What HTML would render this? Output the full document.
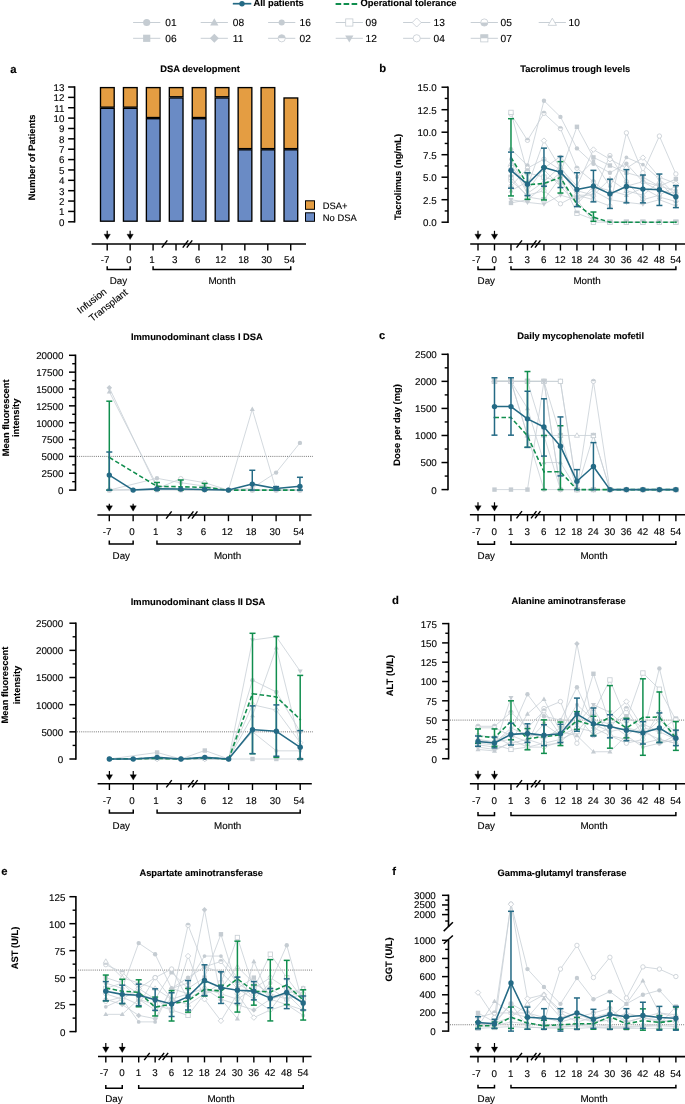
<!DOCTYPE html>
<html><head><meta charset="utf-8"><style>
html,body{margin:0;padding:0;background:#fff;width:685px;height:1104px;overflow:hidden}
svg{display:block}
text{font-family:"Liberation Sans",sans-serif;text-rendering:geometricPrecision}
</style></head><body>
<div style="will-change:transform"><svg width="685" height="1104" viewBox="0 0 685 1104">
<rect width="685" height="1104" fill="#fff"/>
<line x1="232.8" y1="3.7" x2="251.3" y2="3.7" stroke="#246A85" stroke-width="1.7"/>
<circle cx="242" cy="3.7" r="2.7" fill="#246A85"/>
<text x="253.4" y="6.3" font-size="9.35" font-weight="bold" text-anchor="start" fill="#000" stroke="#000" stroke-width="0.12">All patients</text>
<line x1="335.6" y1="3.9" x2="357.2" y2="3.9" stroke="#108E4E" stroke-width="2" stroke-dasharray="5.6,2.4"/>
<text x="360.5" y="6.3" font-size="9.35" font-weight="bold" text-anchor="start" fill="#000" stroke="#000" stroke-width="0.12">Operational tolerance</text>
<line x1="133.1" y1="22.5" x2="160.3" y2="22.5" stroke="#C8CFD5" stroke-width="1.0"/>
<circle cx="146.7" cy="22.5" r="3.6" fill="#C5CCD2"/>
<text x="165.3" y="26.1" font-size="10.2" text-anchor="start" fill="#000" stroke="#000" stroke-width="0.12">01</text>
<line x1="200.7" y1="22.5" x2="227.9" y2="22.5" stroke="#C8CFD5" stroke-width="1.0"/>
<polygon points="214.3,18.18 218.44,25.38 210.16,25.38" fill="#C5CCD2"/>
<text x="232.8" y="26.1" font-size="10.2" text-anchor="start" fill="#000" stroke="#000" stroke-width="0.12">08</text>
<line x1="268.1" y1="22.5" x2="295.3" y2="22.5" stroke="#C8CFD5" stroke-width="1.0"/>
<circle cx="281.7" cy="22.5" r="3.06" fill="#C5CCD2"/>
<text x="299.6" y="26.1" font-size="10.2" text-anchor="start" fill="#000" stroke="#000" stroke-width="0.12">16</text>
<line x1="335.7" y1="22.5" x2="362.9" y2="22.5" stroke="#C8CFD5" stroke-width="1.0"/>
<rect x="345.7" y="18.9" width="7.2" height="7.2" fill="#fff" stroke="#C5CCD2" stroke-width="0.8"/>
<text x="365.6" y="26.1" font-size="10.2" text-anchor="start" fill="#000" stroke="#000" stroke-width="0.12">09</text>
<line x1="403.1" y1="22.5" x2="430.3" y2="22.5" stroke="#C8CFD5" stroke-width="1.0"/>
<polygon points="416.7,18 421.2,22.5 416.7,27 412.2,22.5" fill="#fff" stroke="#C5CCD2" stroke-width="0.8"/>
<text x="433.6" y="26.1" font-size="10.2" text-anchor="start" fill="#000" stroke="#000" stroke-width="0.12">13</text>
<line x1="470.7" y1="22.5" x2="497.9" y2="22.5" stroke="#C8CFD5" stroke-width="1.0"/>
<circle cx="484.3" cy="22.5" r="3.6" fill="#fff" stroke="#C5CCD2" stroke-width="0.8"/>
<path d="M480.7,22.5 A3.6,3.6 0 0 0 487.9,22.5 Z" fill="#C5CCD2"/>
<text x="500.6" y="26.1" font-size="10.2" text-anchor="start" fill="#000" stroke="#000" stroke-width="0.12">05</text>
<line x1="538.7" y1="22.5" x2="565.9" y2="22.5" stroke="#C8CFD5" stroke-width="1.0"/>
<polygon points="552.3,18.18 556.44,25.38 548.16,25.38" fill="#fff" stroke="#C5CCD2" stroke-width="0.8"/>
<text x="568.6" y="26.1" font-size="10.2" text-anchor="start" fill="#000" stroke="#000" stroke-width="0.12">10</text>
<line x1="133.1" y1="38.3" x2="160.3" y2="38.3" stroke="#C8CFD5" stroke-width="1.0"/>
<rect x="143.1" y="34.7" width="7.2" height="7.2" fill="#C5CCD2"/>
<text x="165.3" y="41.9" font-size="10.2" text-anchor="start" fill="#000" stroke="#000" stroke-width="0.12">06</text>
<line x1="200.7" y1="38.3" x2="227.9" y2="38.3" stroke="#C8CFD5" stroke-width="1.0"/>
<polygon points="214.3,33.8 218.8,38.3 214.3,42.8 209.8,38.3" fill="#C5CCD2"/>
<text x="232.8" y="41.9" font-size="10.2" text-anchor="start" fill="#000" stroke="#000" stroke-width="0.12">11</text>
<line x1="268.1" y1="38.3" x2="295.3" y2="38.3" stroke="#C8CFD5" stroke-width="1.0"/>
<circle cx="281.7" cy="38.3" r="3.6" fill="#fff" stroke="#C5CCD2" stroke-width="0.8"/>
<path d="M278.1,38.3 A3.6,3.6 0 0 1 285.3,38.3 Z" fill="#C5CCD2"/>
<text x="299.6" y="41.9" font-size="10.2" text-anchor="start" fill="#000" stroke="#000" stroke-width="0.12">02</text>
<line x1="335.7" y1="38.3" x2="362.9" y2="38.3" stroke="#C8CFD5" stroke-width="1.0"/>
<polygon points="349.3,42.62 353.44,35.42 345.16,35.42" fill="#C5CCD2"/>
<text x="365.6" y="41.9" font-size="10.2" text-anchor="start" fill="#000" stroke="#000" stroke-width="0.12">12</text>
<line x1="403.1" y1="38.3" x2="430.3" y2="38.3" stroke="#C8CFD5" stroke-width="1.0"/>
<circle cx="416.7" cy="38.3" r="3.6" fill="#fff" stroke="#C5CCD2" stroke-width="0.8"/>
<text x="433.6" y="41.9" font-size="10.2" text-anchor="start" fill="#000" stroke="#000" stroke-width="0.12">04</text>
<line x1="470.7" y1="38.3" x2="497.9" y2="38.3" stroke="#C8CFD5" stroke-width="1.0"/>
<rect x="480.7" y="34.7" width="7.2" height="7.2" fill="#fff" stroke="#C5CCD2" stroke-width="0.8"/>
<rect x="480.7" y="34.7" width="7.2" height="3.6" fill="#C5CCD2"/>
<text x="500.6" y="41.9" font-size="10.2" text-anchor="start" fill="#000" stroke="#000" stroke-width="0.12">07</text>
<text x="10.2" y="72.6" font-size="11.3" font-weight="bold" text-anchor="start" fill="#000" stroke="#000" stroke-width="0.12">a</text>
<text x="200" y="72.2" font-size="9.35" font-weight="bold" text-anchor="middle" fill="#000" stroke="#000" stroke-width="0.12">DSA development</text>
<text x="379.2" y="72.4" font-size="11.3" font-weight="bold" text-anchor="start" fill="#000" stroke="#000" stroke-width="0.12">b</text>
<text x="575.3" y="72" font-size="9.35" font-weight="bold" text-anchor="middle" fill="#000" stroke="#000" stroke-width="0.12">Tacrolimus trough levels</text>
<text x="196.9" y="340.2" font-size="9.35" font-weight="bold" text-anchor="middle" fill="#000" stroke="#000" stroke-width="0.12">Immunodominant class I DSA</text>
<text x="379" y="339" font-size="11.1" font-weight="bold" text-anchor="start" fill="#000" stroke="#000" stroke-width="0.12">c</text>
<text x="580.7" y="339.4" font-size="9.35" font-weight="bold" text-anchor="middle" fill="#000" stroke="#000" stroke-width="0.12">Daily mycophenolate mofetil</text>
<text x="198" y="604.8" font-size="9.35" font-weight="bold" text-anchor="middle" fill="#000" stroke="#000" stroke-width="0.12">Immunodominant class II DSA</text>
<text x="392" y="603.9" font-size="11.3" font-weight="bold" text-anchor="start" fill="#000" stroke="#000" stroke-width="0.12">d</text>
<text x="568.6" y="603.8" font-size="9.35" font-weight="bold" text-anchor="middle" fill="#000" stroke="#000" stroke-width="0.12">Alanine aminotransferase</text>
<text x="1.2" y="875.1" font-size="11.3" font-weight="bold" text-anchor="start" fill="#000" stroke="#000" stroke-width="0.12">e</text>
<text x="201.2" y="875.6" font-size="9.35" font-weight="bold" text-anchor="middle" fill="#000" stroke="#000" stroke-width="0.12">Aspartate aminotransferase</text>
<text x="392.2" y="875.4" font-size="11.3" font-weight="bold" text-anchor="start" fill="#000" stroke="#000" stroke-width="0.12">f</text>
<text x="562" y="875.6" font-size="9.35" font-weight="bold" text-anchor="middle" fill="#000" stroke="#000" stroke-width="0.12">Gamma-glutamyl transferase</text>
<text x="35.2" y="157.3" font-size="9.35" font-weight="bold" text-anchor="middle" fill="#000" stroke="#000" stroke-width="0.12" transform="rotate(-90 35.2 157.3)">Number of Patients</text>
<text x="401" y="176.9" font-size="9.35" font-weight="bold" text-anchor="middle" fill="#000" stroke="#000" stroke-width="0.12" transform="rotate(-90 401 176.9)">Tacrolimus (ng/mL)</text>
<text x="8.6" y="417.8" font-size="9.35" font-weight="bold" text-anchor="middle" fill="#000" stroke="#000" stroke-width="0.12" transform="rotate(-90 8.6 417.8)">Mean fluorescent</text>
<text x="19.2" y="417.8" font-size="9.35" font-weight="bold" text-anchor="middle" fill="#000" stroke="#000" stroke-width="0.12" transform="rotate(-90 19.2 417.8)">intensity</text>
<text x="400.1" y="424.9" font-size="9.35" font-weight="bold" text-anchor="middle" fill="#000" stroke="#000" stroke-width="0.12" transform="rotate(-90 400.1 424.9)">Dose per day (mg)</text>
<text x="8.2" y="685" font-size="9.35" font-weight="bold" text-anchor="middle" fill="#000" stroke="#000" stroke-width="0.12" transform="rotate(-90 8.2 685)">Mean fluorescent</text>
<text x="19.6" y="685" font-size="9.35" font-weight="bold" text-anchor="middle" fill="#000" stroke="#000" stroke-width="0.12" transform="rotate(-90 19.6 685)">intensity</text>
<text x="392.9" y="675.5" font-size="9.35" font-weight="bold" text-anchor="middle" fill="#000" stroke="#000" stroke-width="0.12" transform="rotate(-90 392.9 675.5)">ALT (U/L)</text>
<text x="18.1" y="948" font-size="9.35" font-weight="bold" text-anchor="middle" fill="#000" stroke="#000" stroke-width="0.12" transform="rotate(-90 18.1 948)">AST (U/L)</text>
<text x="392" y="959.5" font-size="9.35" font-weight="bold" text-anchor="middle" fill="#000" stroke="#000" stroke-width="0.12" transform="rotate(-90 392 959.5)">GGT (U/L)</text>
<line x1="74.6" y1="86.25" x2="74.6" y2="222.55" stroke="#000" stroke-width="1.6"/>
<line x1="68.1" y1="221.8" x2="74.6" y2="221.8" stroke="#000" stroke-width="1.5"/>
<text x="64.5" y="225.7" font-size="9.8" text-anchor="end" fill="#000" stroke="#000" stroke-width="0.12">0</text>
<line x1="68.1" y1="211.43" x2="74.6" y2="211.43" stroke="#000" stroke-width="1.5"/>
<text x="64.5" y="215.33" font-size="9.8" text-anchor="end" fill="#000" stroke="#000" stroke-width="0.12">1</text>
<line x1="68.1" y1="201.06" x2="74.6" y2="201.06" stroke="#000" stroke-width="1.5"/>
<text x="64.5" y="204.96" font-size="9.8" text-anchor="end" fill="#000" stroke="#000" stroke-width="0.12">2</text>
<line x1="68.1" y1="190.69" x2="74.6" y2="190.69" stroke="#000" stroke-width="1.5"/>
<text x="64.5" y="194.59" font-size="9.8" text-anchor="end" fill="#000" stroke="#000" stroke-width="0.12">3</text>
<line x1="68.1" y1="180.32" x2="74.6" y2="180.32" stroke="#000" stroke-width="1.5"/>
<text x="64.5" y="184.22" font-size="9.8" text-anchor="end" fill="#000" stroke="#000" stroke-width="0.12">4</text>
<line x1="68.1" y1="169.95" x2="74.6" y2="169.95" stroke="#000" stroke-width="1.5"/>
<text x="64.5" y="173.85" font-size="9.8" text-anchor="end" fill="#000" stroke="#000" stroke-width="0.12">5</text>
<line x1="68.1" y1="159.58" x2="74.6" y2="159.58" stroke="#000" stroke-width="1.5"/>
<text x="64.5" y="163.48" font-size="9.8" text-anchor="end" fill="#000" stroke="#000" stroke-width="0.12">6</text>
<line x1="68.1" y1="149.22" x2="74.6" y2="149.22" stroke="#000" stroke-width="1.5"/>
<text x="64.5" y="153.12" font-size="9.8" text-anchor="end" fill="#000" stroke="#000" stroke-width="0.12">7</text>
<line x1="68.1" y1="138.85" x2="74.6" y2="138.85" stroke="#000" stroke-width="1.5"/>
<text x="64.5" y="142.75" font-size="9.8" text-anchor="end" fill="#000" stroke="#000" stroke-width="0.12">8</text>
<line x1="68.1" y1="128.48" x2="74.6" y2="128.48" stroke="#000" stroke-width="1.5"/>
<text x="64.5" y="132.38" font-size="9.8" text-anchor="end" fill="#000" stroke="#000" stroke-width="0.12">9</text>
<line x1="68.1" y1="118.11" x2="74.6" y2="118.11" stroke="#000" stroke-width="1.5"/>
<text x="64.5" y="122.01" font-size="9.8" text-anchor="end" fill="#000" stroke="#000" stroke-width="0.12">10</text>
<line x1="68.1" y1="107.74" x2="74.6" y2="107.74" stroke="#000" stroke-width="1.5"/>
<text x="64.5" y="111.64" font-size="9.8" text-anchor="end" fill="#000" stroke="#000" stroke-width="0.12">11</text>
<line x1="68.1" y1="97.37" x2="74.6" y2="97.37" stroke="#000" stroke-width="1.5"/>
<text x="64.5" y="101.27" font-size="9.8" text-anchor="end" fill="#000" stroke="#000" stroke-width="0.12">12</text>
<line x1="68.1" y1="87" x2="74.6" y2="87" stroke="#000" stroke-width="1.5"/>
<text x="64.5" y="90.9" font-size="9.8" text-anchor="end" fill="#000" stroke="#000" stroke-width="0.12">13</text>
<rect x="100.5" y="87.6" width="13.7" height="19.54" fill="#E49D42" stroke="#000" stroke-width="1.35"/>
<rect x="100.5" y="108.34" width="13.7" height="112.86" fill="#6A8BC5" stroke="#000" stroke-width="1.35"/>
<rect x="123.44" y="87.6" width="13.7" height="19.54" fill="#E49D42" stroke="#000" stroke-width="1.35"/>
<rect x="123.44" y="108.34" width="13.7" height="112.86" fill="#6A8BC5" stroke="#000" stroke-width="1.35"/>
<rect x="146.38" y="87.6" width="13.7" height="29.91" fill="#E49D42" stroke="#000" stroke-width="1.35"/>
<rect x="146.38" y="118.71" width="13.7" height="102.49" fill="#6A8BC5" stroke="#000" stroke-width="1.35"/>
<rect x="169.32" y="87.6" width="13.7" height="9.17" fill="#E49D42" stroke="#000" stroke-width="1.35"/>
<rect x="169.32" y="97.97" width="13.7" height="123.23" fill="#6A8BC5" stroke="#000" stroke-width="1.35"/>
<rect x="192.26" y="87.6" width="13.7" height="29.91" fill="#E49D42" stroke="#000" stroke-width="1.35"/>
<rect x="192.26" y="118.71" width="13.7" height="102.49" fill="#6A8BC5" stroke="#000" stroke-width="1.35"/>
<rect x="215.2" y="87.6" width="13.7" height="9.17" fill="#E49D42" stroke="#000" stroke-width="1.35"/>
<rect x="215.2" y="97.97" width="13.7" height="123.23" fill="#6A8BC5" stroke="#000" stroke-width="1.35"/>
<rect x="238.14" y="87.6" width="13.7" height="61.02" fill="#E49D42" stroke="#000" stroke-width="1.35"/>
<rect x="238.14" y="149.82" width="13.7" height="71.38" fill="#6A8BC5" stroke="#000" stroke-width="1.35"/>
<rect x="261.08" y="87.6" width="13.7" height="61.02" fill="#E49D42" stroke="#000" stroke-width="1.35"/>
<rect x="261.08" y="149.82" width="13.7" height="71.38" fill="#6A8BC5" stroke="#000" stroke-width="1.35"/>
<rect x="284.02" y="97.97" width="13.7" height="50.65" fill="#E49D42" stroke="#000" stroke-width="1.35"/>
<rect x="284.02" y="149.82" width="13.7" height="71.38" fill="#6A8BC5" stroke="#000" stroke-width="1.35"/>
<rect x="305.5" y="200.8" width="9" height="8.5" fill="#E49D42" stroke="#000" stroke-width="1"/>
<rect x="305.5" y="212.8" width="9" height="8.5" fill="#6A8BC5" stroke="#000" stroke-width="1"/>
<text x="322.8" y="209.1" font-size="9.4" text-anchor="start" fill="#000" stroke="#000" stroke-width="0.12">DSA+</text>
<text x="322.8" y="221.3" font-size="9.4" text-anchor="start" fill="#000" stroke="#000" stroke-width="0.12">No DSA</text>
<line x1="91.7" y1="244" x2="306" y2="244" stroke="#000" stroke-width="1.6"/>
<line x1="107.2" y1="244" x2="107.2" y2="250.5" stroke="#000" stroke-width="1.4"/>
<text x="105" y="262.8" font-size="9.8" text-anchor="middle" fill="#000" stroke="#000" stroke-width="0.12">-7</text>
<line x1="130.14" y1="244" x2="130.14" y2="250.5" stroke="#000" stroke-width="1.4"/>
<text x="128.94" y="262.8" font-size="9.8" text-anchor="middle" fill="#000" stroke="#000" stroke-width="0.12">0</text>
<line x1="153.08" y1="244" x2="153.08" y2="250.5" stroke="#000" stroke-width="1.4"/>
<text x="151.88" y="262.8" font-size="9.8" text-anchor="middle" fill="#000" stroke="#000" stroke-width="0.12">1</text>
<line x1="176.02" y1="244" x2="176.02" y2="250.5" stroke="#000" stroke-width="1.4"/>
<text x="174.82" y="262.8" font-size="9.8" text-anchor="middle" fill="#000" stroke="#000" stroke-width="0.12">3</text>
<line x1="198.96" y1="244" x2="198.96" y2="250.5" stroke="#000" stroke-width="1.4"/>
<text x="197.76" y="262.8" font-size="9.8" text-anchor="middle" fill="#000" stroke="#000" stroke-width="0.12">6</text>
<line x1="221.9" y1="244" x2="221.9" y2="250.5" stroke="#000" stroke-width="1.4"/>
<text x="220.7" y="262.8" font-size="9.8" text-anchor="middle" fill="#000" stroke="#000" stroke-width="0.12">12</text>
<line x1="244.84" y1="244" x2="244.84" y2="250.5" stroke="#000" stroke-width="1.4"/>
<text x="243.64" y="262.8" font-size="9.8" text-anchor="middle" fill="#000" stroke="#000" stroke-width="0.12">18</text>
<line x1="267.78" y1="244" x2="267.78" y2="250.5" stroke="#000" stroke-width="1.4"/>
<text x="266.58" y="262.8" font-size="9.8" text-anchor="middle" fill="#000" stroke="#000" stroke-width="0.12">30</text>
<line x1="290.72" y1="244" x2="290.72" y2="250.5" stroke="#000" stroke-width="1.4"/>
<text x="289.52" y="262.8" font-size="9.8" text-anchor="middle" fill="#000" stroke="#000" stroke-width="0.12">54</text>
<line x1="107.2" y1="230.8" x2="107.2" y2="235.6" stroke="#000" stroke-width="1.2"/>
<polygon points="104,234.2 110.4,234.2 107.2,239.6" fill="#000" stroke="#000" stroke-width="0.3" stroke-linejoin="miter"/>
<line x1="130.14" y1="230.8" x2="130.14" y2="235.6" stroke="#000" stroke-width="1.2"/>
<polygon points="126.94,234.2 133.34,234.2 130.14,239.6" fill="#000" stroke="#000" stroke-width="0.3" stroke-linejoin="miter"/>
<line x1="161.8" y1="247.65" x2="167.3" y2="240.35" stroke="#000" stroke-width="1.4"/>
<line x1="182.74" y1="247.65" x2="188.24" y2="240.35" stroke="#000" stroke-width="1.4"/>
<line x1="186.74" y1="247.65" x2="192.24" y2="240.35" stroke="#000" stroke-width="1.4"/>
<polyline points="107.2,266.3 107.2,269.5 130.14,269.5 130.14,266.3" fill="none" stroke="#000" stroke-width="1.5"/>
<polyline points="153.08,266.3 153.08,269.5 290.72,269.5 290.72,266.3" fill="none" stroke="#000" stroke-width="1.5"/>
<text x="118.5" y="284.4" font-size="9.8" text-anchor="middle" fill="#000" stroke="#000" stroke-width="0.12">Day</text>
<text x="222" y="284.4" font-size="9.8" text-anchor="middle" fill="#000" stroke="#000" stroke-width="0.12">Month</text>
<text x="107.3" y="292.8" font-size="9.8" text-anchor="end" fill="#000" stroke="#000" stroke-width="0.12" transform="rotate(-38 107.3 292.8)">Infusion</text>
<text x="128.5" y="293.6" font-size="9.8" text-anchor="end" fill="#000" stroke="#000" stroke-width="0.12" transform="rotate(-38 128.5 293.6)">Transplant</text>
<polyline points="510.98,149.3 527.47,165.5 543.96,100.7 560.45,116.9 576.94,148.4 593.43,163.7 609.92,172.7 626.41,163.7 642.9,181.7 659.39,186.2 675.88,190.7" fill="none" stroke="#C8CFD5" stroke-width="0.8" stroke-linejoin="round"/>
<polyline points="510.98,114.2 527.47,140.3 543.96,113.3 560.45,128.6 576.94,168.2 593.43,181.7 609.92,195.2 626.41,186.2 642.9,181.7 659.39,190.7 675.88,193.4" fill="none" stroke="#C8CFD5" stroke-width="0.8" stroke-linejoin="round"/>
<polyline points="510.98,166.4 527.47,186.2 543.96,140.66 560.45,168.2 576.94,186.2 593.43,149.57 609.92,159.2 626.41,168.2 642.9,157.67 659.39,177.2 675.88,183.5" fill="none" stroke="#C8CFD5" stroke-width="0.8" stroke-linejoin="round"/>
<polyline points="510.98,202.94 527.47,199.7 543.96,186.2 560.45,172.7 576.94,126.8 593.43,157.4 609.92,165.5 626.41,172.7 642.9,177.2 659.39,186.2 675.88,179" fill="none" stroke="#C8CFD5" stroke-width="0.8" stroke-linejoin="round"/>
<polyline points="510.98,180.8 527.47,195.2 543.96,190.7 560.45,203.75 576.94,195.2 593.43,199.7 609.92,206 626.41,132.83 642.9,172.7 659.39,136.07 675.88,173.96" fill="none" stroke="#C8CFD5" stroke-width="0.8" stroke-linejoin="round"/>
<polyline points="510.98,112.4 527.47,172.7 543.96,177.2 560.45,181.7 576.94,199.7 593.43,222.2 609.92,222.2 626.41,222.2 642.9,222.2 659.39,222.2 675.88,222.2" fill="none" stroke="#C8CFD5" stroke-width="0.8" stroke-linejoin="round"/>
<polyline points="510.98,177.2 527.47,197 543.96,199.7 560.45,177.2 576.94,213.2 593.43,219.5 609.92,222.2 626.41,222.2 642.9,222.2 659.39,222.2 675.88,222.2" fill="none" stroke="#C8CFD5" stroke-width="0.8" stroke-linejoin="round"/>
<polyline points="510.98,190.7 527.47,181.7 543.96,170 560.45,186.2 576.94,204.2 593.43,186.2 609.92,190.7 626.41,195.2 642.9,188 659.39,197 675.88,201.5" fill="none" stroke="#C8CFD5" stroke-width="0.8" stroke-linejoin="round"/>
<polyline points="510.98,159.2 527.47,190.7 543.96,168.2 560.45,156.5 576.94,177.2 593.43,161 609.92,186.2 626.41,157.4 642.9,164.6 659.39,179 675.88,195.2" fill="none" stroke="#C8CFD5" stroke-width="0.8" stroke-linejoin="round"/>
<polyline points="510.98,186.2 527.47,168.2 543.96,159.2 560.45,170 576.94,195.2 593.43,195.2 609.92,155.6 626.41,181.7 642.9,199.7 659.39,195.2 675.88,186.2" fill="none" stroke="#C8CFD5" stroke-width="0.8" stroke-linejoin="round"/>
<polyline points="510.98,199.7 527.47,202.4 543.96,204.2 560.45,195.2 576.94,199.7 593.43,190.7 609.92,199.7 626.41,202.4 642.9,204.2 659.39,199.7 675.88,206" fill="none" stroke="#C8CFD5" stroke-width="0.8" stroke-linejoin="round"/>
<polyline points="510.98,163.7 527.47,193.4 543.96,181.7 560.45,166.4 576.94,190.7 593.43,195.2 609.92,179 626.41,190.7 642.9,195.2 659.39,181.7 675.88,199.7" fill="none" stroke="#C8CFD5" stroke-width="0.8" stroke-linejoin="round"/>
<circle cx="510.98" cy="149.3" r="2.2" fill="#C5CCD2"/>
<circle cx="527.47" cy="165.5" r="2.2" fill="#C5CCD2"/>
<circle cx="543.96" cy="100.7" r="2.2" fill="#C5CCD2"/>
<circle cx="560.45" cy="116.9" r="2.2" fill="#C5CCD2"/>
<circle cx="576.94" cy="148.4" r="2.2" fill="#C5CCD2"/>
<circle cx="593.43" cy="163.7" r="2.2" fill="#C5CCD2"/>
<circle cx="609.92" cy="172.7" r="2.2" fill="#C5CCD2"/>
<circle cx="626.41" cy="163.7" r="2.2" fill="#C5CCD2"/>
<circle cx="642.9" cy="181.7" r="2.2" fill="#C5CCD2"/>
<circle cx="659.39" cy="186.2" r="2.2" fill="#C5CCD2"/>
<circle cx="675.88" cy="190.7" r="2.2" fill="#C5CCD2"/>
<circle cx="510.98" cy="114.2" r="2.2" fill="#fff" stroke="#C5CCD2" stroke-width="0.8"/>
<path d="M508.78,114.2 A2.2,2.2 0 0 1 513.18,114.2 Z" fill="#C5CCD2"/>
<circle cx="527.47" cy="140.3" r="2.2" fill="#fff" stroke="#C5CCD2" stroke-width="0.8"/>
<path d="M525.27,140.3 A2.2,2.2 0 0 1 529.67,140.3 Z" fill="#C5CCD2"/>
<circle cx="543.96" cy="113.3" r="2.2" fill="#fff" stroke="#C5CCD2" stroke-width="0.8"/>
<path d="M541.76,113.3 A2.2,2.2 0 0 1 546.16,113.3 Z" fill="#C5CCD2"/>
<circle cx="560.45" cy="128.6" r="2.2" fill="#fff" stroke="#C5CCD2" stroke-width="0.8"/>
<path d="M558.25,128.6 A2.2,2.2 0 0 1 562.65,128.6 Z" fill="#C5CCD2"/>
<circle cx="576.94" cy="168.2" r="2.2" fill="#fff" stroke="#C5CCD2" stroke-width="0.8"/>
<path d="M574.74,168.2 A2.2,2.2 0 0 1 579.14,168.2 Z" fill="#C5CCD2"/>
<circle cx="593.43" cy="181.7" r="2.2" fill="#fff" stroke="#C5CCD2" stroke-width="0.8"/>
<path d="M591.23,181.7 A2.2,2.2 0 0 1 595.63,181.7 Z" fill="#C5CCD2"/>
<circle cx="609.92" cy="195.2" r="2.2" fill="#fff" stroke="#C5CCD2" stroke-width="0.8"/>
<path d="M607.72,195.2 A2.2,2.2 0 0 1 612.12,195.2 Z" fill="#C5CCD2"/>
<circle cx="626.41" cy="186.2" r="2.2" fill="#fff" stroke="#C5CCD2" stroke-width="0.8"/>
<path d="M624.21,186.2 A2.2,2.2 0 0 1 628.61,186.2 Z" fill="#C5CCD2"/>
<circle cx="642.9" cy="181.7" r="2.2" fill="#fff" stroke="#C5CCD2" stroke-width="0.8"/>
<path d="M640.7,181.7 A2.2,2.2 0 0 1 645.1,181.7 Z" fill="#C5CCD2"/>
<circle cx="659.39" cy="190.7" r="2.2" fill="#fff" stroke="#C5CCD2" stroke-width="0.8"/>
<path d="M657.19,190.7 A2.2,2.2 0 0 1 661.59,190.7 Z" fill="#C5CCD2"/>
<circle cx="675.88" cy="193.4" r="2.2" fill="#fff" stroke="#C5CCD2" stroke-width="0.8"/>
<path d="M673.68,193.4 A2.2,2.2 0 0 1 678.08,193.4 Z" fill="#C5CCD2"/>
<polygon points="510.98,163.65 513.73,166.4 510.98,169.15 508.23,166.4" fill="#fff" stroke="#C5CCD2" stroke-width="0.8"/>
<polygon points="527.47,183.45 530.22,186.2 527.47,188.95 524.72,186.2" fill="#fff" stroke="#C5CCD2" stroke-width="0.8"/>
<polygon points="543.96,137.91 546.71,140.66 543.96,143.41 541.21,140.66" fill="#fff" stroke="#C5CCD2" stroke-width="0.8"/>
<polygon points="560.45,165.45 563.2,168.2 560.45,170.95 557.7,168.2" fill="#fff" stroke="#C5CCD2" stroke-width="0.8"/>
<polygon points="576.94,183.45 579.69,186.2 576.94,188.95 574.19,186.2" fill="#fff" stroke="#C5CCD2" stroke-width="0.8"/>
<polygon points="593.43,146.82 596.18,149.57 593.43,152.32 590.68,149.57" fill="#fff" stroke="#C5CCD2" stroke-width="0.8"/>
<polygon points="609.92,156.45 612.67,159.2 609.92,161.95 607.17,159.2" fill="#fff" stroke="#C5CCD2" stroke-width="0.8"/>
<polygon points="626.41,165.45 629.16,168.2 626.41,170.95 623.66,168.2" fill="#fff" stroke="#C5CCD2" stroke-width="0.8"/>
<polygon points="642.9,154.92 645.65,157.67 642.9,160.42 640.15,157.67" fill="#fff" stroke="#C5CCD2" stroke-width="0.8"/>
<polygon points="659.39,174.45 662.14,177.2 659.39,179.95 656.64,177.2" fill="#fff" stroke="#C5CCD2" stroke-width="0.8"/>
<polygon points="675.88,180.75 678.63,183.5 675.88,186.25 673.13,183.5" fill="#fff" stroke="#C5CCD2" stroke-width="0.8"/>
<rect x="508.78" y="200.74" width="4.4" height="4.4" fill="#C5CCD2"/>
<rect x="525.27" y="197.5" width="4.4" height="4.4" fill="#C5CCD2"/>
<rect x="541.76" y="184" width="4.4" height="4.4" fill="#C5CCD2"/>
<rect x="558.25" y="170.5" width="4.4" height="4.4" fill="#C5CCD2"/>
<rect x="574.74" y="124.6" width="4.4" height="4.4" fill="#C5CCD2"/>
<rect x="591.23" y="155.2" width="4.4" height="4.4" fill="#C5CCD2"/>
<rect x="607.72" y="163.3" width="4.4" height="4.4" fill="#C5CCD2"/>
<rect x="624.21" y="170.5" width="4.4" height="4.4" fill="#C5CCD2"/>
<rect x="640.7" y="175" width="4.4" height="4.4" fill="#C5CCD2"/>
<rect x="657.19" y="184" width="4.4" height="4.4" fill="#C5CCD2"/>
<rect x="673.68" y="176.8" width="4.4" height="4.4" fill="#C5CCD2"/>
<circle cx="510.98" cy="180.8" r="2.2" fill="#fff" stroke="#C5CCD2" stroke-width="0.8"/>
<circle cx="527.47" cy="195.2" r="2.2" fill="#fff" stroke="#C5CCD2" stroke-width="0.8"/>
<circle cx="543.96" cy="190.7" r="2.2" fill="#fff" stroke="#C5CCD2" stroke-width="0.8"/>
<circle cx="560.45" cy="203.75" r="2.2" fill="#fff" stroke="#C5CCD2" stroke-width="0.8"/>
<circle cx="576.94" cy="195.2" r="2.2" fill="#fff" stroke="#C5CCD2" stroke-width="0.8"/>
<circle cx="593.43" cy="199.7" r="2.2" fill="#fff" stroke="#C5CCD2" stroke-width="0.8"/>
<circle cx="609.92" cy="206" r="2.2" fill="#fff" stroke="#C5CCD2" stroke-width="0.8"/>
<circle cx="626.41" cy="132.83" r="2.2" fill="#fff" stroke="#C5CCD2" stroke-width="0.8"/>
<circle cx="642.9" cy="172.7" r="2.2" fill="#fff" stroke="#C5CCD2" stroke-width="0.8"/>
<circle cx="659.39" cy="136.07" r="2.2" fill="#fff" stroke="#C5CCD2" stroke-width="0.8"/>
<circle cx="675.88" cy="173.96" r="2.2" fill="#fff" stroke="#C5CCD2" stroke-width="0.8"/>
<rect x="508.78" y="110.2" width="4.4" height="4.4" fill="#fff" stroke="#C5CCD2" stroke-width="0.8"/>
<rect x="525.27" y="170.5" width="4.4" height="4.4" fill="#fff" stroke="#C5CCD2" stroke-width="0.8"/>
<rect x="541.76" y="175" width="4.4" height="4.4" fill="#fff" stroke="#C5CCD2" stroke-width="0.8"/>
<rect x="558.25" y="179.5" width="4.4" height="4.4" fill="#fff" stroke="#C5CCD2" stroke-width="0.8"/>
<rect x="574.74" y="197.5" width="4.4" height="4.4" fill="#fff" stroke="#C5CCD2" stroke-width="0.8"/>
<rect x="591.23" y="220" width="4.4" height="4.4" fill="#fff" stroke="#C5CCD2" stroke-width="0.8"/>
<rect x="607.72" y="220" width="4.4" height="4.4" fill="#fff" stroke="#C5CCD2" stroke-width="0.8"/>
<rect x="624.21" y="220" width="4.4" height="4.4" fill="#fff" stroke="#C5CCD2" stroke-width="0.8"/>
<rect x="640.7" y="220" width="4.4" height="4.4" fill="#fff" stroke="#C5CCD2" stroke-width="0.8"/>
<rect x="657.19" y="220" width="4.4" height="4.4" fill="#fff" stroke="#C5CCD2" stroke-width="0.8"/>
<rect x="673.68" y="220" width="4.4" height="4.4" fill="#fff" stroke="#C5CCD2" stroke-width="0.8"/>
<rect x="508.78" y="175" width="4.4" height="4.4" fill="#fff" stroke="#C5CCD2" stroke-width="0.8"/>
<rect x="508.78" y="175" width="4.4" height="2.2" fill="#C5CCD2"/>
<rect x="525.27" y="194.8" width="4.4" height="4.4" fill="#fff" stroke="#C5CCD2" stroke-width="0.8"/>
<rect x="525.27" y="194.8" width="4.4" height="2.2" fill="#C5CCD2"/>
<rect x="541.76" y="197.5" width="4.4" height="4.4" fill="#fff" stroke="#C5CCD2" stroke-width="0.8"/>
<rect x="541.76" y="197.5" width="4.4" height="2.2" fill="#C5CCD2"/>
<rect x="558.25" y="175" width="4.4" height="4.4" fill="#fff" stroke="#C5CCD2" stroke-width="0.8"/>
<rect x="558.25" y="175" width="4.4" height="2.2" fill="#C5CCD2"/>
<rect x="574.74" y="211" width="4.4" height="4.4" fill="#fff" stroke="#C5CCD2" stroke-width="0.8"/>
<rect x="574.74" y="211" width="4.4" height="2.2" fill="#C5CCD2"/>
<rect x="591.23" y="217.3" width="4.4" height="4.4" fill="#fff" stroke="#C5CCD2" stroke-width="0.8"/>
<rect x="591.23" y="217.3" width="4.4" height="2.2" fill="#C5CCD2"/>
<rect x="607.72" y="220" width="4.4" height="4.4" fill="#fff" stroke="#C5CCD2" stroke-width="0.8"/>
<rect x="607.72" y="220" width="4.4" height="2.2" fill="#C5CCD2"/>
<rect x="624.21" y="220" width="4.4" height="4.4" fill="#fff" stroke="#C5CCD2" stroke-width="0.8"/>
<rect x="624.21" y="220" width="4.4" height="2.2" fill="#C5CCD2"/>
<rect x="640.7" y="220" width="4.4" height="4.4" fill="#fff" stroke="#C5CCD2" stroke-width="0.8"/>
<rect x="640.7" y="220" width="4.4" height="2.2" fill="#C5CCD2"/>
<rect x="657.19" y="220" width="4.4" height="4.4" fill="#fff" stroke="#C5CCD2" stroke-width="0.8"/>
<rect x="657.19" y="220" width="4.4" height="2.2" fill="#C5CCD2"/>
<rect x="673.68" y="220" width="4.4" height="4.4" fill="#fff" stroke="#C5CCD2" stroke-width="0.8"/>
<rect x="673.68" y="220" width="4.4" height="2.2" fill="#C5CCD2"/>
<polygon points="510.98,188.06 513.51,192.46 508.45,192.46" fill="#C5CCD2"/>
<polygon points="527.47,179.06 530,183.46 524.94,183.46" fill="#C5CCD2"/>
<polygon points="543.96,167.36 546.49,171.76 541.43,171.76" fill="#C5CCD2"/>
<polygon points="560.45,183.56 562.98,187.96 557.92,187.96" fill="#C5CCD2"/>
<polygon points="576.94,201.56 579.47,205.96 574.41,205.96" fill="#C5CCD2"/>
<polygon points="593.43,183.56 595.96,187.96 590.9,187.96" fill="#C5CCD2"/>
<polygon points="609.92,188.06 612.45,192.46 607.39,192.46" fill="#C5CCD2"/>
<polygon points="626.41,192.56 628.94,196.96 623.88,196.96" fill="#C5CCD2"/>
<polygon points="642.9,185.36 645.43,189.76 640.37,189.76" fill="#C5CCD2"/>
<polygon points="659.39,194.36 661.92,198.76 656.86,198.76" fill="#C5CCD2"/>
<polygon points="675.88,198.86 678.41,203.26 673.35,203.26" fill="#C5CCD2"/>
<circle cx="510.98" cy="159.2" r="1.87" fill="#C5CCD2"/>
<circle cx="527.47" cy="190.7" r="1.87" fill="#C5CCD2"/>
<circle cx="543.96" cy="168.2" r="1.87" fill="#C5CCD2"/>
<circle cx="560.45" cy="156.5" r="1.87" fill="#C5CCD2"/>
<circle cx="576.94" cy="177.2" r="1.87" fill="#C5CCD2"/>
<circle cx="593.43" cy="161" r="1.87" fill="#C5CCD2"/>
<circle cx="609.92" cy="186.2" r="1.87" fill="#C5CCD2"/>
<circle cx="626.41" cy="157.4" r="1.87" fill="#C5CCD2"/>
<circle cx="642.9" cy="164.6" r="1.87" fill="#C5CCD2"/>
<circle cx="659.39" cy="179" r="1.87" fill="#C5CCD2"/>
<circle cx="675.88" cy="195.2" r="1.87" fill="#C5CCD2"/>
<circle cx="510.98" cy="186.2" r="2.2" fill="#fff" stroke="#C5CCD2" stroke-width="0.8"/>
<path d="M508.78,186.2 A2.2,2.2 0 0 0 513.18,186.2 Z" fill="#C5CCD2"/>
<circle cx="527.47" cy="168.2" r="2.2" fill="#fff" stroke="#C5CCD2" stroke-width="0.8"/>
<path d="M525.27,168.2 A2.2,2.2 0 0 0 529.67,168.2 Z" fill="#C5CCD2"/>
<circle cx="543.96" cy="159.2" r="2.2" fill="#fff" stroke="#C5CCD2" stroke-width="0.8"/>
<path d="M541.76,159.2 A2.2,2.2 0 0 0 546.16,159.2 Z" fill="#C5CCD2"/>
<circle cx="560.45" cy="170" r="2.2" fill="#fff" stroke="#C5CCD2" stroke-width="0.8"/>
<path d="M558.25,170 A2.2,2.2 0 0 0 562.65,170 Z" fill="#C5CCD2"/>
<circle cx="576.94" cy="195.2" r="2.2" fill="#fff" stroke="#C5CCD2" stroke-width="0.8"/>
<path d="M574.74,195.2 A2.2,2.2 0 0 0 579.14,195.2 Z" fill="#C5CCD2"/>
<circle cx="593.43" cy="195.2" r="2.2" fill="#fff" stroke="#C5CCD2" stroke-width="0.8"/>
<path d="M591.23,195.2 A2.2,2.2 0 0 0 595.63,195.2 Z" fill="#C5CCD2"/>
<circle cx="609.92" cy="155.6" r="2.2" fill="#fff" stroke="#C5CCD2" stroke-width="0.8"/>
<path d="M607.72,155.6 A2.2,2.2 0 0 0 612.12,155.6 Z" fill="#C5CCD2"/>
<circle cx="626.41" cy="181.7" r="2.2" fill="#fff" stroke="#C5CCD2" stroke-width="0.8"/>
<path d="M624.21,181.7 A2.2,2.2 0 0 0 628.61,181.7 Z" fill="#C5CCD2"/>
<circle cx="642.9" cy="199.7" r="2.2" fill="#fff" stroke="#C5CCD2" stroke-width="0.8"/>
<path d="M640.7,199.7 A2.2,2.2 0 0 0 645.1,199.7 Z" fill="#C5CCD2"/>
<circle cx="659.39" cy="195.2" r="2.2" fill="#fff" stroke="#C5CCD2" stroke-width="0.8"/>
<path d="M657.19,195.2 A2.2,2.2 0 0 0 661.59,195.2 Z" fill="#C5CCD2"/>
<circle cx="675.88" cy="186.2" r="2.2" fill="#fff" stroke="#C5CCD2" stroke-width="0.8"/>
<path d="M673.68,186.2 A2.2,2.2 0 0 0 678.08,186.2 Z" fill="#C5CCD2"/>
<polygon points="510.98,202.34 513.51,197.94 508.45,197.94" fill="#C5CCD2"/>
<polygon points="527.47,205.04 530,200.64 524.94,200.64" fill="#C5CCD2"/>
<polygon points="543.96,206.84 546.49,202.44 541.43,202.44" fill="#C5CCD2"/>
<polygon points="560.45,197.84 562.98,193.44 557.92,193.44" fill="#C5CCD2"/>
<polygon points="576.94,202.34 579.47,197.94 574.41,197.94" fill="#C5CCD2"/>
<polygon points="593.43,193.34 595.96,188.94 590.9,188.94" fill="#C5CCD2"/>
<polygon points="609.92,202.34 612.45,197.94 607.39,197.94" fill="#C5CCD2"/>
<polygon points="626.41,205.04 628.94,200.64 623.88,200.64" fill="#C5CCD2"/>
<polygon points="642.9,206.84 645.43,202.44 640.37,202.44" fill="#C5CCD2"/>
<polygon points="659.39,202.34 661.92,197.94 656.86,197.94" fill="#C5CCD2"/>
<polygon points="675.88,208.64 678.41,204.24 673.35,204.24" fill="#C5CCD2"/>
<polygon points="510.98,161.06 513.51,165.46 508.45,165.46" fill="#fff" stroke="#C5CCD2" stroke-width="0.8"/>
<polygon points="527.47,190.76 530,195.16 524.94,195.16" fill="#fff" stroke="#C5CCD2" stroke-width="0.8"/>
<polygon points="543.96,179.06 546.49,183.46 541.43,183.46" fill="#fff" stroke="#C5CCD2" stroke-width="0.8"/>
<polygon points="560.45,163.76 562.98,168.16 557.92,168.16" fill="#fff" stroke="#C5CCD2" stroke-width="0.8"/>
<polygon points="576.94,188.06 579.47,192.46 574.41,192.46" fill="#fff" stroke="#C5CCD2" stroke-width="0.8"/>
<polygon points="593.43,192.56 595.96,196.96 590.9,196.96" fill="#fff" stroke="#C5CCD2" stroke-width="0.8"/>
<polygon points="609.92,176.36 612.45,180.76 607.39,180.76" fill="#fff" stroke="#C5CCD2" stroke-width="0.8"/>
<polygon points="626.41,188.06 628.94,192.46 623.88,192.46" fill="#fff" stroke="#C5CCD2" stroke-width="0.8"/>
<polygon points="642.9,192.56 645.43,196.96 640.37,196.96" fill="#fff" stroke="#C5CCD2" stroke-width="0.8"/>
<polygon points="659.39,179.06 661.92,183.46 656.86,183.46" fill="#fff" stroke="#C5CCD2" stroke-width="0.8"/>
<polygon points="675.88,197.06 678.41,201.46 673.35,201.46" fill="#fff" stroke="#C5CCD2" stroke-width="0.8"/>
<line x1="510.98" y1="118.7" x2="510.98" y2="195.92" stroke="#108E4E" stroke-width="1.5"/>
<line x1="507.98" y1="118.7" x2="513.98" y2="118.7" stroke="#108E4E" stroke-width="1.5"/>
<line x1="507.98" y1="195.92" x2="513.98" y2="195.92" stroke="#108E4E" stroke-width="1.5"/>
<line x1="527.47" y1="172.7" x2="527.47" y2="199.34" stroke="#108E4E" stroke-width="1.5"/>
<line x1="524.47" y1="172.7" x2="530.47" y2="172.7" stroke="#108E4E" stroke-width="1.5"/>
<line x1="524.47" y1="199.34" x2="530.47" y2="199.34" stroke="#108E4E" stroke-width="1.5"/>
<line x1="543.96" y1="167.3" x2="543.96" y2="199.97" stroke="#108E4E" stroke-width="1.5"/>
<line x1="540.96" y1="167.3" x2="546.96" y2="167.3" stroke="#108E4E" stroke-width="1.5"/>
<line x1="540.96" y1="199.97" x2="546.96" y2="199.97" stroke="#108E4E" stroke-width="1.5"/>
<line x1="560.45" y1="161.63" x2="560.45" y2="193.04" stroke="#108E4E" stroke-width="1.5"/>
<line x1="557.45" y1="161.63" x2="563.45" y2="161.63" stroke="#108E4E" stroke-width="1.5"/>
<line x1="557.45" y1="193.04" x2="563.45" y2="193.04" stroke="#108E4E" stroke-width="1.5"/>
<line x1="593.43" y1="212.03" x2="593.43" y2="221.3" stroke="#108E4E" stroke-width="1.5"/>
<line x1="590.43" y1="212.03" x2="596.43" y2="212.03" stroke="#108E4E" stroke-width="1.5"/>
<line x1="590.43" y1="221.3" x2="596.43" y2="221.3" stroke="#108E4E" stroke-width="1.5"/>
<polyline points="510.98,157.4 527.47,184.67 543.96,183.5 560.45,177.38 576.94,204.2 593.43,217.16 609.92,222.2 626.41,222.2 642.9,222.2 659.39,222.2 675.88,222.2" fill="none" stroke="#108E4E" stroke-width="1.55" stroke-linejoin="round" stroke-dasharray="4.5,2.5"/>
<circle cx="510.98" cy="157.4" r="1.0" fill="#108E4E"/>
<circle cx="527.47" cy="184.67" r="1.0" fill="#108E4E"/>
<circle cx="543.96" cy="183.5" r="1.0" fill="#108E4E"/>
<circle cx="560.45" cy="177.38" r="1.0" fill="#108E4E"/>
<circle cx="576.94" cy="204.2" r="1.0" fill="#108E4E"/>
<circle cx="593.43" cy="217.16" r="1.0" fill="#108E4E"/>
<circle cx="609.92" cy="222.2" r="1.0" fill="#108E4E"/>
<circle cx="626.41" cy="222.2" r="1.0" fill="#108E4E"/>
<circle cx="642.9" cy="222.2" r="1.0" fill="#108E4E"/>
<circle cx="659.39" cy="222.2" r="1.0" fill="#108E4E"/>
<circle cx="675.88" cy="222.2" r="1.0" fill="#108E4E"/>
<line x1="510.98" y1="152.09" x2="510.98" y2="188.18" stroke="#246A85" stroke-width="1.5"/>
<line x1="507.98" y1="152.09" x2="513.98" y2="152.09" stroke="#246A85" stroke-width="1.5"/>
<line x1="507.98" y1="188.18" x2="513.98" y2="188.18" stroke="#246A85" stroke-width="1.5"/>
<line x1="527.47" y1="172.7" x2="527.47" y2="195.56" stroke="#246A85" stroke-width="1.5"/>
<line x1="524.47" y1="172.7" x2="530.47" y2="172.7" stroke="#246A85" stroke-width="1.5"/>
<line x1="524.47" y1="195.56" x2="530.47" y2="195.56" stroke="#246A85" stroke-width="1.5"/>
<line x1="543.96" y1="148.13" x2="543.96" y2="186.2" stroke="#246A85" stroke-width="1.5"/>
<line x1="540.96" y1="148.13" x2="546.96" y2="148.13" stroke="#246A85" stroke-width="1.5"/>
<line x1="540.96" y1="186.2" x2="546.96" y2="186.2" stroke="#246A85" stroke-width="1.5"/>
<line x1="560.45" y1="156.5" x2="560.45" y2="187.55" stroke="#246A85" stroke-width="1.5"/>
<line x1="557.45" y1="156.5" x2="563.45" y2="156.5" stroke="#246A85" stroke-width="1.5"/>
<line x1="557.45" y1="187.55" x2="563.45" y2="187.55" stroke="#246A85" stroke-width="1.5"/>
<line x1="576.94" y1="172.7" x2="576.94" y2="206.63" stroke="#246A85" stroke-width="1.5"/>
<line x1="573.94" y1="172.7" x2="579.94" y2="172.7" stroke="#246A85" stroke-width="1.5"/>
<line x1="573.94" y1="206.63" x2="579.94" y2="206.63" stroke="#246A85" stroke-width="1.5"/>
<line x1="593.43" y1="170.36" x2="593.43" y2="201.86" stroke="#246A85" stroke-width="1.5"/>
<line x1="590.43" y1="170.36" x2="596.43" y2="170.36" stroke="#246A85" stroke-width="1.5"/>
<line x1="590.43" y1="201.86" x2="596.43" y2="201.86" stroke="#246A85" stroke-width="1.5"/>
<line x1="609.92" y1="179.18" x2="609.92" y2="208.43" stroke="#246A85" stroke-width="1.5"/>
<line x1="606.92" y1="179.18" x2="612.92" y2="179.18" stroke="#246A85" stroke-width="1.5"/>
<line x1="606.92" y1="208.43" x2="612.92" y2="208.43" stroke="#246A85" stroke-width="1.5"/>
<line x1="626.41" y1="169.64" x2="626.41" y2="202.85" stroke="#246A85" stroke-width="1.5"/>
<line x1="623.41" y1="169.64" x2="629.41" y2="169.64" stroke="#246A85" stroke-width="1.5"/>
<line x1="623.41" y1="202.85" x2="629.41" y2="202.85" stroke="#246A85" stroke-width="1.5"/>
<line x1="642.9" y1="175.04" x2="642.9" y2="202.85" stroke="#246A85" stroke-width="1.5"/>
<line x1="639.9" y1="175.04" x2="645.9" y2="175.04" stroke="#246A85" stroke-width="1.5"/>
<line x1="639.9" y1="202.85" x2="645.9" y2="202.85" stroke="#246A85" stroke-width="1.5"/>
<line x1="659.39" y1="174.05" x2="659.39" y2="205.46" stroke="#246A85" stroke-width="1.5"/>
<line x1="656.39" y1="174.05" x2="662.39" y2="174.05" stroke="#246A85" stroke-width="1.5"/>
<line x1="656.39" y1="205.46" x2="662.39" y2="205.46" stroke="#246A85" stroke-width="1.5"/>
<line x1="675.88" y1="185.66" x2="675.88" y2="207.62" stroke="#246A85" stroke-width="1.5"/>
<line x1="672.88" y1="185.66" x2="678.88" y2="185.66" stroke="#246A85" stroke-width="1.5"/>
<line x1="672.88" y1="207.62" x2="678.88" y2="207.62" stroke="#246A85" stroke-width="1.5"/>
<polyline points="510.98,170.36 527.47,184.31 543.96,167.48 560.45,172.16 576.94,189.44 593.43,186.2 609.92,193.85 626.41,186.47 642.9,189.08 659.39,189.71 675.88,196.73" fill="none" stroke="#246A85" stroke-width="1.55" stroke-linejoin="round"/>
<circle cx="510.98" cy="170.36" r="2.7" fill="#246A85"/>
<circle cx="527.47" cy="184.31" r="2.7" fill="#246A85"/>
<circle cx="543.96" cy="167.48" r="2.7" fill="#246A85"/>
<circle cx="560.45" cy="172.16" r="2.7" fill="#246A85"/>
<circle cx="576.94" cy="189.44" r="2.7" fill="#246A85"/>
<circle cx="593.43" cy="186.2" r="2.7" fill="#246A85"/>
<circle cx="609.92" cy="193.85" r="2.7" fill="#246A85"/>
<circle cx="626.41" cy="186.47" r="2.7" fill="#246A85"/>
<circle cx="642.9" cy="189.08" r="2.7" fill="#246A85"/>
<circle cx="659.39" cy="189.71" r="2.7" fill="#246A85"/>
<circle cx="675.88" cy="196.73" r="2.7" fill="#246A85"/>
<line x1="448" y1="86.45" x2="448" y2="222.95" stroke="#000" stroke-width="1.6"/>
<line x1="441.5" y1="222.2" x2="448" y2="222.2" stroke="#000" stroke-width="1.5"/>
<text x="436.7" y="226.1" font-size="9.8" text-anchor="end" fill="#000" stroke="#000" stroke-width="0.12">0.0</text>
<line x1="441.5" y1="199.7" x2="448" y2="199.7" stroke="#000" stroke-width="1.5"/>
<text x="436.7" y="203.6" font-size="9.8" text-anchor="end" fill="#000" stroke="#000" stroke-width="0.12">2.5</text>
<line x1="441.5" y1="177.2" x2="448" y2="177.2" stroke="#000" stroke-width="1.5"/>
<text x="436.7" y="181.1" font-size="9.8" text-anchor="end" fill="#000" stroke="#000" stroke-width="0.12">5.0</text>
<line x1="441.5" y1="154.7" x2="448" y2="154.7" stroke="#000" stroke-width="1.5"/>
<text x="436.7" y="158.6" font-size="9.8" text-anchor="end" fill="#000" stroke="#000" stroke-width="0.12">7.5</text>
<line x1="441.5" y1="132.2" x2="448" y2="132.2" stroke="#000" stroke-width="1.5"/>
<text x="436.7" y="136.1" font-size="9.8" text-anchor="end" fill="#000" stroke="#000" stroke-width="0.12">10.0</text>
<line x1="441.5" y1="109.7" x2="448" y2="109.7" stroke="#000" stroke-width="1.5"/>
<text x="436.7" y="113.6" font-size="9.8" text-anchor="end" fill="#000" stroke="#000" stroke-width="0.12">12.5</text>
<line x1="441.5" y1="87.2" x2="448" y2="87.2" stroke="#000" stroke-width="1.5"/>
<text x="436.7" y="91.1" font-size="9.8" text-anchor="end" fill="#000" stroke="#000" stroke-width="0.12">15.0</text>
<line x1="444.7" y1="210.95" x2="448" y2="210.95" stroke="#000" stroke-width="1.4"/>
<line x1="444.7" y1="188.45" x2="448" y2="188.45" stroke="#000" stroke-width="1.4"/>
<line x1="444.7" y1="165.95" x2="448" y2="165.95" stroke="#000" stroke-width="1.4"/>
<line x1="444.7" y1="143.45" x2="448" y2="143.45" stroke="#000" stroke-width="1.4"/>
<line x1="444.7" y1="120.95" x2="448" y2="120.95" stroke="#000" stroke-width="1.4"/>
<line x1="444.7" y1="98.45" x2="448" y2="98.45" stroke="#000" stroke-width="1.4"/>
<line x1="470.2" y1="244" x2="685" y2="244" stroke="#000" stroke-width="1.6"/>
<line x1="478" y1="244" x2="478" y2="250.5" stroke="#000" stroke-width="1.4"/>
<text x="476.3" y="262.8" font-size="9.8" text-anchor="middle" fill="#000" stroke="#000" stroke-width="0.12">-7</text>
<line x1="494.49" y1="244" x2="494.49" y2="250.5" stroke="#000" stroke-width="1.4"/>
<text x="494.29" y="262.8" font-size="9.8" text-anchor="middle" fill="#000" stroke="#000" stroke-width="0.12">0</text>
<line x1="510.98" y1="244" x2="510.98" y2="250.5" stroke="#000" stroke-width="1.4"/>
<text x="510.78" y="262.8" font-size="9.8" text-anchor="middle" fill="#000" stroke="#000" stroke-width="0.12">1</text>
<line x1="527.47" y1="244" x2="527.47" y2="250.5" stroke="#000" stroke-width="1.4"/>
<text x="527.27" y="262.8" font-size="9.8" text-anchor="middle" fill="#000" stroke="#000" stroke-width="0.12">3</text>
<line x1="543.96" y1="244" x2="543.96" y2="250.5" stroke="#000" stroke-width="1.4"/>
<text x="543.76" y="262.8" font-size="9.8" text-anchor="middle" fill="#000" stroke="#000" stroke-width="0.12">6</text>
<line x1="560.45" y1="244" x2="560.45" y2="250.5" stroke="#000" stroke-width="1.4"/>
<text x="560.25" y="262.8" font-size="9.8" text-anchor="middle" fill="#000" stroke="#000" stroke-width="0.12">12</text>
<line x1="576.94" y1="244" x2="576.94" y2="250.5" stroke="#000" stroke-width="1.4"/>
<text x="576.74" y="262.8" font-size="9.8" text-anchor="middle" fill="#000" stroke="#000" stroke-width="0.12">18</text>
<line x1="593.43" y1="244" x2="593.43" y2="250.5" stroke="#000" stroke-width="1.4"/>
<text x="593.23" y="262.8" font-size="9.8" text-anchor="middle" fill="#000" stroke="#000" stroke-width="0.12">24</text>
<line x1="609.92" y1="244" x2="609.92" y2="250.5" stroke="#000" stroke-width="1.4"/>
<text x="609.72" y="262.8" font-size="9.8" text-anchor="middle" fill="#000" stroke="#000" stroke-width="0.12">30</text>
<line x1="626.41" y1="244" x2="626.41" y2="250.5" stroke="#000" stroke-width="1.4"/>
<text x="626.21" y="262.8" font-size="9.8" text-anchor="middle" fill="#000" stroke="#000" stroke-width="0.12">36</text>
<line x1="642.9" y1="244" x2="642.9" y2="250.5" stroke="#000" stroke-width="1.4"/>
<text x="642.7" y="262.8" font-size="9.8" text-anchor="middle" fill="#000" stroke="#000" stroke-width="0.12">42</text>
<line x1="659.39" y1="244" x2="659.39" y2="250.5" stroke="#000" stroke-width="1.4"/>
<text x="659.19" y="262.8" font-size="9.8" text-anchor="middle" fill="#000" stroke="#000" stroke-width="0.12">48</text>
<line x1="675.88" y1="244" x2="675.88" y2="250.5" stroke="#000" stroke-width="1.4"/>
<text x="675.68" y="262.8" font-size="9.8" text-anchor="middle" fill="#000" stroke="#000" stroke-width="0.12">54</text>
<line x1="478" y1="230.8" x2="478" y2="235.6" stroke="#000" stroke-width="1.2"/>
<polygon points="474.8,234.2 481.2,234.2 478,239.6" fill="#000" stroke="#000" stroke-width="0.3" stroke-linejoin="miter"/>
<line x1="494.49" y1="230.8" x2="494.49" y2="235.6" stroke="#000" stroke-width="1.2"/>
<polygon points="491.29,234.2 497.69,234.2 494.49,239.6" fill="#000" stroke="#000" stroke-width="0.3" stroke-linejoin="miter"/>
<line x1="516.48" y1="247.65" x2="521.98" y2="240.35" stroke="#000" stroke-width="1.4"/>
<line x1="530.97" y1="247.65" x2="536.47" y2="240.35" stroke="#000" stroke-width="1.4"/>
<line x1="534.97" y1="247.65" x2="540.47" y2="240.35" stroke="#000" stroke-width="1.4"/>
<polyline points="478,266.3 478,269.5 494.49,269.5 494.49,266.3" fill="none" stroke="#000" stroke-width="1.5"/>
<polyline points="510.98,266.3 510.98,269.5 675.88,269.5 675.88,266.3" fill="none" stroke="#000" stroke-width="1.5"/>
<text x="486.3" y="284.4" font-size="9.8" text-anchor="middle" fill="#000" stroke="#000" stroke-width="0.12">Day</text>
<text x="587" y="284.4" font-size="9.8" text-anchor="middle" fill="#000" stroke="#000" stroke-width="0.12">Month</text>
<line x1="77" y1="456.4" x2="313" y2="456.4" stroke="#555" stroke-width="0.8" stroke-dasharray="1,1.1"/>
<polyline points="109.3,387.72 156.96,488.08 180.79,490.1 204.62,490.1 228.45,490.1 252.28,490.1 276.11,490.1 299.94,490.1" fill="none" stroke="#C8CFD5" stroke-width="0.8" stroke-linejoin="round"/>
<polyline points="109.3,391.7 156.96,485.38 180.79,490.1 204.62,490.1 228.45,490.1 252.28,409.22 276.11,490.1 299.94,490.1" fill="none" stroke="#C8CFD5" stroke-width="0.8" stroke-linejoin="round"/>
<polyline points="109.3,490.1 156.96,478.31 180.79,482.69 204.62,486.06 228.45,490.1 252.28,488.08 276.11,472.58 299.94,442.92" fill="none" stroke="#C8CFD5" stroke-width="0.8" stroke-linejoin="round"/>
<polyline points="109.3,490.1 156.96,488.75 180.79,478.64 204.62,482.69 228.45,490.1 252.28,490.1 276.11,490.1 299.94,490.1" fill="none" stroke="#C8CFD5" stroke-width="0.8" stroke-linejoin="round"/>
<polyline points="109.3,490.1 156.96,490.1 180.79,490.1 204.62,490.1 228.45,490.1 252.28,490.1 276.11,490.1 299.94,490.1" fill="none" stroke="#C8CFD5" stroke-width="0.8" stroke-linejoin="round"/>
<polygon points="109.3,384.97 112.05,387.72 109.3,390.47 106.55,387.72" fill="#C5CCD2"/>
<polygon points="156.96,485.33 159.71,488.08 156.96,490.83 154.21,488.08" fill="#C5CCD2"/>
<polygon points="180.79,487.35 183.54,490.1 180.79,492.85 178.04,490.1" fill="#C5CCD2"/>
<polygon points="204.62,487.35 207.37,490.1 204.62,492.85 201.87,490.1" fill="#C5CCD2"/>
<polygon points="228.45,487.35 231.2,490.1 228.45,492.85 225.7,490.1" fill="#C5CCD2"/>
<polygon points="252.28,487.35 255.03,490.1 252.28,492.85 249.53,490.1" fill="#C5CCD2"/>
<polygon points="276.11,487.35 278.86,490.1 276.11,492.85 273.36,490.1" fill="#C5CCD2"/>
<polygon points="299.94,487.35 302.69,490.1 299.94,492.85 297.19,490.1" fill="#C5CCD2"/>
<polygon points="109.3,389.06 111.83,393.46 106.77,393.46" fill="#C5CCD2"/>
<polygon points="156.96,482.74 159.49,487.14 154.43,487.14" fill="#C5CCD2"/>
<polygon points="180.79,487.46 183.32,491.86 178.26,491.86" fill="#C5CCD2"/>
<polygon points="204.62,487.46 207.15,491.86 202.09,491.86" fill="#C5CCD2"/>
<polygon points="228.45,487.46 230.98,491.86 225.92,491.86" fill="#C5CCD2"/>
<polygon points="252.28,406.58 254.81,410.98 249.75,410.98" fill="#C5CCD2"/>
<polygon points="276.11,487.46 278.64,491.86 273.58,491.86" fill="#C5CCD2"/>
<polygon points="299.94,487.46 302.47,491.86 297.41,491.86" fill="#C5CCD2"/>
<circle cx="109.3" cy="490.1" r="2.2" fill="#C5CCD2"/>
<circle cx="156.96" cy="478.31" r="2.2" fill="#C5CCD2"/>
<circle cx="180.79" cy="482.69" r="2.2" fill="#C5CCD2"/>
<circle cx="204.62" cy="486.06" r="2.2" fill="#C5CCD2"/>
<circle cx="228.45" cy="490.1" r="2.2" fill="#C5CCD2"/>
<circle cx="252.28" cy="488.08" r="2.2" fill="#C5CCD2"/>
<circle cx="276.11" cy="472.58" r="2.2" fill="#C5CCD2"/>
<circle cx="299.94" cy="442.92" r="2.2" fill="#C5CCD2"/>
<circle cx="109.3" cy="490.1" r="2.2" fill="#fff" stroke="#C5CCD2" stroke-width="0.8"/>
<circle cx="156.96" cy="488.75" r="2.2" fill="#fff" stroke="#C5CCD2" stroke-width="0.8"/>
<circle cx="180.79" cy="478.64" r="2.2" fill="#fff" stroke="#C5CCD2" stroke-width="0.8"/>
<circle cx="204.62" cy="482.69" r="2.2" fill="#fff" stroke="#C5CCD2" stroke-width="0.8"/>
<circle cx="228.45" cy="490.1" r="2.2" fill="#fff" stroke="#C5CCD2" stroke-width="0.8"/>
<circle cx="252.28" cy="490.1" r="2.2" fill="#fff" stroke="#C5CCD2" stroke-width="0.8"/>
<circle cx="276.11" cy="490.1" r="2.2" fill="#fff" stroke="#C5CCD2" stroke-width="0.8"/>
<circle cx="299.94" cy="490.1" r="2.2" fill="#fff" stroke="#C5CCD2" stroke-width="0.8"/>
<rect x="107.1" y="487.9" width="4.4" height="4.4" fill="#C5CCD2"/>
<rect x="154.76" y="487.9" width="4.4" height="4.4" fill="#C5CCD2"/>
<rect x="178.59" y="487.9" width="4.4" height="4.4" fill="#C5CCD2"/>
<rect x="202.42" y="487.9" width="4.4" height="4.4" fill="#C5CCD2"/>
<rect x="226.25" y="487.9" width="4.4" height="4.4" fill="#C5CCD2"/>
<rect x="250.08" y="487.9" width="4.4" height="4.4" fill="#C5CCD2"/>
<rect x="273.91" y="487.9" width="4.4" height="4.4" fill="#C5CCD2"/>
<rect x="297.74" y="487.9" width="4.4" height="4.4" fill="#C5CCD2"/>
<line x1="109.3" y1="401.2" x2="109.3" y2="490.1" stroke="#108E4E" stroke-width="1.5"/>
<line x1="106.3" y1="401.2" x2="112.3" y2="401.2" stroke="#108E4E" stroke-width="1.5"/>
<line x1="106.3" y1="490.1" x2="112.3" y2="490.1" stroke="#108E4E" stroke-width="1.5"/>
<line x1="156.96" y1="482.48" x2="156.96" y2="490.1" stroke="#108E4E" stroke-width="1.5"/>
<line x1="153.96" y1="482.48" x2="159.96" y2="482.48" stroke="#108E4E" stroke-width="1.5"/>
<line x1="153.96" y1="490.1" x2="159.96" y2="490.1" stroke="#108E4E" stroke-width="1.5"/>
<line x1="180.79" y1="479.99" x2="180.79" y2="490.1" stroke="#108E4E" stroke-width="1.5"/>
<line x1="177.79" y1="479.99" x2="183.79" y2="479.99" stroke="#108E4E" stroke-width="1.5"/>
<line x1="177.79" y1="490.1" x2="183.79" y2="490.1" stroke="#108E4E" stroke-width="1.5"/>
<line x1="204.62" y1="483.36" x2="204.62" y2="490.1" stroke="#108E4E" stroke-width="1.5"/>
<line x1="201.62" y1="483.36" x2="207.62" y2="483.36" stroke="#108E4E" stroke-width="1.5"/>
<line x1="201.62" y1="490.1" x2="207.62" y2="490.1" stroke="#108E4E" stroke-width="1.5"/>
<polyline points="109.3,457.41 156.96,486.33 180.79,486.73 204.62,487.4 228.45,490.1 252.28,490.1 276.11,490.1 299.94,490.1" fill="none" stroke="#108E4E" stroke-width="1.55" stroke-linejoin="round" stroke-dasharray="4.5,2.5"/>
<circle cx="109.3" cy="457.41" r="1.0" fill="#108E4E"/>
<circle cx="156.96" cy="486.33" r="1.0" fill="#108E4E"/>
<circle cx="180.79" cy="486.73" r="1.0" fill="#108E4E"/>
<circle cx="204.62" cy="487.4" r="1.0" fill="#108E4E"/>
<circle cx="228.45" cy="490.1" r="1.0" fill="#108E4E"/>
<circle cx="252.28" cy="490.1" r="1.0" fill="#108E4E"/>
<circle cx="276.11" cy="490.1" r="1.0" fill="#108E4E"/>
<circle cx="299.94" cy="490.1" r="1.0" fill="#108E4E"/>
<line x1="109.3" y1="452.02" x2="109.3" y2="490.1" stroke="#246A85" stroke-width="1.5"/>
<line x1="106.3" y1="452.02" x2="112.3" y2="452.02" stroke="#246A85" stroke-width="1.5"/>
<line x1="106.3" y1="490.1" x2="112.3" y2="490.1" stroke="#246A85" stroke-width="1.5"/>
<line x1="252.28" y1="470.28" x2="252.28" y2="490.1" stroke="#246A85" stroke-width="1.5"/>
<line x1="249.28" y1="470.28" x2="255.28" y2="470.28" stroke="#246A85" stroke-width="1.5"/>
<line x1="249.28" y1="490.1" x2="255.28" y2="490.1" stroke="#246A85" stroke-width="1.5"/>
<line x1="276.11" y1="486.6" x2="276.11" y2="490.1" stroke="#246A85" stroke-width="1.5"/>
<line x1="273.11" y1="486.6" x2="279.11" y2="486.6" stroke="#246A85" stroke-width="1.5"/>
<line x1="273.11" y1="490.1" x2="279.11" y2="490.1" stroke="#246A85" stroke-width="1.5"/>
<line x1="299.94" y1="477.29" x2="299.94" y2="490.1" stroke="#246A85" stroke-width="1.5"/>
<line x1="296.94" y1="477.29" x2="302.94" y2="477.29" stroke="#246A85" stroke-width="1.5"/>
<line x1="296.94" y1="490.1" x2="302.94" y2="490.1" stroke="#246A85" stroke-width="1.5"/>
<polyline points="109.3,475.1 133.13,490.1 156.96,488.89 180.79,489.09 204.62,489.43 228.45,490.1 252.28,484.1 276.11,488.42 299.94,486.33" fill="none" stroke="#246A85" stroke-width="1.55" stroke-linejoin="round"/>
<circle cx="109.3" cy="475.1" r="2.7" fill="#246A85"/>
<circle cx="133.13" cy="490.1" r="2.7" fill="#246A85"/>
<circle cx="156.96" cy="488.89" r="2.7" fill="#246A85"/>
<circle cx="180.79" cy="489.09" r="2.7" fill="#246A85"/>
<circle cx="204.62" cy="489.43" r="2.7" fill="#246A85"/>
<circle cx="228.45" cy="490.1" r="2.7" fill="#246A85"/>
<circle cx="252.28" cy="484.1" r="2.7" fill="#246A85"/>
<circle cx="276.11" cy="488.42" r="2.7" fill="#246A85"/>
<circle cx="299.94" cy="486.33" r="2.7" fill="#246A85"/>
<line x1="75.5" y1="354.55" x2="75.5" y2="490.85" stroke="#000" stroke-width="1.6"/>
<line x1="69" y1="490.1" x2="75.5" y2="490.1" stroke="#000" stroke-width="1.5"/>
<text x="63.4" y="494" font-size="9.8" text-anchor="end" fill="#000" stroke="#000" stroke-width="0.12">0</text>
<line x1="69" y1="473.25" x2="75.5" y2="473.25" stroke="#000" stroke-width="1.5"/>
<text x="63.4" y="477.15" font-size="9.8" text-anchor="end" fill="#000" stroke="#000" stroke-width="0.12">2500</text>
<line x1="69" y1="456.4" x2="75.5" y2="456.4" stroke="#000" stroke-width="1.5"/>
<text x="63.4" y="460.3" font-size="9.8" text-anchor="end" fill="#000" stroke="#000" stroke-width="0.12">5000</text>
<line x1="69" y1="439.55" x2="75.5" y2="439.55" stroke="#000" stroke-width="1.5"/>
<text x="63.4" y="443.45" font-size="9.8" text-anchor="end" fill="#000" stroke="#000" stroke-width="0.12">7500</text>
<line x1="69" y1="422.7" x2="75.5" y2="422.7" stroke="#000" stroke-width="1.5"/>
<text x="63.4" y="426.6" font-size="9.8" text-anchor="end" fill="#000" stroke="#000" stroke-width="0.12">10000</text>
<line x1="69" y1="405.85" x2="75.5" y2="405.85" stroke="#000" stroke-width="1.5"/>
<text x="63.4" y="409.75" font-size="9.8" text-anchor="end" fill="#000" stroke="#000" stroke-width="0.12">12500</text>
<line x1="69" y1="389" x2="75.5" y2="389" stroke="#000" stroke-width="1.5"/>
<text x="63.4" y="392.9" font-size="9.8" text-anchor="end" fill="#000" stroke="#000" stroke-width="0.12">15000</text>
<line x1="69" y1="372.15" x2="75.5" y2="372.15" stroke="#000" stroke-width="1.5"/>
<text x="63.4" y="376.05" font-size="9.8" text-anchor="end" fill="#000" stroke="#000" stroke-width="0.12">17500</text>
<line x1="69" y1="355.3" x2="75.5" y2="355.3" stroke="#000" stroke-width="1.5"/>
<text x="63.4" y="359.2" font-size="9.8" text-anchor="end" fill="#000" stroke="#000" stroke-width="0.12">20000</text>
<line x1="72.2" y1="481.68" x2="75.5" y2="481.68" stroke="#000" stroke-width="1.4"/>
<line x1="72.2" y1="464.83" x2="75.5" y2="464.83" stroke="#000" stroke-width="1.4"/>
<line x1="72.2" y1="447.98" x2="75.5" y2="447.98" stroke="#000" stroke-width="1.4"/>
<line x1="72.2" y1="431.12" x2="75.5" y2="431.12" stroke="#000" stroke-width="1.4"/>
<line x1="72.2" y1="414.28" x2="75.5" y2="414.28" stroke="#000" stroke-width="1.4"/>
<line x1="72.2" y1="397.43" x2="75.5" y2="397.43" stroke="#000" stroke-width="1.4"/>
<line x1="72.2" y1="380.58" x2="75.5" y2="380.58" stroke="#000" stroke-width="1.4"/>
<line x1="72.2" y1="363.73" x2="75.5" y2="363.73" stroke="#000" stroke-width="1.4"/>
<line x1="97.4" y1="515" x2="311.6" y2="515" stroke="#000" stroke-width="1.6"/>
<line x1="109.3" y1="515" x2="109.3" y2="521.2" stroke="#000" stroke-width="1.4"/>
<text x="107.1" y="535.2" font-size="9.8" text-anchor="middle" fill="#000" stroke="#000" stroke-width="0.12">-7</text>
<line x1="133.13" y1="515" x2="133.13" y2="521.2" stroke="#000" stroke-width="1.4"/>
<text x="131.93" y="535.2" font-size="9.8" text-anchor="middle" fill="#000" stroke="#000" stroke-width="0.12">0</text>
<line x1="156.96" y1="515" x2="156.96" y2="521.2" stroke="#000" stroke-width="1.4"/>
<text x="155.76" y="535.2" font-size="9.8" text-anchor="middle" fill="#000" stroke="#000" stroke-width="0.12">1</text>
<line x1="180.79" y1="515" x2="180.79" y2="521.2" stroke="#000" stroke-width="1.4"/>
<text x="179.59" y="535.2" font-size="9.8" text-anchor="middle" fill="#000" stroke="#000" stroke-width="0.12">3</text>
<line x1="204.62" y1="515" x2="204.62" y2="521.2" stroke="#000" stroke-width="1.4"/>
<text x="203.42" y="535.2" font-size="9.8" text-anchor="middle" fill="#000" stroke="#000" stroke-width="0.12">6</text>
<line x1="228.45" y1="515" x2="228.45" y2="521.2" stroke="#000" stroke-width="1.4"/>
<text x="227.25" y="535.2" font-size="9.8" text-anchor="middle" fill="#000" stroke="#000" stroke-width="0.12">12</text>
<line x1="252.28" y1="515" x2="252.28" y2="521.2" stroke="#000" stroke-width="1.4"/>
<text x="251.08" y="535.2" font-size="9.8" text-anchor="middle" fill="#000" stroke="#000" stroke-width="0.12">18</text>
<line x1="276.11" y1="515" x2="276.11" y2="521.2" stroke="#000" stroke-width="1.4"/>
<text x="274.91" y="535.2" font-size="9.8" text-anchor="middle" fill="#000" stroke="#000" stroke-width="0.12">30</text>
<line x1="299.94" y1="515" x2="299.94" y2="521.2" stroke="#000" stroke-width="1.4"/>
<text x="298.74" y="535.2" font-size="9.8" text-anchor="middle" fill="#000" stroke="#000" stroke-width="0.12">54</text>
<line x1="109.3" y1="503.7" x2="109.3" y2="507.2" stroke="#000" stroke-width="1.2"/>
<polygon points="106.1,505.8 112.5,505.8 109.3,511.2" fill="#000" stroke="#000" stroke-width="0.3" stroke-linejoin="miter"/>
<line x1="133.13" y1="503.7" x2="133.13" y2="507.2" stroke="#000" stroke-width="1.2"/>
<polygon points="129.93,505.8 136.33,505.8 133.13,511.2" fill="#000" stroke="#000" stroke-width="0.3" stroke-linejoin="miter"/>
<line x1="166.12" y1="518.65" x2="171.62" y2="511.35" stroke="#000" stroke-width="1.4"/>
<line x1="187.95" y1="518.65" x2="193.45" y2="511.35" stroke="#000" stroke-width="1.4"/>
<line x1="191.95" y1="518.65" x2="197.45" y2="511.35" stroke="#000" stroke-width="1.4"/>
<polyline points="109.3,540.6 109.3,544 133.13,544 133.13,540.6" fill="none" stroke="#000" stroke-width="1.5"/>
<polyline points="156.96,540.6 156.96,544 299.94,544 299.94,540.6" fill="none" stroke="#000" stroke-width="1.5"/>
<text x="121.3" y="558.6" font-size="9.8" text-anchor="middle" fill="#000" stroke="#000" stroke-width="0.12">Day</text>
<text x="227.5" y="558.6" font-size="9.8" text-anchor="middle" fill="#000" stroke="#000" stroke-width="0.12">Month</text>
<polyline points="494.49,381.36 510.98,381.36 527.47,381.36 543.96,381.36 560.45,381.36 576.94,489.6 593.43,381.36 609.92,489.6 626.41,489.6 642.9,489.6 659.39,489.6 675.88,489.6" fill="none" stroke="#C8CFD5" stroke-width="0.8" stroke-linejoin="round"/>
<polyline points="494.49,381.36 510.98,381.36 527.47,381.36 543.96,381.36 560.45,381.36 576.94,489.6 593.43,489.6 609.92,489.6 626.41,489.6 642.9,489.6 659.39,489.6 675.88,489.6" fill="none" stroke="#C8CFD5" stroke-width="0.8" stroke-linejoin="round"/>
<polyline points="494.49,489.6 510.98,489.6 527.47,489.6 543.96,381.36 560.45,489.6 576.94,489.6 593.43,489.6 609.92,489.6 626.41,489.6 642.9,489.6 659.39,489.6 675.88,489.6" fill="none" stroke="#C8CFD5" stroke-width="0.8" stroke-linejoin="round"/>
<polyline points="494.49,381.36 510.98,381.36 527.47,435.48 543.96,435.48 560.45,435.48 576.94,435.48 593.43,435.48 609.92,489.6 626.41,489.6 642.9,489.6 659.39,489.6 675.88,489.6" fill="none" stroke="#C8CFD5" stroke-width="0.8" stroke-linejoin="round"/>
<polyline points="494.49,381.36 510.98,381.36 527.47,408.42 543.96,462.54 560.45,462.54 576.94,489.6 593.43,489.6 609.92,489.6 626.41,489.6 642.9,489.6 659.39,489.6 675.88,489.6" fill="none" stroke="#C8CFD5" stroke-width="0.8" stroke-linejoin="round"/>
<polyline points="494.49,381.36 510.98,381.36 527.47,381.36 543.96,435.48 560.45,489.6 576.94,489.6 593.43,489.6 609.92,489.6 626.41,489.6 642.9,489.6 659.39,489.6 675.88,489.6" fill="none" stroke="#C8CFD5" stroke-width="0.8" stroke-linejoin="round"/>
<polyline points="494.49,381.36 510.98,381.36 527.47,435.48 543.96,489.6 560.45,489.6 576.94,489.6 593.43,489.6 609.92,489.6 626.41,489.6 642.9,489.6 659.39,489.6 675.88,489.6" fill="none" stroke="#C8CFD5" stroke-width="0.8" stroke-linejoin="round"/>
<polyline points="494.49,381.36 510.98,381.36 527.47,381.36 543.96,381.36 560.45,435.48 576.94,489.6 593.43,435.48 609.92,489.6 626.41,489.6 642.9,489.6 659.39,489.6 675.88,489.6" fill="none" stroke="#C8CFD5" stroke-width="0.8" stroke-linejoin="round"/>
<polyline points="494.49,381.36 510.98,381.36 527.47,381.36 543.96,381.36 560.45,489.6 576.94,489.6 593.43,489.6 609.92,489.6 626.41,489.6 642.9,489.6 659.39,489.6 675.88,489.6" fill="none" stroke="#C8CFD5" stroke-width="0.8" stroke-linejoin="round"/>
<circle cx="494.49" cy="381.36" r="2.2" fill="#fff" stroke="#C5CCD2" stroke-width="0.8"/>
<path d="M492.29,381.36 A2.2,2.2 0 0 1 496.69,381.36 Z" fill="#C5CCD2"/>
<circle cx="510.98" cy="381.36" r="2.2" fill="#fff" stroke="#C5CCD2" stroke-width="0.8"/>
<path d="M508.78,381.36 A2.2,2.2 0 0 1 513.18,381.36 Z" fill="#C5CCD2"/>
<circle cx="527.47" cy="381.36" r="2.2" fill="#fff" stroke="#C5CCD2" stroke-width="0.8"/>
<path d="M525.27,381.36 A2.2,2.2 0 0 1 529.67,381.36 Z" fill="#C5CCD2"/>
<circle cx="543.96" cy="381.36" r="2.2" fill="#fff" stroke="#C5CCD2" stroke-width="0.8"/>
<path d="M541.76,381.36 A2.2,2.2 0 0 1 546.16,381.36 Z" fill="#C5CCD2"/>
<circle cx="560.45" cy="381.36" r="2.2" fill="#fff" stroke="#C5CCD2" stroke-width="0.8"/>
<path d="M558.25,381.36 A2.2,2.2 0 0 1 562.65,381.36 Z" fill="#C5CCD2"/>
<circle cx="576.94" cy="489.6" r="2.2" fill="#fff" stroke="#C5CCD2" stroke-width="0.8"/>
<path d="M574.74,489.6 A2.2,2.2 0 0 1 579.14,489.6 Z" fill="#C5CCD2"/>
<circle cx="593.43" cy="381.36" r="2.2" fill="#fff" stroke="#C5CCD2" stroke-width="0.8"/>
<path d="M591.23,381.36 A2.2,2.2 0 0 1 595.63,381.36 Z" fill="#C5CCD2"/>
<circle cx="609.92" cy="489.6" r="2.2" fill="#fff" stroke="#C5CCD2" stroke-width="0.8"/>
<path d="M607.72,489.6 A2.2,2.2 0 0 1 612.12,489.6 Z" fill="#C5CCD2"/>
<circle cx="626.41" cy="489.6" r="2.2" fill="#fff" stroke="#C5CCD2" stroke-width="0.8"/>
<path d="M624.21,489.6 A2.2,2.2 0 0 1 628.61,489.6 Z" fill="#C5CCD2"/>
<circle cx="642.9" cy="489.6" r="2.2" fill="#fff" stroke="#C5CCD2" stroke-width="0.8"/>
<path d="M640.7,489.6 A2.2,2.2 0 0 1 645.1,489.6 Z" fill="#C5CCD2"/>
<circle cx="659.39" cy="489.6" r="2.2" fill="#fff" stroke="#C5CCD2" stroke-width="0.8"/>
<path d="M657.19,489.6 A2.2,2.2 0 0 1 661.59,489.6 Z" fill="#C5CCD2"/>
<circle cx="675.88" cy="489.6" r="2.2" fill="#fff" stroke="#C5CCD2" stroke-width="0.8"/>
<path d="M673.68,489.6 A2.2,2.2 0 0 1 678.08,489.6 Z" fill="#C5CCD2"/>
<rect x="492.29" y="379.16" width="4.4" height="4.4" fill="#fff" stroke="#C5CCD2" stroke-width="0.8"/>
<rect x="508.78" y="379.16" width="4.4" height="4.4" fill="#fff" stroke="#C5CCD2" stroke-width="0.8"/>
<rect x="525.27" y="379.16" width="4.4" height="4.4" fill="#fff" stroke="#C5CCD2" stroke-width="0.8"/>
<rect x="541.76" y="379.16" width="4.4" height="4.4" fill="#fff" stroke="#C5CCD2" stroke-width="0.8"/>
<rect x="558.25" y="379.16" width="4.4" height="4.4" fill="#fff" stroke="#C5CCD2" stroke-width="0.8"/>
<rect x="574.74" y="487.4" width="4.4" height="4.4" fill="#fff" stroke="#C5CCD2" stroke-width="0.8"/>
<rect x="591.23" y="487.4" width="4.4" height="4.4" fill="#fff" stroke="#C5CCD2" stroke-width="0.8"/>
<rect x="607.72" y="487.4" width="4.4" height="4.4" fill="#fff" stroke="#C5CCD2" stroke-width="0.8"/>
<rect x="624.21" y="487.4" width="4.4" height="4.4" fill="#fff" stroke="#C5CCD2" stroke-width="0.8"/>
<rect x="640.7" y="487.4" width="4.4" height="4.4" fill="#fff" stroke="#C5CCD2" stroke-width="0.8"/>
<rect x="657.19" y="487.4" width="4.4" height="4.4" fill="#fff" stroke="#C5CCD2" stroke-width="0.8"/>
<rect x="673.68" y="487.4" width="4.4" height="4.4" fill="#fff" stroke="#C5CCD2" stroke-width="0.8"/>
<rect x="492.29" y="487.4" width="4.4" height="4.4" fill="#C5CCD2"/>
<rect x="508.78" y="487.4" width="4.4" height="4.4" fill="#C5CCD2"/>
<rect x="525.27" y="487.4" width="4.4" height="4.4" fill="#C5CCD2"/>
<rect x="541.76" y="379.16" width="4.4" height="4.4" fill="#C5CCD2"/>
<rect x="558.25" y="487.4" width="4.4" height="4.4" fill="#C5CCD2"/>
<rect x="574.74" y="487.4" width="4.4" height="4.4" fill="#C5CCD2"/>
<rect x="591.23" y="487.4" width="4.4" height="4.4" fill="#C5CCD2"/>
<rect x="607.72" y="487.4" width="4.4" height="4.4" fill="#C5CCD2"/>
<rect x="624.21" y="487.4" width="4.4" height="4.4" fill="#C5CCD2"/>
<rect x="640.7" y="487.4" width="4.4" height="4.4" fill="#C5CCD2"/>
<rect x="657.19" y="487.4" width="4.4" height="4.4" fill="#C5CCD2"/>
<rect x="673.68" y="487.4" width="4.4" height="4.4" fill="#C5CCD2"/>
<polygon points="494.49,378.72 497.02,383.12 491.96,383.12" fill="#fff" stroke="#C5CCD2" stroke-width="0.8"/>
<polygon points="510.98,378.72 513.51,383.12 508.45,383.12" fill="#fff" stroke="#C5CCD2" stroke-width="0.8"/>
<polygon points="527.47,432.84 530,437.24 524.94,437.24" fill="#fff" stroke="#C5CCD2" stroke-width="0.8"/>
<polygon points="543.96,432.84 546.49,437.24 541.43,437.24" fill="#fff" stroke="#C5CCD2" stroke-width="0.8"/>
<polygon points="560.45,432.84 562.98,437.24 557.92,437.24" fill="#fff" stroke="#C5CCD2" stroke-width="0.8"/>
<polygon points="576.94,432.84 579.47,437.24 574.41,437.24" fill="#fff" stroke="#C5CCD2" stroke-width="0.8"/>
<polygon points="593.43,432.84 595.96,437.24 590.9,437.24" fill="#fff" stroke="#C5CCD2" stroke-width="0.8"/>
<polygon points="609.92,486.96 612.45,491.36 607.39,491.36" fill="#fff" stroke="#C5CCD2" stroke-width="0.8"/>
<polygon points="626.41,486.96 628.94,491.36 623.88,491.36" fill="#fff" stroke="#C5CCD2" stroke-width="0.8"/>
<polygon points="642.9,486.96 645.43,491.36 640.37,491.36" fill="#fff" stroke="#C5CCD2" stroke-width="0.8"/>
<polygon points="659.39,486.96 661.92,491.36 656.86,491.36" fill="#fff" stroke="#C5CCD2" stroke-width="0.8"/>
<polygon points="675.88,486.96 678.41,491.36 673.35,491.36" fill="#fff" stroke="#C5CCD2" stroke-width="0.8"/>
<polygon points="494.49,378.72 497.02,383.12 491.96,383.12" fill="#C5CCD2"/>
<polygon points="510.98,378.72 513.51,383.12 508.45,383.12" fill="#C5CCD2"/>
<polygon points="527.47,405.78 530,410.18 524.94,410.18" fill="#C5CCD2"/>
<polygon points="543.96,459.9 546.49,464.3 541.43,464.3" fill="#C5CCD2"/>
<polygon points="560.45,459.9 562.98,464.3 557.92,464.3" fill="#C5CCD2"/>
<polygon points="576.94,486.96 579.47,491.36 574.41,491.36" fill="#C5CCD2"/>
<polygon points="593.43,486.96 595.96,491.36 590.9,491.36" fill="#C5CCD2"/>
<polygon points="609.92,486.96 612.45,491.36 607.39,491.36" fill="#C5CCD2"/>
<polygon points="626.41,486.96 628.94,491.36 623.88,491.36" fill="#C5CCD2"/>
<polygon points="642.9,486.96 645.43,491.36 640.37,491.36" fill="#C5CCD2"/>
<polygon points="659.39,486.96 661.92,491.36 656.86,491.36" fill="#C5CCD2"/>
<polygon points="675.88,486.96 678.41,491.36 673.35,491.36" fill="#C5CCD2"/>
<polygon points="494.49,378.61 497.24,381.36 494.49,384.11 491.74,381.36" fill="#fff" stroke="#C5CCD2" stroke-width="0.8"/>
<polygon points="510.98,378.61 513.73,381.36 510.98,384.11 508.23,381.36" fill="#fff" stroke="#C5CCD2" stroke-width="0.8"/>
<polygon points="527.47,378.61 530.22,381.36 527.47,384.11 524.72,381.36" fill="#fff" stroke="#C5CCD2" stroke-width="0.8"/>
<polygon points="543.96,432.73 546.71,435.48 543.96,438.23 541.21,435.48" fill="#fff" stroke="#C5CCD2" stroke-width="0.8"/>
<polygon points="560.45,486.85 563.2,489.6 560.45,492.35 557.7,489.6" fill="#fff" stroke="#C5CCD2" stroke-width="0.8"/>
<polygon points="576.94,486.85 579.69,489.6 576.94,492.35 574.19,489.6" fill="#fff" stroke="#C5CCD2" stroke-width="0.8"/>
<polygon points="593.43,486.85 596.18,489.6 593.43,492.35 590.68,489.6" fill="#fff" stroke="#C5CCD2" stroke-width="0.8"/>
<polygon points="609.92,486.85 612.67,489.6 609.92,492.35 607.17,489.6" fill="#fff" stroke="#C5CCD2" stroke-width="0.8"/>
<polygon points="626.41,486.85 629.16,489.6 626.41,492.35 623.66,489.6" fill="#fff" stroke="#C5CCD2" stroke-width="0.8"/>
<polygon points="642.9,486.85 645.65,489.6 642.9,492.35 640.15,489.6" fill="#fff" stroke="#C5CCD2" stroke-width="0.8"/>
<polygon points="659.39,486.85 662.14,489.6 659.39,492.35 656.64,489.6" fill="#fff" stroke="#C5CCD2" stroke-width="0.8"/>
<polygon points="675.88,486.85 678.63,489.6 675.88,492.35 673.13,489.6" fill="#fff" stroke="#C5CCD2" stroke-width="0.8"/>
<circle cx="494.49" cy="381.36" r="2.2" fill="#C5CCD2"/>
<circle cx="510.98" cy="381.36" r="2.2" fill="#C5CCD2"/>
<circle cx="527.47" cy="435.48" r="2.2" fill="#C5CCD2"/>
<circle cx="543.96" cy="489.6" r="2.2" fill="#C5CCD2"/>
<circle cx="560.45" cy="489.6" r="2.2" fill="#C5CCD2"/>
<circle cx="576.94" cy="489.6" r="2.2" fill="#C5CCD2"/>
<circle cx="593.43" cy="489.6" r="2.2" fill="#C5CCD2"/>
<circle cx="609.92" cy="489.6" r="2.2" fill="#C5CCD2"/>
<circle cx="626.41" cy="489.6" r="2.2" fill="#C5CCD2"/>
<circle cx="642.9" cy="489.6" r="2.2" fill="#C5CCD2"/>
<circle cx="659.39" cy="489.6" r="2.2" fill="#C5CCD2"/>
<circle cx="675.88" cy="489.6" r="2.2" fill="#C5CCD2"/>
<rect x="492.29" y="379.16" width="4.4" height="4.4" fill="#fff" stroke="#C5CCD2" stroke-width="0.8"/>
<rect x="492.29" y="379.16" width="4.4" height="2.2" fill="#C5CCD2"/>
<rect x="508.78" y="379.16" width="4.4" height="4.4" fill="#fff" stroke="#C5CCD2" stroke-width="0.8"/>
<rect x="508.78" y="379.16" width="4.4" height="2.2" fill="#C5CCD2"/>
<rect x="525.27" y="379.16" width="4.4" height="4.4" fill="#fff" stroke="#C5CCD2" stroke-width="0.8"/>
<rect x="525.27" y="379.16" width="4.4" height="2.2" fill="#C5CCD2"/>
<rect x="541.76" y="379.16" width="4.4" height="4.4" fill="#fff" stroke="#C5CCD2" stroke-width="0.8"/>
<rect x="541.76" y="379.16" width="4.4" height="2.2" fill="#C5CCD2"/>
<rect x="558.25" y="433.28" width="4.4" height="4.4" fill="#fff" stroke="#C5CCD2" stroke-width="0.8"/>
<rect x="558.25" y="433.28" width="4.4" height="2.2" fill="#C5CCD2"/>
<rect x="574.74" y="487.4" width="4.4" height="4.4" fill="#fff" stroke="#C5CCD2" stroke-width="0.8"/>
<rect x="574.74" y="487.4" width="4.4" height="2.2" fill="#C5CCD2"/>
<rect x="591.23" y="433.28" width="4.4" height="4.4" fill="#fff" stroke="#C5CCD2" stroke-width="0.8"/>
<rect x="591.23" y="433.28" width="4.4" height="2.2" fill="#C5CCD2"/>
<rect x="607.72" y="487.4" width="4.4" height="4.4" fill="#fff" stroke="#C5CCD2" stroke-width="0.8"/>
<rect x="607.72" y="487.4" width="4.4" height="2.2" fill="#C5CCD2"/>
<rect x="624.21" y="487.4" width="4.4" height="4.4" fill="#fff" stroke="#C5CCD2" stroke-width="0.8"/>
<rect x="624.21" y="487.4" width="4.4" height="2.2" fill="#C5CCD2"/>
<rect x="640.7" y="487.4" width="4.4" height="4.4" fill="#fff" stroke="#C5CCD2" stroke-width="0.8"/>
<rect x="640.7" y="487.4" width="4.4" height="2.2" fill="#C5CCD2"/>
<rect x="657.19" y="487.4" width="4.4" height="4.4" fill="#fff" stroke="#C5CCD2" stroke-width="0.8"/>
<rect x="657.19" y="487.4" width="4.4" height="2.2" fill="#C5CCD2"/>
<rect x="673.68" y="487.4" width="4.4" height="4.4" fill="#fff" stroke="#C5CCD2" stroke-width="0.8"/>
<rect x="673.68" y="487.4" width="4.4" height="2.2" fill="#C5CCD2"/>
<circle cx="494.49" cy="381.36" r="1.87" fill="#C5CCD2"/>
<circle cx="510.98" cy="381.36" r="1.87" fill="#C5CCD2"/>
<circle cx="527.47" cy="381.36" r="1.87" fill="#C5CCD2"/>
<circle cx="543.96" cy="381.36" r="1.87" fill="#C5CCD2"/>
<circle cx="560.45" cy="489.6" r="1.87" fill="#C5CCD2"/>
<circle cx="576.94" cy="489.6" r="1.87" fill="#C5CCD2"/>
<circle cx="593.43" cy="489.6" r="1.87" fill="#C5CCD2"/>
<circle cx="609.92" cy="489.6" r="1.87" fill="#C5CCD2"/>
<circle cx="626.41" cy="489.6" r="1.87" fill="#C5CCD2"/>
<circle cx="642.9" cy="489.6" r="1.87" fill="#C5CCD2"/>
<circle cx="659.39" cy="489.6" r="1.87" fill="#C5CCD2"/>
<circle cx="675.88" cy="489.6" r="1.87" fill="#C5CCD2"/>
<line x1="527.47" y1="371.51" x2="527.47" y2="447.33" stroke="#108E4E" stroke-width="1.5"/>
<line x1="524.47" y1="371.51" x2="530.47" y2="371.51" stroke="#108E4E" stroke-width="1.5"/>
<line x1="524.47" y1="447.33" x2="530.47" y2="447.33" stroke="#108E4E" stroke-width="1.5"/>
<line x1="543.96" y1="435.48" x2="543.96" y2="489.6" stroke="#108E4E" stroke-width="1.5"/>
<line x1="540.96" y1="435.48" x2="546.96" y2="435.48" stroke="#108E4E" stroke-width="1.5"/>
<line x1="540.96" y1="489.6" x2="546.96" y2="489.6" stroke="#108E4E" stroke-width="1.5"/>
<line x1="560.45" y1="425.74" x2="560.45" y2="489.6" stroke="#108E4E" stroke-width="1.5"/>
<line x1="557.45" y1="425.74" x2="563.45" y2="425.74" stroke="#108E4E" stroke-width="1.5"/>
<line x1="557.45" y1="489.6" x2="563.45" y2="489.6" stroke="#108E4E" stroke-width="1.5"/>
<polyline points="494.49,417.57 510.98,417.57 527.47,435.75 543.96,471.79 560.45,471.79 576.94,489.6 593.43,489.6 609.92,489.6 626.41,489.6 642.9,489.6 659.39,489.6 675.88,489.6" fill="none" stroke="#108E4E" stroke-width="1.55" stroke-linejoin="round" stroke-dasharray="4.5,2.5"/>
<circle cx="494.49" cy="417.57" r="1.0" fill="#108E4E"/>
<circle cx="510.98" cy="417.57" r="1.0" fill="#108E4E"/>
<circle cx="527.47" cy="435.75" r="1.0" fill="#108E4E"/>
<circle cx="543.96" cy="471.79" r="1.0" fill="#108E4E"/>
<circle cx="560.45" cy="471.79" r="1.0" fill="#108E4E"/>
<circle cx="576.94" cy="489.6" r="1.0" fill="#108E4E"/>
<circle cx="593.43" cy="489.6" r="1.0" fill="#108E4E"/>
<circle cx="609.92" cy="489.6" r="1.0" fill="#108E4E"/>
<circle cx="626.41" cy="489.6" r="1.0" fill="#108E4E"/>
<circle cx="642.9" cy="489.6" r="1.0" fill="#108E4E"/>
<circle cx="659.39" cy="489.6" r="1.0" fill="#108E4E"/>
<circle cx="675.88" cy="489.6" r="1.0" fill="#108E4E"/>
<line x1="494.49" y1="377.79" x2="494.49" y2="435.16" stroke="#246A85" stroke-width="1.5"/>
<line x1="491.49" y1="377.79" x2="497.49" y2="377.79" stroke="#246A85" stroke-width="1.5"/>
<line x1="491.49" y1="435.16" x2="497.49" y2="435.16" stroke="#246A85" stroke-width="1.5"/>
<line x1="510.98" y1="377.79" x2="510.98" y2="435.16" stroke="#246A85" stroke-width="1.5"/>
<line x1="507.98" y1="377.79" x2="513.98" y2="377.79" stroke="#246A85" stroke-width="1.5"/>
<line x1="507.98" y1="435.16" x2="513.98" y2="435.16" stroke="#246A85" stroke-width="1.5"/>
<line x1="527.47" y1="391.26" x2="527.47" y2="447.33" stroke="#246A85" stroke-width="1.5"/>
<line x1="524.47" y1="391.26" x2="530.47" y2="391.26" stroke="#246A85" stroke-width="1.5"/>
<line x1="524.47" y1="447.33" x2="530.47" y2="447.33" stroke="#246A85" stroke-width="1.5"/>
<line x1="543.96" y1="398.79" x2="543.96" y2="456.1" stroke="#246A85" stroke-width="1.5"/>
<line x1="540.96" y1="398.79" x2="546.96" y2="398.79" stroke="#246A85" stroke-width="1.5"/>
<line x1="540.96" y1="456.1" x2="546.96" y2="456.1" stroke="#246A85" stroke-width="1.5"/>
<line x1="560.45" y1="416.92" x2="560.45" y2="475.91" stroke="#246A85" stroke-width="1.5"/>
<line x1="557.45" y1="416.92" x2="563.45" y2="416.92" stroke="#246A85" stroke-width="1.5"/>
<line x1="557.45" y1="475.91" x2="563.45" y2="475.91" stroke="#246A85" stroke-width="1.5"/>
<line x1="576.94" y1="469.63" x2="576.94" y2="489.6" stroke="#246A85" stroke-width="1.5"/>
<line x1="573.94" y1="469.63" x2="579.94" y2="469.63" stroke="#246A85" stroke-width="1.5"/>
<line x1="573.94" y1="489.6" x2="579.94" y2="489.6" stroke="#246A85" stroke-width="1.5"/>
<line x1="593.43" y1="442.62" x2="593.43" y2="489.6" stroke="#246A85" stroke-width="1.5"/>
<line x1="590.43" y1="442.62" x2="596.43" y2="442.62" stroke="#246A85" stroke-width="1.5"/>
<line x1="590.43" y1="489.6" x2="596.43" y2="489.6" stroke="#246A85" stroke-width="1.5"/>
<polyline points="494.49,406.58 510.98,406.58 527.47,418.87 543.96,426.93 560.45,446.14 576.94,481.21 593.43,466.49 609.92,489.6 626.41,489.6 642.9,489.6 659.39,489.6 675.88,489.6" fill="none" stroke="#246A85" stroke-width="1.55" stroke-linejoin="round"/>
<circle cx="494.49" cy="406.58" r="2.7" fill="#246A85"/>
<circle cx="510.98" cy="406.58" r="2.7" fill="#246A85"/>
<circle cx="527.47" cy="418.87" r="2.7" fill="#246A85"/>
<circle cx="543.96" cy="426.93" r="2.7" fill="#246A85"/>
<circle cx="560.45" cy="446.14" r="2.7" fill="#246A85"/>
<circle cx="576.94" cy="481.21" r="2.7" fill="#246A85"/>
<circle cx="593.43" cy="466.49" r="2.7" fill="#246A85"/>
<circle cx="609.92" cy="489.6" r="2.7" fill="#246A85"/>
<circle cx="626.41" cy="489.6" r="2.7" fill="#246A85"/>
<circle cx="642.9" cy="489.6" r="2.7" fill="#246A85"/>
<circle cx="659.39" cy="489.6" r="2.7" fill="#246A85"/>
<circle cx="675.88" cy="489.6" r="2.7" fill="#246A85"/>
<line x1="448" y1="353.55" x2="448" y2="490.35" stroke="#000" stroke-width="1.6"/>
<line x1="441.5" y1="489.6" x2="448" y2="489.6" stroke="#000" stroke-width="1.5"/>
<text x="436.8" y="493.5" font-size="9.8" text-anchor="end" fill="#000" stroke="#000" stroke-width="0.12">0</text>
<line x1="441.5" y1="462.54" x2="448" y2="462.54" stroke="#000" stroke-width="1.5"/>
<text x="436.8" y="466.44" font-size="9.8" text-anchor="end" fill="#000" stroke="#000" stroke-width="0.12">500</text>
<line x1="441.5" y1="435.48" x2="448" y2="435.48" stroke="#000" stroke-width="1.5"/>
<text x="436.8" y="439.38" font-size="9.8" text-anchor="end" fill="#000" stroke="#000" stroke-width="0.12">1000</text>
<line x1="441.5" y1="408.42" x2="448" y2="408.42" stroke="#000" stroke-width="1.5"/>
<text x="436.8" y="412.32" font-size="9.8" text-anchor="end" fill="#000" stroke="#000" stroke-width="0.12">1500</text>
<line x1="441.5" y1="381.36" x2="448" y2="381.36" stroke="#000" stroke-width="1.5"/>
<text x="436.8" y="385.26" font-size="9.8" text-anchor="end" fill="#000" stroke="#000" stroke-width="0.12">2000</text>
<line x1="441.5" y1="354.3" x2="448" y2="354.3" stroke="#000" stroke-width="1.5"/>
<text x="436.8" y="358.2" font-size="9.8" text-anchor="end" fill="#000" stroke="#000" stroke-width="0.12">2500</text>
<line x1="444.7" y1="476.07" x2="448" y2="476.07" stroke="#000" stroke-width="1.4"/>
<line x1="444.7" y1="449.01" x2="448" y2="449.01" stroke="#000" stroke-width="1.4"/>
<line x1="444.7" y1="421.95" x2="448" y2="421.95" stroke="#000" stroke-width="1.4"/>
<line x1="444.7" y1="394.89" x2="448" y2="394.89" stroke="#000" stroke-width="1.4"/>
<line x1="444.7" y1="367.83" x2="448" y2="367.83" stroke="#000" stroke-width="1.4"/>
<line x1="469.9" y1="514.7" x2="685" y2="514.7" stroke="#000" stroke-width="1.6"/>
<line x1="478" y1="514.7" x2="478" y2="521.3" stroke="#000" stroke-width="1.4"/>
<text x="476.3" y="534.8" font-size="9.8" text-anchor="middle" fill="#000" stroke="#000" stroke-width="0.12">-7</text>
<line x1="494.49" y1="514.7" x2="494.49" y2="521.3" stroke="#000" stroke-width="1.4"/>
<text x="494.29" y="534.8" font-size="9.8" text-anchor="middle" fill="#000" stroke="#000" stroke-width="0.12">0</text>
<line x1="510.98" y1="514.7" x2="510.98" y2="521.3" stroke="#000" stroke-width="1.4"/>
<text x="510.78" y="534.8" font-size="9.8" text-anchor="middle" fill="#000" stroke="#000" stroke-width="0.12">1</text>
<line x1="527.47" y1="514.7" x2="527.47" y2="521.3" stroke="#000" stroke-width="1.4"/>
<text x="527.27" y="534.8" font-size="9.8" text-anchor="middle" fill="#000" stroke="#000" stroke-width="0.12">3</text>
<line x1="543.96" y1="514.7" x2="543.96" y2="521.3" stroke="#000" stroke-width="1.4"/>
<text x="543.76" y="534.8" font-size="9.8" text-anchor="middle" fill="#000" stroke="#000" stroke-width="0.12">6</text>
<line x1="560.45" y1="514.7" x2="560.45" y2="521.3" stroke="#000" stroke-width="1.4"/>
<text x="560.25" y="534.8" font-size="9.8" text-anchor="middle" fill="#000" stroke="#000" stroke-width="0.12">12</text>
<line x1="576.94" y1="514.7" x2="576.94" y2="521.3" stroke="#000" stroke-width="1.4"/>
<text x="576.74" y="534.8" font-size="9.8" text-anchor="middle" fill="#000" stroke="#000" stroke-width="0.12">18</text>
<line x1="593.43" y1="514.7" x2="593.43" y2="521.3" stroke="#000" stroke-width="1.4"/>
<text x="593.23" y="534.8" font-size="9.8" text-anchor="middle" fill="#000" stroke="#000" stroke-width="0.12">24</text>
<line x1="609.92" y1="514.7" x2="609.92" y2="521.3" stroke="#000" stroke-width="1.4"/>
<text x="609.72" y="534.8" font-size="9.8" text-anchor="middle" fill="#000" stroke="#000" stroke-width="0.12">30</text>
<line x1="626.41" y1="514.7" x2="626.41" y2="521.3" stroke="#000" stroke-width="1.4"/>
<text x="626.21" y="534.8" font-size="9.8" text-anchor="middle" fill="#000" stroke="#000" stroke-width="0.12">36</text>
<line x1="642.9" y1="514.7" x2="642.9" y2="521.3" stroke="#000" stroke-width="1.4"/>
<text x="642.7" y="534.8" font-size="9.8" text-anchor="middle" fill="#000" stroke="#000" stroke-width="0.12">42</text>
<line x1="659.39" y1="514.7" x2="659.39" y2="521.3" stroke="#000" stroke-width="1.4"/>
<text x="659.19" y="534.8" font-size="9.8" text-anchor="middle" fill="#000" stroke="#000" stroke-width="0.12">48</text>
<line x1="675.88" y1="514.7" x2="675.88" y2="521.3" stroke="#000" stroke-width="1.4"/>
<text x="675.68" y="534.8" font-size="9.8" text-anchor="middle" fill="#000" stroke="#000" stroke-width="0.12">54</text>
<line x1="478" y1="502.3" x2="478" y2="507.1" stroke="#000" stroke-width="1.2"/>
<polygon points="474.8,505.7 481.2,505.7 478,511.1" fill="#000" stroke="#000" stroke-width="0.3" stroke-linejoin="miter"/>
<line x1="494.49" y1="502.3" x2="494.49" y2="507.1" stroke="#000" stroke-width="1.2"/>
<polygon points="491.29,505.7 497.69,505.7 494.49,511.1" fill="#000" stroke="#000" stroke-width="0.3" stroke-linejoin="miter"/>
<line x1="516.48" y1="518.35" x2="521.98" y2="511.05" stroke="#000" stroke-width="1.4"/>
<line x1="530.97" y1="518.35" x2="536.47" y2="511.05" stroke="#000" stroke-width="1.4"/>
<line x1="534.97" y1="518.35" x2="540.47" y2="511.05" stroke="#000" stroke-width="1.4"/>
<polyline points="478,541 478,544.3 494.49,544.3 494.49,541" fill="none" stroke="#000" stroke-width="1.5"/>
<polyline points="510.98,541 510.98,544.3 675.88,544.3 675.88,541" fill="none" stroke="#000" stroke-width="1.5"/>
<text x="486.3" y="559" font-size="9.8" text-anchor="middle" fill="#000" stroke="#000" stroke-width="0.12">Day</text>
<text x="594" y="559" font-size="9.8" text-anchor="middle" fill="#000" stroke="#000" stroke-width="0.12">Month</text>
<line x1="77" y1="731.84" x2="313" y2="731.84" stroke="#555" stroke-width="0.8" stroke-dasharray="1,1.1"/>
<polyline points="109.4,759 157.1,759 180.95,759 204.8,759 228.65,759 252.5,640.04 276.35,636.78 300.2,671.22" fill="none" stroke="#C8CFD5" stroke-width="0.8" stroke-linejoin="round"/>
<polyline points="109.4,759 157.1,759 180.95,759 204.8,759 228.65,759 252.5,715.54 276.35,647.81 300.2,745.42" fill="none" stroke="#C8CFD5" stroke-width="0.8" stroke-linejoin="round"/>
<polyline points="109.4,759 157.1,759 180.95,759 204.8,759 228.65,759 252.5,680.24 276.35,692.02 300.2,731.84" fill="none" stroke="#C8CFD5" stroke-width="0.8" stroke-linejoin="round"/>
<polyline points="109.4,759 157.1,752.48 180.95,759 204.8,750.53 228.65,759 252.5,759 276.35,759 300.2,759" fill="none" stroke="#C8CFD5" stroke-width="0.8" stroke-linejoin="round"/>
<polyline points="109.4,759 157.1,759 180.95,759 204.8,759 228.65,759 252.5,731.84 276.35,750.85 300.2,750.85" fill="none" stroke="#C8CFD5" stroke-width="0.8" stroke-linejoin="round"/>
<polyline points="109.4,759 157.1,759 180.95,759 204.8,759 228.65,759 252.5,704.68 276.35,710.11 300.2,742.7" fill="none" stroke="#C8CFD5" stroke-width="0.8" stroke-linejoin="round"/>
<polygon points="109.4,761.64 111.93,757.24 106.87,757.24" fill="#C5CCD2"/>
<polygon points="157.1,761.64 159.63,757.24 154.57,757.24" fill="#C5CCD2"/>
<polygon points="180.95,761.64 183.48,757.24 178.42,757.24" fill="#C5CCD2"/>
<polygon points="204.8,761.64 207.33,757.24 202.27,757.24" fill="#C5CCD2"/>
<polygon points="228.65,761.64 231.18,757.24 226.12,757.24" fill="#C5CCD2"/>
<polygon points="252.5,642.68 255.03,638.28 249.97,638.28" fill="#C5CCD2"/>
<polygon points="276.35,639.42 278.88,635.02 273.82,635.02" fill="#C5CCD2"/>
<polygon points="300.2,673.86 302.73,669.46 297.67,669.46" fill="#C5CCD2"/>
<polygon points="109.4,756.36 111.93,760.76 106.87,760.76" fill="#C5CCD2"/>
<polygon points="157.1,756.36 159.63,760.76 154.57,760.76" fill="#C5CCD2"/>
<polygon points="180.95,756.36 183.48,760.76 178.42,760.76" fill="#C5CCD2"/>
<polygon points="204.8,756.36 207.33,760.76 202.27,760.76" fill="#C5CCD2"/>
<polygon points="228.65,756.36 231.18,760.76 226.12,760.76" fill="#C5CCD2"/>
<polygon points="252.5,712.9 255.03,717.3 249.97,717.3" fill="#C5CCD2"/>
<polygon points="276.35,645.17 278.88,649.57 273.82,649.57" fill="#C5CCD2"/>
<polygon points="300.2,742.78 302.73,747.18 297.67,747.18" fill="#C5CCD2"/>
<circle cx="109.4" cy="759" r="2.2" fill="#C5CCD2"/>
<circle cx="157.1" cy="759" r="2.2" fill="#C5CCD2"/>
<circle cx="180.95" cy="759" r="2.2" fill="#C5CCD2"/>
<circle cx="204.8" cy="759" r="2.2" fill="#C5CCD2"/>
<circle cx="228.65" cy="759" r="2.2" fill="#C5CCD2"/>
<circle cx="252.5" cy="680.24" r="2.2" fill="#C5CCD2"/>
<circle cx="276.35" cy="692.02" r="2.2" fill="#C5CCD2"/>
<circle cx="300.2" cy="731.84" r="2.2" fill="#C5CCD2"/>
<rect x="107.2" y="756.8" width="4.4" height="4.4" fill="#C5CCD2"/>
<rect x="154.9" y="750.28" width="4.4" height="4.4" fill="#C5CCD2"/>
<rect x="178.75" y="756.8" width="4.4" height="4.4" fill="#C5CCD2"/>
<rect x="202.6" y="748.33" width="4.4" height="4.4" fill="#C5CCD2"/>
<rect x="226.45" y="756.8" width="4.4" height="4.4" fill="#C5CCD2"/>
<rect x="250.3" y="756.8" width="4.4" height="4.4" fill="#C5CCD2"/>
<rect x="274.15" y="756.8" width="4.4" height="4.4" fill="#C5CCD2"/>
<rect x="298" y="756.8" width="4.4" height="4.4" fill="#C5CCD2"/>
<circle cx="109.4" cy="759" r="1.87" fill="#C5CCD2"/>
<circle cx="157.1" cy="759" r="1.87" fill="#C5CCD2"/>
<circle cx="180.95" cy="759" r="1.87" fill="#C5CCD2"/>
<circle cx="204.8" cy="759" r="1.87" fill="#C5CCD2"/>
<circle cx="228.65" cy="759" r="1.87" fill="#C5CCD2"/>
<circle cx="252.5" cy="731.84" r="1.87" fill="#C5CCD2"/>
<circle cx="276.35" cy="750.85" r="1.87" fill="#C5CCD2"/>
<circle cx="300.2" cy="750.85" r="1.87" fill="#C5CCD2"/>
<polygon points="109.4,756.25 112.15,759 109.4,761.75 106.65,759" fill="#fff" stroke="#C5CCD2" stroke-width="0.8"/>
<polygon points="157.1,756.25 159.85,759 157.1,761.75 154.35,759" fill="#fff" stroke="#C5CCD2" stroke-width="0.8"/>
<polygon points="180.95,756.25 183.7,759 180.95,761.75 178.2,759" fill="#fff" stroke="#C5CCD2" stroke-width="0.8"/>
<polygon points="204.8,756.25 207.55,759 204.8,761.75 202.05,759" fill="#fff" stroke="#C5CCD2" stroke-width="0.8"/>
<polygon points="228.65,756.25 231.4,759 228.65,761.75 225.9,759" fill="#fff" stroke="#C5CCD2" stroke-width="0.8"/>
<polygon points="252.5,701.93 255.25,704.68 252.5,707.43 249.75,704.68" fill="#fff" stroke="#C5CCD2" stroke-width="0.8"/>
<polygon points="276.35,707.36 279.1,710.11 276.35,712.86 273.6,710.11" fill="#fff" stroke="#C5CCD2" stroke-width="0.8"/>
<polygon points="300.2,739.95 302.95,742.7 300.2,745.45 297.45,742.7" fill="#fff" stroke="#C5CCD2" stroke-width="0.8"/>
<line x1="252.5" y1="633.3" x2="252.5" y2="753.68" stroke="#108E4E" stroke-width="1.5"/>
<line x1="249.5" y1="633.3" x2="255.5" y2="633.3" stroke="#108E4E" stroke-width="1.5"/>
<line x1="249.5" y1="753.68" x2="255.5" y2="753.68" stroke="#108E4E" stroke-width="1.5"/>
<line x1="276.35" y1="636.51" x2="276.35" y2="757.37" stroke="#108E4E" stroke-width="1.5"/>
<line x1="273.35" y1="636.51" x2="279.35" y2="636.51" stroke="#108E4E" stroke-width="1.5"/>
<line x1="273.35" y1="757.37" x2="279.35" y2="757.37" stroke="#108E4E" stroke-width="1.5"/>
<line x1="300.2" y1="675.4" x2="300.2" y2="759" stroke="#108E4E" stroke-width="1.5"/>
<line x1="297.2" y1="675.4" x2="303.2" y2="675.4" stroke="#108E4E" stroke-width="1.5"/>
<line x1="297.2" y1="759" x2="303.2" y2="759" stroke="#108E4E" stroke-width="1.5"/>
<polyline points="109.4,759 157.1,758.46 180.95,759 204.8,757.91 228.65,759 252.5,693.71 276.35,696.91 300.2,719.4" fill="none" stroke="#108E4E" stroke-width="1.55" stroke-linejoin="round" stroke-dasharray="4.5,2.5"/>
<circle cx="109.4" cy="759" r="1.0" fill="#108E4E"/>
<circle cx="157.1" cy="758.46" r="1.0" fill="#108E4E"/>
<circle cx="180.95" cy="759" r="1.0" fill="#108E4E"/>
<circle cx="204.8" cy="757.91" r="1.0" fill="#108E4E"/>
<circle cx="228.65" cy="759" r="1.0" fill="#108E4E"/>
<circle cx="252.5" cy="693.71" r="1.0" fill="#108E4E"/>
<circle cx="276.35" cy="696.91" r="1.0" fill="#108E4E"/>
<circle cx="300.2" cy="719.4" r="1.0" fill="#108E4E"/>
<line x1="252.5" y1="705.88" x2="252.5" y2="753.68" stroke="#246A85" stroke-width="1.5"/>
<line x1="249.5" y1="705.88" x2="255.5" y2="705.88" stroke="#246A85" stroke-width="1.5"/>
<line x1="249.5" y1="753.68" x2="255.5" y2="753.68" stroke="#246A85" stroke-width="1.5"/>
<line x1="276.35" y1="704.9" x2="276.35" y2="756.23" stroke="#246A85" stroke-width="1.5"/>
<line x1="273.35" y1="704.9" x2="279.35" y2="704.9" stroke="#246A85" stroke-width="1.5"/>
<line x1="273.35" y1="756.23" x2="279.35" y2="756.23" stroke="#246A85" stroke-width="1.5"/>
<line x1="300.2" y1="730.59" x2="300.2" y2="759" stroke="#246A85" stroke-width="1.5"/>
<line x1="297.2" y1="730.59" x2="303.2" y2="730.59" stroke="#246A85" stroke-width="1.5"/>
<line x1="297.2" y1="759" x2="303.2" y2="759" stroke="#246A85" stroke-width="1.5"/>
<polyline points="109.4,759 133.25,759 157.1,757.37 180.95,759 204.8,757.37 228.65,759 252.5,729.72 276.35,731.3 300.2,747.32" fill="none" stroke="#246A85" stroke-width="1.55" stroke-linejoin="round"/>
<circle cx="109.4" cy="759" r="2.7" fill="#246A85"/>
<circle cx="133.25" cy="759" r="2.7" fill="#246A85"/>
<circle cx="157.1" cy="757.37" r="2.7" fill="#246A85"/>
<circle cx="180.95" cy="759" r="2.7" fill="#246A85"/>
<circle cx="204.8" cy="757.37" r="2.7" fill="#246A85"/>
<circle cx="228.65" cy="759" r="2.7" fill="#246A85"/>
<circle cx="252.5" cy="729.72" r="2.7" fill="#246A85"/>
<circle cx="276.35" cy="731.3" r="2.7" fill="#246A85"/>
<circle cx="300.2" cy="747.32" r="2.7" fill="#246A85"/>
<line x1="75.9" y1="622.45" x2="75.9" y2="759.75" stroke="#000" stroke-width="1.6"/>
<line x1="69.4" y1="759" x2="75.9" y2="759" stroke="#000" stroke-width="1.5"/>
<text x="63.2" y="762.9" font-size="9.8" text-anchor="end" fill="#000" stroke="#000" stroke-width="0.12">0</text>
<line x1="69.4" y1="731.84" x2="75.9" y2="731.84" stroke="#000" stroke-width="1.5"/>
<text x="63.2" y="735.74" font-size="9.8" text-anchor="end" fill="#000" stroke="#000" stroke-width="0.12">5000</text>
<line x1="69.4" y1="704.68" x2="75.9" y2="704.68" stroke="#000" stroke-width="1.5"/>
<text x="63.2" y="708.58" font-size="9.8" text-anchor="end" fill="#000" stroke="#000" stroke-width="0.12">10000</text>
<line x1="69.4" y1="677.52" x2="75.9" y2="677.52" stroke="#000" stroke-width="1.5"/>
<text x="63.2" y="681.42" font-size="9.8" text-anchor="end" fill="#000" stroke="#000" stroke-width="0.12">15000</text>
<line x1="69.4" y1="650.36" x2="75.9" y2="650.36" stroke="#000" stroke-width="1.5"/>
<text x="63.2" y="654.26" font-size="9.8" text-anchor="end" fill="#000" stroke="#000" stroke-width="0.12">20000</text>
<line x1="69.4" y1="623.2" x2="75.9" y2="623.2" stroke="#000" stroke-width="1.5"/>
<text x="63.2" y="627.1" font-size="9.8" text-anchor="end" fill="#000" stroke="#000" stroke-width="0.12">25000</text>
<line x1="72.6" y1="745.42" x2="75.9" y2="745.42" stroke="#000" stroke-width="1.4"/>
<line x1="72.6" y1="718.26" x2="75.9" y2="718.26" stroke="#000" stroke-width="1.4"/>
<line x1="72.6" y1="691.1" x2="75.9" y2="691.1" stroke="#000" stroke-width="1.4"/>
<line x1="72.6" y1="663.94" x2="75.9" y2="663.94" stroke="#000" stroke-width="1.4"/>
<line x1="72.6" y1="636.78" x2="75.9" y2="636.78" stroke="#000" stroke-width="1.4"/>
<line x1="97.6" y1="783.8" x2="311.8" y2="783.8" stroke="#000" stroke-width="1.6"/>
<line x1="109.4" y1="783.8" x2="109.4" y2="790" stroke="#000" stroke-width="1.4"/>
<text x="107.2" y="803.9" font-size="9.8" text-anchor="middle" fill="#000" stroke="#000" stroke-width="0.12">-7</text>
<line x1="133.25" y1="783.8" x2="133.25" y2="790" stroke="#000" stroke-width="1.4"/>
<text x="132.05" y="803.9" font-size="9.8" text-anchor="middle" fill="#000" stroke="#000" stroke-width="0.12">0</text>
<line x1="157.1" y1="783.8" x2="157.1" y2="790" stroke="#000" stroke-width="1.4"/>
<text x="155.9" y="803.9" font-size="9.8" text-anchor="middle" fill="#000" stroke="#000" stroke-width="0.12">1</text>
<line x1="180.95" y1="783.8" x2="180.95" y2="790" stroke="#000" stroke-width="1.4"/>
<text x="179.75" y="803.9" font-size="9.8" text-anchor="middle" fill="#000" stroke="#000" stroke-width="0.12">3</text>
<line x1="204.8" y1="783.8" x2="204.8" y2="790" stroke="#000" stroke-width="1.4"/>
<text x="203.6" y="803.9" font-size="9.8" text-anchor="middle" fill="#000" stroke="#000" stroke-width="0.12">6</text>
<line x1="228.65" y1="783.8" x2="228.65" y2="790" stroke="#000" stroke-width="1.4"/>
<text x="227.45" y="803.9" font-size="9.8" text-anchor="middle" fill="#000" stroke="#000" stroke-width="0.12">12</text>
<line x1="252.5" y1="783.8" x2="252.5" y2="790" stroke="#000" stroke-width="1.4"/>
<text x="251.3" y="803.9" font-size="9.8" text-anchor="middle" fill="#000" stroke="#000" stroke-width="0.12">18</text>
<line x1="276.35" y1="783.8" x2="276.35" y2="790" stroke="#000" stroke-width="1.4"/>
<text x="275.15" y="803.9" font-size="9.8" text-anchor="middle" fill="#000" stroke="#000" stroke-width="0.12">30</text>
<line x1="300.2" y1="783.8" x2="300.2" y2="790" stroke="#000" stroke-width="1.4"/>
<text x="299" y="803.9" font-size="9.8" text-anchor="middle" fill="#000" stroke="#000" stroke-width="0.12">54</text>
<line x1="109.4" y1="771" x2="109.4" y2="776.1" stroke="#000" stroke-width="1.2"/>
<polygon points="106.2,774.7 112.6,774.7 109.4,780.1" fill="#000" stroke="#000" stroke-width="0.3" stroke-linejoin="miter"/>
<line x1="133.25" y1="771" x2="133.25" y2="776.1" stroke="#000" stroke-width="1.2"/>
<polygon points="130.05,774.7 136.45,774.7 133.25,780.1" fill="#000" stroke="#000" stroke-width="0.3" stroke-linejoin="miter"/>
<line x1="166.28" y1="787.45" x2="171.78" y2="780.15" stroke="#000" stroke-width="1.4"/>
<line x1="188.12" y1="787.45" x2="193.62" y2="780.15" stroke="#000" stroke-width="1.4"/>
<line x1="192.12" y1="787.45" x2="197.62" y2="780.15" stroke="#000" stroke-width="1.4"/>
<polyline points="109.4,809.5 109.4,813 133.25,813 133.25,809.5" fill="none" stroke="#000" stroke-width="1.5"/>
<polyline points="157.1,809.5 157.1,813 300.2,813 300.2,809.5" fill="none" stroke="#000" stroke-width="1.5"/>
<text x="121.3" y="829" font-size="9.8" text-anchor="middle" fill="#000" stroke="#000" stroke-width="0.12">Day</text>
<text x="227.7" y="829" font-size="9.8" text-anchor="middle" fill="#000" stroke="#000" stroke-width="0.12">Month</text>
<line x1="450" y1="720.1" x2="685" y2="720.1" stroke="#555" stroke-width="0.8" stroke-dasharray="1,1.1"/>
<polyline points="478,747.12 494.49,749.44 510.98,743.26 527.47,739.4 543.96,744.8 560.45,743.26 576.94,643.67 593.43,727.82 609.92,735.54 626.41,739.4 642.9,743.26 659.39,739.4 675.88,743.26" fill="none" stroke="#C8CFD5" stroke-width="0.8" stroke-linejoin="round"/>
<polyline points="478,727.82 494.49,727.82 510.98,735.54 527.47,741.72 543.96,723.96 560.45,735.54 576.94,727.82 593.43,673.78 609.92,723.96 626.41,716.24 642.9,727.82 659.39,731.68 675.88,718.56" fill="none" stroke="#C8CFD5" stroke-width="0.8" stroke-linejoin="round"/>
<polyline points="478,743.26 494.49,744.8 510.98,749.44 527.47,747.12 543.96,743.26 560.45,739.4 576.94,731.68 593.43,712.38 609.92,679.96 626.41,720.1 642.9,673.01 659.39,689.22 675.88,720.1" fill="none" stroke="#C8CFD5" stroke-width="0.8" stroke-linejoin="round"/>
<polyline points="478,739.4 494.49,741.72 510.98,731.68 527.47,694.24 543.96,716.24 560.45,720.1 576.94,687.21 593.43,723.96 609.92,731.68 626.41,727.82 642.9,735.54 659.39,668.38 675.88,735.54" fill="none" stroke="#C8CFD5" stroke-width="0.8" stroke-linejoin="round"/>
<polyline points="478,749.44 494.49,750.98 510.98,741.72 527.47,713.92 543.96,699.26 560.45,731.68 576.94,735.54 593.43,751.75 609.92,751.75 626.41,735.54 642.9,723.96 659.39,731.68 675.88,739.4" fill="none" stroke="#C8CFD5" stroke-width="0.8" stroke-linejoin="round"/>
<polyline points="478,744.8 494.49,747.12 510.98,697.71 527.47,731.68 543.96,739.4 560.45,727.82 576.94,723.96 593.43,704.66 609.92,712.38 626.41,727.82 642.9,731.68 659.39,739.4 675.88,743.26" fill="none" stroke="#C8CFD5" stroke-width="0.8" stroke-linejoin="round"/>
<polyline points="478,735.54 494.49,737.08 510.98,744.8 527.47,743.26 543.96,708.52 560.45,701.57 576.94,743.26 593.43,708.52 609.92,735.54 626.41,743.26 642.9,739.4 659.39,712.38 675.88,744.8" fill="none" stroke="#C8CFD5" stroke-width="0.8" stroke-linejoin="round"/>
<polyline points="478,726.28 494.49,726.28 510.98,712.38 527.47,727.82 543.96,710.84 560.45,735.54 576.94,716.24 593.43,735.54 609.92,727.82 626.41,708.52 642.9,735.54 659.39,720.1 675.88,731.68" fill="none" stroke="#C8CFD5" stroke-width="0.8" stroke-linejoin="round"/>
<polyline points="478,743.26 494.49,741.72 510.98,739.4 527.47,747.12 543.96,747.12 560.45,741.72 576.94,727.82 593.43,731.68 609.92,716.24 626.41,701.57 642.9,727.82 659.39,743.26 675.88,739.4" fill="none" stroke="#C8CFD5" stroke-width="0.8" stroke-linejoin="round"/>
<polyline points="478,739.4 494.49,743.26 510.98,727.82 527.47,735.54 543.96,735.54 560.45,731.68 576.94,704.66 593.43,720.1 609.92,723.96 626.41,735.54 642.9,747.12 659.39,743.26 675.88,735.54" fill="none" stroke="#C8CFD5" stroke-width="0.8" stroke-linejoin="round"/>
<polygon points="478,744.37 480.75,747.12 478,749.87 475.25,747.12" fill="#C5CCD2"/>
<polygon points="494.49,746.69 497.24,749.44 494.49,752.19 491.74,749.44" fill="#C5CCD2"/>
<polygon points="510.98,740.51 513.73,743.26 510.98,746.01 508.23,743.26" fill="#C5CCD2"/>
<polygon points="527.47,736.65 530.22,739.4 527.47,742.15 524.72,739.4" fill="#C5CCD2"/>
<polygon points="543.96,742.05 546.71,744.8 543.96,747.55 541.21,744.8" fill="#C5CCD2"/>
<polygon points="560.45,740.51 563.2,743.26 560.45,746.01 557.7,743.26" fill="#C5CCD2"/>
<polygon points="576.94,640.92 579.69,643.67 576.94,646.42 574.19,643.67" fill="#C5CCD2"/>
<polygon points="593.43,725.07 596.18,727.82 593.43,730.57 590.68,727.82" fill="#C5CCD2"/>
<polygon points="609.92,732.79 612.67,735.54 609.92,738.29 607.17,735.54" fill="#C5CCD2"/>
<polygon points="626.41,736.65 629.16,739.4 626.41,742.15 623.66,739.4" fill="#C5CCD2"/>
<polygon points="642.9,740.51 645.65,743.26 642.9,746.01 640.15,743.26" fill="#C5CCD2"/>
<polygon points="659.39,736.65 662.14,739.4 659.39,742.15 656.64,739.4" fill="#C5CCD2"/>
<polygon points="675.88,740.51 678.63,743.26 675.88,746.01 673.13,743.26" fill="#C5CCD2"/>
<rect x="475.8" y="725.62" width="4.4" height="4.4" fill="#C5CCD2"/>
<rect x="492.29" y="725.62" width="4.4" height="4.4" fill="#C5CCD2"/>
<rect x="508.78" y="733.34" width="4.4" height="4.4" fill="#C5CCD2"/>
<rect x="525.27" y="739.52" width="4.4" height="4.4" fill="#C5CCD2"/>
<rect x="541.76" y="721.76" width="4.4" height="4.4" fill="#C5CCD2"/>
<rect x="558.25" y="733.34" width="4.4" height="4.4" fill="#C5CCD2"/>
<rect x="574.74" y="725.62" width="4.4" height="4.4" fill="#C5CCD2"/>
<rect x="591.23" y="671.58" width="4.4" height="4.4" fill="#C5CCD2"/>
<rect x="607.72" y="721.76" width="4.4" height="4.4" fill="#C5CCD2"/>
<rect x="624.21" y="714.04" width="4.4" height="4.4" fill="#C5CCD2"/>
<rect x="640.7" y="725.62" width="4.4" height="4.4" fill="#C5CCD2"/>
<rect x="657.19" y="729.48" width="4.4" height="4.4" fill="#C5CCD2"/>
<rect x="673.68" y="716.36" width="4.4" height="4.4" fill="#C5CCD2"/>
<rect x="475.8" y="741.06" width="4.4" height="4.4" fill="#fff" stroke="#C5CCD2" stroke-width="0.8"/>
<rect x="492.29" y="742.6" width="4.4" height="4.4" fill="#fff" stroke="#C5CCD2" stroke-width="0.8"/>
<rect x="508.78" y="747.24" width="4.4" height="4.4" fill="#fff" stroke="#C5CCD2" stroke-width="0.8"/>
<rect x="525.27" y="744.92" width="4.4" height="4.4" fill="#fff" stroke="#C5CCD2" stroke-width="0.8"/>
<rect x="541.76" y="741.06" width="4.4" height="4.4" fill="#fff" stroke="#C5CCD2" stroke-width="0.8"/>
<rect x="558.25" y="737.2" width="4.4" height="4.4" fill="#fff" stroke="#C5CCD2" stroke-width="0.8"/>
<rect x="574.74" y="729.48" width="4.4" height="4.4" fill="#fff" stroke="#C5CCD2" stroke-width="0.8"/>
<rect x="591.23" y="710.18" width="4.4" height="4.4" fill="#fff" stroke="#C5CCD2" stroke-width="0.8"/>
<rect x="607.72" y="677.76" width="4.4" height="4.4" fill="#fff" stroke="#C5CCD2" stroke-width="0.8"/>
<rect x="624.21" y="717.9" width="4.4" height="4.4" fill="#fff" stroke="#C5CCD2" stroke-width="0.8"/>
<rect x="640.7" y="670.81" width="4.4" height="4.4" fill="#fff" stroke="#C5CCD2" stroke-width="0.8"/>
<rect x="657.19" y="687.02" width="4.4" height="4.4" fill="#fff" stroke="#C5CCD2" stroke-width="0.8"/>
<rect x="673.68" y="717.9" width="4.4" height="4.4" fill="#fff" stroke="#C5CCD2" stroke-width="0.8"/>
<circle cx="478" cy="739.4" r="2.2" fill="#C5CCD2"/>
<circle cx="494.49" cy="741.72" r="2.2" fill="#C5CCD2"/>
<circle cx="510.98" cy="731.68" r="2.2" fill="#C5CCD2"/>
<circle cx="527.47" cy="694.24" r="2.2" fill="#C5CCD2"/>
<circle cx="543.96" cy="716.24" r="2.2" fill="#C5CCD2"/>
<circle cx="560.45" cy="720.1" r="2.2" fill="#C5CCD2"/>
<circle cx="576.94" cy="687.21" r="2.2" fill="#C5CCD2"/>
<circle cx="593.43" cy="723.96" r="2.2" fill="#C5CCD2"/>
<circle cx="609.92" cy="731.68" r="2.2" fill="#C5CCD2"/>
<circle cx="626.41" cy="727.82" r="2.2" fill="#C5CCD2"/>
<circle cx="642.9" cy="735.54" r="2.2" fill="#C5CCD2"/>
<circle cx="659.39" cy="668.38" r="2.2" fill="#C5CCD2"/>
<circle cx="675.88" cy="735.54" r="2.2" fill="#C5CCD2"/>
<polygon points="478,746.8 480.53,751.2 475.47,751.2" fill="#C5CCD2"/>
<polygon points="494.49,748.34 497.02,752.74 491.96,752.74" fill="#C5CCD2"/>
<polygon points="510.98,739.08 513.51,743.48 508.45,743.48" fill="#C5CCD2"/>
<polygon points="527.47,711.28 530,715.68 524.94,715.68" fill="#C5CCD2"/>
<polygon points="543.96,696.62 546.49,701.02 541.43,701.02" fill="#C5CCD2"/>
<polygon points="560.45,729.04 562.98,733.44 557.92,733.44" fill="#C5CCD2"/>
<polygon points="576.94,732.9 579.47,737.3 574.41,737.3" fill="#C5CCD2"/>
<polygon points="593.43,749.11 595.96,753.51 590.9,753.51" fill="#C5CCD2"/>
<polygon points="609.92,749.11 612.45,753.51 607.39,753.51" fill="#C5CCD2"/>
<polygon points="626.41,732.9 628.94,737.3 623.88,737.3" fill="#C5CCD2"/>
<polygon points="642.9,721.32 645.43,725.72 640.37,725.72" fill="#C5CCD2"/>
<polygon points="659.39,729.04 661.92,733.44 656.86,733.44" fill="#C5CCD2"/>
<polygon points="675.88,736.76 678.41,741.16 673.35,741.16" fill="#C5CCD2"/>
<polygon points="478,747.44 480.53,743.04 475.47,743.04" fill="#C5CCD2"/>
<polygon points="494.49,749.76 497.02,745.36 491.96,745.36" fill="#C5CCD2"/>
<polygon points="510.98,700.35 513.51,695.95 508.45,695.95" fill="#C5CCD2"/>
<polygon points="527.47,734.32 530,729.92 524.94,729.92" fill="#C5CCD2"/>
<polygon points="543.96,742.04 546.49,737.64 541.43,737.64" fill="#C5CCD2"/>
<polygon points="560.45,730.46 562.98,726.06 557.92,726.06" fill="#C5CCD2"/>
<polygon points="576.94,726.6 579.47,722.2 574.41,722.2" fill="#C5CCD2"/>
<polygon points="593.43,707.3 595.96,702.9 590.9,702.9" fill="#C5CCD2"/>
<polygon points="609.92,715.02 612.45,710.62 607.39,710.62" fill="#C5CCD2"/>
<polygon points="626.41,730.46 628.94,726.06 623.88,726.06" fill="#C5CCD2"/>
<polygon points="642.9,734.32 645.43,729.92 640.37,729.92" fill="#C5CCD2"/>
<polygon points="659.39,742.04 661.92,737.64 656.86,737.64" fill="#C5CCD2"/>
<polygon points="675.88,745.9 678.41,741.5 673.35,741.5" fill="#C5CCD2"/>
<circle cx="478" cy="735.54" r="2.2" fill="#fff" stroke="#C5CCD2" stroke-width="0.8"/>
<circle cx="494.49" cy="737.08" r="2.2" fill="#fff" stroke="#C5CCD2" stroke-width="0.8"/>
<circle cx="510.98" cy="744.8" r="2.2" fill="#fff" stroke="#C5CCD2" stroke-width="0.8"/>
<circle cx="527.47" cy="743.26" r="2.2" fill="#fff" stroke="#C5CCD2" stroke-width="0.8"/>
<circle cx="543.96" cy="708.52" r="2.2" fill="#fff" stroke="#C5CCD2" stroke-width="0.8"/>
<circle cx="560.45" cy="701.57" r="2.2" fill="#fff" stroke="#C5CCD2" stroke-width="0.8"/>
<circle cx="576.94" cy="743.26" r="2.2" fill="#fff" stroke="#C5CCD2" stroke-width="0.8"/>
<circle cx="593.43" cy="708.52" r="2.2" fill="#fff" stroke="#C5CCD2" stroke-width="0.8"/>
<circle cx="609.92" cy="735.54" r="2.2" fill="#fff" stroke="#C5CCD2" stroke-width="0.8"/>
<circle cx="626.41" cy="743.26" r="2.2" fill="#fff" stroke="#C5CCD2" stroke-width="0.8"/>
<circle cx="642.9" cy="739.4" r="2.2" fill="#fff" stroke="#C5CCD2" stroke-width="0.8"/>
<circle cx="659.39" cy="712.38" r="2.2" fill="#fff" stroke="#C5CCD2" stroke-width="0.8"/>
<circle cx="675.88" cy="744.8" r="2.2" fill="#fff" stroke="#C5CCD2" stroke-width="0.8"/>
<circle cx="478" cy="726.28" r="2.2" fill="#fff" stroke="#C5CCD2" stroke-width="0.8"/>
<path d="M475.8,726.28 A2.2,2.2 0 0 1 480.2,726.28 Z" fill="#C5CCD2"/>
<circle cx="494.49" cy="726.28" r="2.2" fill="#fff" stroke="#C5CCD2" stroke-width="0.8"/>
<path d="M492.29,726.28 A2.2,2.2 0 0 1 496.69,726.28 Z" fill="#C5CCD2"/>
<circle cx="510.98" cy="712.38" r="2.2" fill="#fff" stroke="#C5CCD2" stroke-width="0.8"/>
<path d="M508.78,712.38 A2.2,2.2 0 0 1 513.18,712.38 Z" fill="#C5CCD2"/>
<circle cx="527.47" cy="727.82" r="2.2" fill="#fff" stroke="#C5CCD2" stroke-width="0.8"/>
<path d="M525.27,727.82 A2.2,2.2 0 0 1 529.67,727.82 Z" fill="#C5CCD2"/>
<circle cx="543.96" cy="710.84" r="2.2" fill="#fff" stroke="#C5CCD2" stroke-width="0.8"/>
<path d="M541.76,710.84 A2.2,2.2 0 0 1 546.16,710.84 Z" fill="#C5CCD2"/>
<circle cx="560.45" cy="735.54" r="2.2" fill="#fff" stroke="#C5CCD2" stroke-width="0.8"/>
<path d="M558.25,735.54 A2.2,2.2 0 0 1 562.65,735.54 Z" fill="#C5CCD2"/>
<circle cx="576.94" cy="716.24" r="2.2" fill="#fff" stroke="#C5CCD2" stroke-width="0.8"/>
<path d="M574.74,716.24 A2.2,2.2 0 0 1 579.14,716.24 Z" fill="#C5CCD2"/>
<circle cx="593.43" cy="735.54" r="2.2" fill="#fff" stroke="#C5CCD2" stroke-width="0.8"/>
<path d="M591.23,735.54 A2.2,2.2 0 0 1 595.63,735.54 Z" fill="#C5CCD2"/>
<circle cx="609.92" cy="727.82" r="2.2" fill="#fff" stroke="#C5CCD2" stroke-width="0.8"/>
<path d="M607.72,727.82 A2.2,2.2 0 0 1 612.12,727.82 Z" fill="#C5CCD2"/>
<circle cx="626.41" cy="708.52" r="2.2" fill="#fff" stroke="#C5CCD2" stroke-width="0.8"/>
<path d="M624.21,708.52 A2.2,2.2 0 0 1 628.61,708.52 Z" fill="#C5CCD2"/>
<circle cx="642.9" cy="735.54" r="2.2" fill="#fff" stroke="#C5CCD2" stroke-width="0.8"/>
<path d="M640.7,735.54 A2.2,2.2 0 0 1 645.1,735.54 Z" fill="#C5CCD2"/>
<circle cx="659.39" cy="720.1" r="2.2" fill="#fff" stroke="#C5CCD2" stroke-width="0.8"/>
<path d="M657.19,720.1 A2.2,2.2 0 0 1 661.59,720.1 Z" fill="#C5CCD2"/>
<circle cx="675.88" cy="731.68" r="2.2" fill="#fff" stroke="#C5CCD2" stroke-width="0.8"/>
<path d="M673.68,731.68 A2.2,2.2 0 0 1 678.08,731.68 Z" fill="#C5CCD2"/>
<polygon points="478,740.51 480.75,743.26 478,746.01 475.25,743.26" fill="#fff" stroke="#C5CCD2" stroke-width="0.8"/>
<polygon points="494.49,738.97 497.24,741.72 494.49,744.47 491.74,741.72" fill="#fff" stroke="#C5CCD2" stroke-width="0.8"/>
<polygon points="510.98,736.65 513.73,739.4 510.98,742.15 508.23,739.4" fill="#fff" stroke="#C5CCD2" stroke-width="0.8"/>
<polygon points="527.47,744.37 530.22,747.12 527.47,749.87 524.72,747.12" fill="#fff" stroke="#C5CCD2" stroke-width="0.8"/>
<polygon points="543.96,744.37 546.71,747.12 543.96,749.87 541.21,747.12" fill="#fff" stroke="#C5CCD2" stroke-width="0.8"/>
<polygon points="560.45,738.97 563.2,741.72 560.45,744.47 557.7,741.72" fill="#fff" stroke="#C5CCD2" stroke-width="0.8"/>
<polygon points="576.94,725.07 579.69,727.82 576.94,730.57 574.19,727.82" fill="#fff" stroke="#C5CCD2" stroke-width="0.8"/>
<polygon points="593.43,728.93 596.18,731.68 593.43,734.43 590.68,731.68" fill="#fff" stroke="#C5CCD2" stroke-width="0.8"/>
<polygon points="609.92,713.49 612.67,716.24 609.92,718.99 607.17,716.24" fill="#fff" stroke="#C5CCD2" stroke-width="0.8"/>
<polygon points="626.41,698.82 629.16,701.57 626.41,704.32 623.66,701.57" fill="#fff" stroke="#C5CCD2" stroke-width="0.8"/>
<polygon points="642.9,725.07 645.65,727.82 642.9,730.57 640.15,727.82" fill="#fff" stroke="#C5CCD2" stroke-width="0.8"/>
<polygon points="659.39,740.51 662.14,743.26 659.39,746.01 656.64,743.26" fill="#fff" stroke="#C5CCD2" stroke-width="0.8"/>
<polygon points="675.88,736.65 678.63,739.4 675.88,742.15 673.13,739.4" fill="#fff" stroke="#C5CCD2" stroke-width="0.8"/>
<circle cx="478" cy="739.4" r="1.87" fill="#C5CCD2"/>
<circle cx="494.49" cy="743.26" r="1.87" fill="#C5CCD2"/>
<circle cx="510.98" cy="727.82" r="1.87" fill="#C5CCD2"/>
<circle cx="527.47" cy="735.54" r="1.87" fill="#C5CCD2"/>
<circle cx="543.96" cy="735.54" r="1.87" fill="#C5CCD2"/>
<circle cx="560.45" cy="731.68" r="1.87" fill="#C5CCD2"/>
<circle cx="576.94" cy="704.66" r="1.87" fill="#C5CCD2"/>
<circle cx="593.43" cy="720.1" r="1.87" fill="#C5CCD2"/>
<circle cx="609.92" cy="723.96" r="1.87" fill="#C5CCD2"/>
<circle cx="626.41" cy="735.54" r="1.87" fill="#C5CCD2"/>
<circle cx="642.9" cy="747.12" r="1.87" fill="#C5CCD2"/>
<circle cx="659.39" cy="743.26" r="1.87" fill="#C5CCD2"/>
<circle cx="675.88" cy="735.54" r="1.87" fill="#C5CCD2"/>
<line x1="478" y1="728.9" x2="478" y2="743.26" stroke="#108E4E" stroke-width="1.5"/>
<line x1="475" y1="728.9" x2="481" y2="728.9" stroke="#108E4E" stroke-width="1.5"/>
<line x1="475" y1="743.26" x2="481" y2="743.26" stroke="#108E4E" stroke-width="1.5"/>
<line x1="494.49" y1="728.9" x2="494.49" y2="746.35" stroke="#108E4E" stroke-width="1.5"/>
<line x1="491.49" y1="728.9" x2="497.49" y2="728.9" stroke="#108E4E" stroke-width="1.5"/>
<line x1="491.49" y1="746.35" x2="497.49" y2="746.35" stroke="#108E4E" stroke-width="1.5"/>
<line x1="510.98" y1="700.8" x2="510.98" y2="739.79" stroke="#108E4E" stroke-width="1.5"/>
<line x1="507.98" y1="700.8" x2="513.98" y2="700.8" stroke="#108E4E" stroke-width="1.5"/>
<line x1="507.98" y1="739.79" x2="513.98" y2="739.79" stroke="#108E4E" stroke-width="1.5"/>
<line x1="527.47" y1="728.59" x2="527.47" y2="749.82" stroke="#108E4E" stroke-width="1.5"/>
<line x1="524.47" y1="728.59" x2="530.47" y2="728.59" stroke="#108E4E" stroke-width="1.5"/>
<line x1="524.47" y1="749.82" x2="530.47" y2="749.82" stroke="#108E4E" stroke-width="1.5"/>
<line x1="543.96" y1="719.87" x2="543.96" y2="753.37" stroke="#108E4E" stroke-width="1.5"/>
<line x1="540.96" y1="719.87" x2="546.96" y2="719.87" stroke="#108E4E" stroke-width="1.5"/>
<line x1="540.96" y1="753.37" x2="546.96" y2="753.37" stroke="#108E4E" stroke-width="1.5"/>
<line x1="560.45" y1="722.03" x2="560.45" y2="745.58" stroke="#108E4E" stroke-width="1.5"/>
<line x1="557.45" y1="722.03" x2="563.45" y2="722.03" stroke="#108E4E" stroke-width="1.5"/>
<line x1="557.45" y1="745.58" x2="563.45" y2="745.58" stroke="#108E4E" stroke-width="1.5"/>
<line x1="576.94" y1="711.61" x2="576.94" y2="729.36" stroke="#108E4E" stroke-width="1.5"/>
<line x1="573.94" y1="711.61" x2="579.94" y2="711.61" stroke="#108E4E" stroke-width="1.5"/>
<line x1="573.94" y1="729.36" x2="579.94" y2="729.36" stroke="#108E4E" stroke-width="1.5"/>
<line x1="593.43" y1="716.24" x2="593.43" y2="735.54" stroke="#108E4E" stroke-width="1.5"/>
<line x1="590.43" y1="716.24" x2="596.43" y2="716.24" stroke="#108E4E" stroke-width="1.5"/>
<line x1="590.43" y1="735.54" x2="596.43" y2="735.54" stroke="#108E4E" stroke-width="1.5"/>
<line x1="609.92" y1="685.59" x2="609.92" y2="748.2" stroke="#108E4E" stroke-width="1.5"/>
<line x1="606.92" y1="685.59" x2="612.92" y2="685.59" stroke="#108E4E" stroke-width="1.5"/>
<line x1="606.92" y1="748.2" x2="612.92" y2="748.2" stroke="#108E4E" stroke-width="1.5"/>
<line x1="626.41" y1="718.32" x2="626.41" y2="737.86" stroke="#108E4E" stroke-width="1.5"/>
<line x1="623.41" y1="718.32" x2="629.41" y2="718.32" stroke="#108E4E" stroke-width="1.5"/>
<line x1="623.41" y1="737.86" x2="629.41" y2="737.86" stroke="#108E4E" stroke-width="1.5"/>
<line x1="642.9" y1="678.8" x2="642.9" y2="755.3" stroke="#108E4E" stroke-width="1.5"/>
<line x1="639.9" y1="678.8" x2="645.9" y2="678.8" stroke="#108E4E" stroke-width="1.5"/>
<line x1="639.9" y1="755.3" x2="645.9" y2="755.3" stroke="#108E4E" stroke-width="1.5"/>
<line x1="659.39" y1="692" x2="659.39" y2="742.41" stroke="#108E4E" stroke-width="1.5"/>
<line x1="656.39" y1="692" x2="662.39" y2="692" stroke="#108E4E" stroke-width="1.5"/>
<line x1="656.39" y1="742.41" x2="662.39" y2="742.41" stroke="#108E4E" stroke-width="1.5"/>
<line x1="675.88" y1="721.49" x2="675.88" y2="750.36" stroke="#108E4E" stroke-width="1.5"/>
<line x1="672.88" y1="721.49" x2="678.88" y2="721.49" stroke="#108E4E" stroke-width="1.5"/>
<line x1="672.88" y1="750.36" x2="678.88" y2="750.36" stroke="#108E4E" stroke-width="1.5"/>
<polyline points="478,736 494.49,737.62 510.98,721.49 527.47,738.78 543.96,736.62 560.45,734.77 576.94,720.56 593.43,725.5 609.92,717.4 626.41,727.97 642.9,717.4 659.39,717.01 675.88,737.86" fill="none" stroke="#108E4E" stroke-width="1.55" stroke-linejoin="round" stroke-dasharray="4.5,2.5"/>
<circle cx="478" cy="736" r="1.0" fill="#108E4E"/>
<circle cx="494.49" cy="737.62" r="1.0" fill="#108E4E"/>
<circle cx="510.98" cy="721.49" r="1.0" fill="#108E4E"/>
<circle cx="527.47" cy="738.78" r="1.0" fill="#108E4E"/>
<circle cx="543.96" cy="736.62" r="1.0" fill="#108E4E"/>
<circle cx="560.45" cy="734.77" r="1.0" fill="#108E4E"/>
<circle cx="576.94" cy="720.56" r="1.0" fill="#108E4E"/>
<circle cx="593.43" cy="725.5" r="1.0" fill="#108E4E"/>
<circle cx="609.92" cy="717.4" r="1.0" fill="#108E4E"/>
<circle cx="626.41" cy="727.97" r="1.0" fill="#108E4E"/>
<circle cx="642.9" cy="717.4" r="1.0" fill="#108E4E"/>
<circle cx="659.39" cy="717.01" r="1.0" fill="#108E4E"/>
<circle cx="675.88" cy="737.86" r="1.0" fill="#108E4E"/>
<line x1="478" y1="736" x2="478" y2="746.27" stroke="#246A85" stroke-width="1.5"/>
<line x1="475" y1="736" x2="481" y2="736" stroke="#246A85" stroke-width="1.5"/>
<line x1="475" y1="746.27" x2="481" y2="746.27" stroke="#246A85" stroke-width="1.5"/>
<line x1="494.49" y1="737.08" x2="494.49" y2="747.89" stroke="#246A85" stroke-width="1.5"/>
<line x1="491.49" y1="737.08" x2="497.49" y2="737.08" stroke="#246A85" stroke-width="1.5"/>
<line x1="491.49" y1="747.89" x2="497.49" y2="747.89" stroke="#246A85" stroke-width="1.5"/>
<line x1="510.98" y1="723.19" x2="510.98" y2="745.04" stroke="#246A85" stroke-width="1.5"/>
<line x1="507.98" y1="723.19" x2="513.98" y2="723.19" stroke="#246A85" stroke-width="1.5"/>
<line x1="507.98" y1="745.04" x2="513.98" y2="745.04" stroke="#246A85" stroke-width="1.5"/>
<line x1="527.47" y1="723.81" x2="527.47" y2="742.41" stroke="#246A85" stroke-width="1.5"/>
<line x1="524.47" y1="723.81" x2="530.47" y2="723.81" stroke="#246A85" stroke-width="1.5"/>
<line x1="524.47" y1="742.41" x2="530.47" y2="742.41" stroke="#246A85" stroke-width="1.5"/>
<line x1="543.96" y1="724.73" x2="543.96" y2="745.58" stroke="#246A85" stroke-width="1.5"/>
<line x1="540.96" y1="724.73" x2="546.96" y2="724.73" stroke="#246A85" stroke-width="1.5"/>
<line x1="540.96" y1="745.58" x2="546.96" y2="745.58" stroke="#246A85" stroke-width="1.5"/>
<line x1="560.45" y1="724.35" x2="560.45" y2="742.49" stroke="#246A85" stroke-width="1.5"/>
<line x1="557.45" y1="724.35" x2="563.45" y2="724.35" stroke="#246A85" stroke-width="1.5"/>
<line x1="557.45" y1="742.49" x2="563.45" y2="742.49" stroke="#246A85" stroke-width="1.5"/>
<line x1="576.94" y1="698.1" x2="576.94" y2="731.22" stroke="#246A85" stroke-width="1.5"/>
<line x1="573.94" y1="698.1" x2="579.94" y2="698.1" stroke="#246A85" stroke-width="1.5"/>
<line x1="573.94" y1="731.22" x2="579.94" y2="731.22" stroke="#246A85" stroke-width="1.5"/>
<line x1="593.43" y1="707.98" x2="593.43" y2="736" stroke="#246A85" stroke-width="1.5"/>
<line x1="590.43" y1="707.98" x2="596.43" y2="707.98" stroke="#246A85" stroke-width="1.5"/>
<line x1="590.43" y1="736" x2="596.43" y2="736" stroke="#246A85" stroke-width="1.5"/>
<line x1="609.92" y1="714.7" x2="609.92" y2="737.86" stroke="#246A85" stroke-width="1.5"/>
<line x1="606.92" y1="714.7" x2="612.92" y2="714.7" stroke="#246A85" stroke-width="1.5"/>
<line x1="606.92" y1="737.86" x2="612.92" y2="737.86" stroke="#246A85" stroke-width="1.5"/>
<line x1="626.41" y1="719.33" x2="626.41" y2="740.79" stroke="#246A85" stroke-width="1.5"/>
<line x1="623.41" y1="719.33" x2="629.41" y2="719.33" stroke="#246A85" stroke-width="1.5"/>
<line x1="623.41" y1="740.79" x2="629.41" y2="740.79" stroke="#246A85" stroke-width="1.5"/>
<line x1="642.9" y1="721.64" x2="642.9" y2="744.03" stroke="#246A85" stroke-width="1.5"/>
<line x1="639.9" y1="721.64" x2="645.9" y2="721.64" stroke="#246A85" stroke-width="1.5"/>
<line x1="639.9" y1="744.03" x2="645.9" y2="744.03" stroke="#246A85" stroke-width="1.5"/>
<line x1="659.39" y1="712.92" x2="659.39" y2="742.49" stroke="#246A85" stroke-width="1.5"/>
<line x1="656.39" y1="712.92" x2="662.39" y2="712.92" stroke="#246A85" stroke-width="1.5"/>
<line x1="656.39" y1="742.49" x2="662.39" y2="742.49" stroke="#246A85" stroke-width="1.5"/>
<line x1="675.88" y1="730.14" x2="675.88" y2="745.58" stroke="#246A85" stroke-width="1.5"/>
<line x1="672.88" y1="730.14" x2="678.88" y2="730.14" stroke="#246A85" stroke-width="1.5"/>
<line x1="672.88" y1="745.58" x2="678.88" y2="745.58" stroke="#246A85" stroke-width="1.5"/>
<polyline points="478,741.41 494.49,743.03 510.98,734.38 527.47,733.38 543.96,735.31 560.45,733.69 576.94,714.08 593.43,723.81 609.92,726.43 626.41,730.21 642.9,732.84 659.39,727.97 675.88,738.16" fill="none" stroke="#246A85" stroke-width="1.55" stroke-linejoin="round"/>
<circle cx="478" cy="741.41" r="2.7" fill="#246A85"/>
<circle cx="494.49" cy="743.03" r="2.7" fill="#246A85"/>
<circle cx="510.98" cy="734.38" r="2.7" fill="#246A85"/>
<circle cx="527.47" cy="733.38" r="2.7" fill="#246A85"/>
<circle cx="543.96" cy="735.31" r="2.7" fill="#246A85"/>
<circle cx="560.45" cy="733.69" r="2.7" fill="#246A85"/>
<circle cx="576.94" cy="714.08" r="2.7" fill="#246A85"/>
<circle cx="593.43" cy="723.81" r="2.7" fill="#246A85"/>
<circle cx="609.92" cy="726.43" r="2.7" fill="#246A85"/>
<circle cx="626.41" cy="730.21" r="2.7" fill="#246A85"/>
<circle cx="642.9" cy="732.84" r="2.7" fill="#246A85"/>
<circle cx="659.39" cy="727.97" r="2.7" fill="#246A85"/>
<circle cx="675.88" cy="738.16" r="2.7" fill="#246A85"/>
<line x1="448.6" y1="622.85" x2="448.6" y2="759.45" stroke="#000" stroke-width="1.6"/>
<line x1="442.1" y1="758.7" x2="448.6" y2="758.7" stroke="#000" stroke-width="1.5"/>
<text x="437" y="762.6" font-size="9.8" text-anchor="end" fill="#000" stroke="#000" stroke-width="0.12">0</text>
<line x1="442.1" y1="739.4" x2="448.6" y2="739.4" stroke="#000" stroke-width="1.5"/>
<text x="437" y="743.3" font-size="9.8" text-anchor="end" fill="#000" stroke="#000" stroke-width="0.12">25</text>
<line x1="442.1" y1="720.1" x2="448.6" y2="720.1" stroke="#000" stroke-width="1.5"/>
<text x="437" y="724" font-size="9.8" text-anchor="end" fill="#000" stroke="#000" stroke-width="0.12">50</text>
<line x1="442.1" y1="700.8" x2="448.6" y2="700.8" stroke="#000" stroke-width="1.5"/>
<text x="437" y="704.7" font-size="9.8" text-anchor="end" fill="#000" stroke="#000" stroke-width="0.12">75</text>
<line x1="442.1" y1="681.5" x2="448.6" y2="681.5" stroke="#000" stroke-width="1.5"/>
<text x="437" y="685.4" font-size="9.8" text-anchor="end" fill="#000" stroke="#000" stroke-width="0.12">100</text>
<line x1="442.1" y1="662.2" x2="448.6" y2="662.2" stroke="#000" stroke-width="1.5"/>
<text x="437" y="666.1" font-size="9.8" text-anchor="end" fill="#000" stroke="#000" stroke-width="0.12">125</text>
<line x1="442.1" y1="642.9" x2="448.6" y2="642.9" stroke="#000" stroke-width="1.5"/>
<text x="437" y="646.8" font-size="9.8" text-anchor="end" fill="#000" stroke="#000" stroke-width="0.12">150</text>
<line x1="442.1" y1="623.6" x2="448.6" y2="623.6" stroke="#000" stroke-width="1.5"/>
<text x="437" y="627.5" font-size="9.8" text-anchor="end" fill="#000" stroke="#000" stroke-width="0.12">175</text>
<line x1="445.3" y1="749.05" x2="448.6" y2="749.05" stroke="#000" stroke-width="1.4"/>
<line x1="445.3" y1="729.75" x2="448.6" y2="729.75" stroke="#000" stroke-width="1.4"/>
<line x1="445.3" y1="710.45" x2="448.6" y2="710.45" stroke="#000" stroke-width="1.4"/>
<line x1="445.3" y1="691.15" x2="448.6" y2="691.15" stroke="#000" stroke-width="1.4"/>
<line x1="445.3" y1="671.85" x2="448.6" y2="671.85" stroke="#000" stroke-width="1.4"/>
<line x1="445.3" y1="652.55" x2="448.6" y2="652.55" stroke="#000" stroke-width="1.4"/>
<line x1="445.3" y1="633.25" x2="448.6" y2="633.25" stroke="#000" stroke-width="1.4"/>
<line x1="469.9" y1="783.7" x2="685" y2="783.7" stroke="#000" stroke-width="1.6"/>
<line x1="478" y1="783.7" x2="478" y2="790.1" stroke="#000" stroke-width="1.4"/>
<text x="476.3" y="804.1" font-size="9.8" text-anchor="middle" fill="#000" stroke="#000" stroke-width="0.12">-7</text>
<line x1="494.49" y1="783.7" x2="494.49" y2="790.1" stroke="#000" stroke-width="1.4"/>
<text x="494.29" y="804.1" font-size="9.8" text-anchor="middle" fill="#000" stroke="#000" stroke-width="0.12">0</text>
<line x1="510.98" y1="783.7" x2="510.98" y2="790.1" stroke="#000" stroke-width="1.4"/>
<text x="510.78" y="804.1" font-size="9.8" text-anchor="middle" fill="#000" stroke="#000" stroke-width="0.12">1</text>
<line x1="527.47" y1="783.7" x2="527.47" y2="790.1" stroke="#000" stroke-width="1.4"/>
<text x="527.27" y="804.1" font-size="9.8" text-anchor="middle" fill="#000" stroke="#000" stroke-width="0.12">3</text>
<line x1="543.96" y1="783.7" x2="543.96" y2="790.1" stroke="#000" stroke-width="1.4"/>
<text x="543.76" y="804.1" font-size="9.8" text-anchor="middle" fill="#000" stroke="#000" stroke-width="0.12">6</text>
<line x1="560.45" y1="783.7" x2="560.45" y2="790.1" stroke="#000" stroke-width="1.4"/>
<text x="560.25" y="804.1" font-size="9.8" text-anchor="middle" fill="#000" stroke="#000" stroke-width="0.12">12</text>
<line x1="576.94" y1="783.7" x2="576.94" y2="790.1" stroke="#000" stroke-width="1.4"/>
<text x="576.74" y="804.1" font-size="9.8" text-anchor="middle" fill="#000" stroke="#000" stroke-width="0.12">18</text>
<line x1="593.43" y1="783.7" x2="593.43" y2="790.1" stroke="#000" stroke-width="1.4"/>
<text x="593.23" y="804.1" font-size="9.8" text-anchor="middle" fill="#000" stroke="#000" stroke-width="0.12">24</text>
<line x1="609.92" y1="783.7" x2="609.92" y2="790.1" stroke="#000" stroke-width="1.4"/>
<text x="609.72" y="804.1" font-size="9.8" text-anchor="middle" fill="#000" stroke="#000" stroke-width="0.12">30</text>
<line x1="626.41" y1="783.7" x2="626.41" y2="790.1" stroke="#000" stroke-width="1.4"/>
<text x="626.21" y="804.1" font-size="9.8" text-anchor="middle" fill="#000" stroke="#000" stroke-width="0.12">36</text>
<line x1="642.9" y1="783.7" x2="642.9" y2="790.1" stroke="#000" stroke-width="1.4"/>
<text x="642.7" y="804.1" font-size="9.8" text-anchor="middle" fill="#000" stroke="#000" stroke-width="0.12">42</text>
<line x1="659.39" y1="783.7" x2="659.39" y2="790.1" stroke="#000" stroke-width="1.4"/>
<text x="659.19" y="804.1" font-size="9.8" text-anchor="middle" fill="#000" stroke="#000" stroke-width="0.12">48</text>
<line x1="675.88" y1="783.7" x2="675.88" y2="790.1" stroke="#000" stroke-width="1.4"/>
<text x="675.68" y="804.1" font-size="9.8" text-anchor="middle" fill="#000" stroke="#000" stroke-width="0.12">54</text>
<line x1="478" y1="770.8" x2="478" y2="775.6" stroke="#000" stroke-width="1.2"/>
<polygon points="474.8,774.2 481.2,774.2 478,779.6" fill="#000" stroke="#000" stroke-width="0.3" stroke-linejoin="miter"/>
<line x1="494.49" y1="770.8" x2="494.49" y2="775.6" stroke="#000" stroke-width="1.2"/>
<polygon points="491.29,774.2 497.69,774.2 494.49,779.6" fill="#000" stroke="#000" stroke-width="0.3" stroke-linejoin="miter"/>
<line x1="516.48" y1="787.35" x2="521.98" y2="780.05" stroke="#000" stroke-width="1.4"/>
<line x1="530.97" y1="787.35" x2="536.47" y2="780.05" stroke="#000" stroke-width="1.4"/>
<line x1="534.97" y1="787.35" x2="540.47" y2="780.05" stroke="#000" stroke-width="1.4"/>
<polyline points="478,812 478,815.4 494.49,815.4 494.49,812" fill="none" stroke="#000" stroke-width="1.5"/>
<polyline points="510.98,812 510.98,815.4 675.88,815.4 675.88,812" fill="none" stroke="#000" stroke-width="1.5"/>
<text x="486.3" y="829.2" font-size="9.8" text-anchor="middle" fill="#000" stroke="#000" stroke-width="0.12">Day</text>
<text x="594" y="829.2" font-size="9.8" text-anchor="middle" fill="#000" stroke="#000" stroke-width="0.12">Month</text>
<line x1="78" y1="970.09" x2="313" y2="970.09" stroke="#555" stroke-width="0.8" stroke-dasharray="1,1.1"/>
<polyline points="105.8,999.22 122.25,1004.62 138.7,1015.41 155.15,1018.65 171.6,988.43 188.05,993.83 204.5,909.87 220.95,999.22 237.4,1004.62 253.85,1010.02 270.3,999.22 286.75,1004.62 303.2,1010.02" fill="none" stroke="#C8CFD5" stroke-width="0.8" stroke-linejoin="round"/>
<polyline points="105.8,964.69 122.25,972.24 138.7,988.43 155.15,977.64 171.6,999.22 188.05,925.3 204.5,966.85 220.95,961.45 237.4,983.04 253.85,993.83 270.3,988.43 286.75,999.22 303.2,993.83" fill="none" stroke="#C8CFD5" stroke-width="0.8" stroke-linejoin="round"/>
<polyline points="105.8,977.64 122.25,983.04 138.7,993.83 155.15,999.22 171.6,972.24 188.05,988.43 204.5,977.64 220.95,934.26 237.4,988.43 253.85,977.64 270.3,999.22 286.75,993.83 303.2,988.43" fill="none" stroke="#C8CFD5" stroke-width="0.8" stroke-linejoin="round"/>
<polyline points="105.8,988.43 122.25,983.04 138.7,999.22 155.15,1004.62 171.6,1010.02 188.05,1015.41 204.5,993.83 220.95,983.04 237.4,937.49 253.85,988.43 270.3,954.22 286.75,977.64 303.2,999.22" fill="none" stroke="#C8CFD5" stroke-width="0.8" stroke-linejoin="round"/>
<polyline points="105.8,983.04 122.25,988.43 138.7,943.11 155.15,954.22 171.6,988.43 188.05,977.64 204.5,966.85 220.95,972.24 237.4,988.43 253.85,999.22 270.3,983.04 286.75,945.26 303.2,1004.62" fill="none" stroke="#C8CFD5" stroke-width="0.8" stroke-linejoin="round"/>
<polyline points="105.8,1014.33 122.25,1014.33 138.7,999.22 155.15,1010.02 171.6,999.22 188.05,993.83 204.5,988.43 220.95,999.22 237.4,1018.65 253.85,961.45 270.3,999.22 286.75,993.83 303.2,1010.02" fill="none" stroke="#C8CFD5" stroke-width="0.8" stroke-linejoin="round"/>
<polyline points="105.8,961.45 122.25,977.64 138.7,983.04 155.15,988.43 171.6,999.22 188.05,1004.62 204.5,993.83 220.95,988.43 237.4,966.85 253.85,983.04 270.3,993.83 286.75,999.22 303.2,988.43" fill="none" stroke="#C8CFD5" stroke-width="0.8" stroke-linejoin="round"/>
<polyline points="105.8,1006.78 122.25,999.22 138.7,1021.89 155.15,1021.89 171.6,988.43 188.05,983.04 204.5,956.06 220.95,956.06 237.4,977.64 253.85,999.22 270.3,1010.02 286.75,1004.62 303.2,1015.41" fill="none" stroke="#C8CFD5" stroke-width="0.8" stroke-linejoin="round"/>
<polyline points="105.8,993.83 122.25,999.22 138.7,988.43 155.15,999.22 171.6,1010.02 188.05,956.06 204.5,999.22 220.95,1020.81 237.4,993.83 253.85,1017.57 270.3,1010.02 286.75,988.43 303.2,999.22" fill="none" stroke="#C8CFD5" stroke-width="0.8" stroke-linejoin="round"/>
<polyline points="105.8,1001.38 122.25,997.07 138.7,1004.62 155.15,977.64 171.6,969.01 188.05,999.22 204.5,988.43 220.95,993.83 237.4,999.22 253.85,988.43 270.3,977.64 286.75,988.43 303.2,993.83" fill="none" stroke="#C8CFD5" stroke-width="0.8" stroke-linejoin="round"/>
<polygon points="105.8,996.47 108.55,999.22 105.8,1001.97 103.05,999.22" fill="#C5CCD2"/>
<polygon points="122.25,1001.87 125,1004.62 122.25,1007.37 119.5,1004.62" fill="#C5CCD2"/>
<polygon points="138.7,1012.66 141.45,1015.41 138.7,1018.16 135.95,1015.41" fill="#C5CCD2"/>
<polygon points="155.15,1015.9 157.9,1018.65 155.15,1021.4 152.4,1018.65" fill="#C5CCD2"/>
<polygon points="171.6,985.68 174.35,988.43 171.6,991.18 168.85,988.43" fill="#C5CCD2"/>
<polygon points="188.05,991.08 190.8,993.83 188.05,996.58 185.3,993.83" fill="#C5CCD2"/>
<polygon points="204.5,907.12 207.25,909.87 204.5,912.62 201.75,909.87" fill="#C5CCD2"/>
<polygon points="220.95,996.47 223.7,999.22 220.95,1001.97 218.2,999.22" fill="#C5CCD2"/>
<polygon points="237.4,1001.87 240.15,1004.62 237.4,1007.37 234.65,1004.62" fill="#C5CCD2"/>
<polygon points="253.85,1007.27 256.6,1010.02 253.85,1012.77 251.1,1010.02" fill="#C5CCD2"/>
<polygon points="270.3,996.47 273.05,999.22 270.3,1001.97 267.55,999.22" fill="#C5CCD2"/>
<polygon points="286.75,1001.87 289.5,1004.62 286.75,1007.37 284,1004.62" fill="#C5CCD2"/>
<polygon points="303.2,1007.27 305.95,1010.02 303.2,1012.77 300.45,1010.02" fill="#C5CCD2"/>
<circle cx="105.8" cy="964.69" r="2.2" fill="#fff" stroke="#C5CCD2" stroke-width="0.8"/>
<path d="M103.6,964.69 A2.2,2.2 0 0 1 108,964.69 Z" fill="#C5CCD2"/>
<circle cx="122.25" cy="972.24" r="2.2" fill="#fff" stroke="#C5CCD2" stroke-width="0.8"/>
<path d="M120.05,972.24 A2.2,2.2 0 0 1 124.45,972.24 Z" fill="#C5CCD2"/>
<circle cx="138.7" cy="988.43" r="2.2" fill="#fff" stroke="#C5CCD2" stroke-width="0.8"/>
<path d="M136.5,988.43 A2.2,2.2 0 0 1 140.9,988.43 Z" fill="#C5CCD2"/>
<circle cx="155.15" cy="977.64" r="2.2" fill="#fff" stroke="#C5CCD2" stroke-width="0.8"/>
<path d="M152.95,977.64 A2.2,2.2 0 0 1 157.35,977.64 Z" fill="#C5CCD2"/>
<circle cx="171.6" cy="999.22" r="2.2" fill="#fff" stroke="#C5CCD2" stroke-width="0.8"/>
<path d="M169.4,999.22 A2.2,2.2 0 0 1 173.8,999.22 Z" fill="#C5CCD2"/>
<circle cx="188.05" cy="925.3" r="2.2" fill="#fff" stroke="#C5CCD2" stroke-width="0.8"/>
<path d="M185.85,925.3 A2.2,2.2 0 0 1 190.25,925.3 Z" fill="#C5CCD2"/>
<circle cx="204.5" cy="966.85" r="2.2" fill="#fff" stroke="#C5CCD2" stroke-width="0.8"/>
<path d="M202.3,966.85 A2.2,2.2 0 0 1 206.7,966.85 Z" fill="#C5CCD2"/>
<circle cx="220.95" cy="961.45" r="2.2" fill="#fff" stroke="#C5CCD2" stroke-width="0.8"/>
<path d="M218.75,961.45 A2.2,2.2 0 0 1 223.15,961.45 Z" fill="#C5CCD2"/>
<circle cx="237.4" cy="983.04" r="2.2" fill="#fff" stroke="#C5CCD2" stroke-width="0.8"/>
<path d="M235.2,983.04 A2.2,2.2 0 0 1 239.6,983.04 Z" fill="#C5CCD2"/>
<circle cx="253.85" cy="993.83" r="2.2" fill="#fff" stroke="#C5CCD2" stroke-width="0.8"/>
<path d="M251.65,993.83 A2.2,2.2 0 0 1 256.05,993.83 Z" fill="#C5CCD2"/>
<circle cx="270.3" cy="988.43" r="2.2" fill="#fff" stroke="#C5CCD2" stroke-width="0.8"/>
<path d="M268.1,988.43 A2.2,2.2 0 0 1 272.5,988.43 Z" fill="#C5CCD2"/>
<circle cx="286.75" cy="999.22" r="2.2" fill="#fff" stroke="#C5CCD2" stroke-width="0.8"/>
<path d="M284.55,999.22 A2.2,2.2 0 0 1 288.95,999.22 Z" fill="#C5CCD2"/>
<circle cx="303.2" cy="993.83" r="2.2" fill="#fff" stroke="#C5CCD2" stroke-width="0.8"/>
<path d="M301,993.83 A2.2,2.2 0 0 1 305.4,993.83 Z" fill="#C5CCD2"/>
<rect x="103.6" y="975.44" width="4.4" height="4.4" fill="#C5CCD2"/>
<rect x="120.05" y="980.84" width="4.4" height="4.4" fill="#C5CCD2"/>
<rect x="136.5" y="991.63" width="4.4" height="4.4" fill="#C5CCD2"/>
<rect x="152.95" y="997.02" width="4.4" height="4.4" fill="#C5CCD2"/>
<rect x="169.4" y="970.04" width="4.4" height="4.4" fill="#C5CCD2"/>
<rect x="185.85" y="986.23" width="4.4" height="4.4" fill="#C5CCD2"/>
<rect x="202.3" y="975.44" width="4.4" height="4.4" fill="#C5CCD2"/>
<rect x="218.75" y="932.06" width="4.4" height="4.4" fill="#C5CCD2"/>
<rect x="235.2" y="986.23" width="4.4" height="4.4" fill="#C5CCD2"/>
<rect x="251.65" y="975.44" width="4.4" height="4.4" fill="#C5CCD2"/>
<rect x="268.1" y="997.02" width="4.4" height="4.4" fill="#C5CCD2"/>
<rect x="284.55" y="991.63" width="4.4" height="4.4" fill="#C5CCD2"/>
<rect x="301" y="986.23" width="4.4" height="4.4" fill="#C5CCD2"/>
<rect x="103.6" y="986.23" width="4.4" height="4.4" fill="#fff" stroke="#C5CCD2" stroke-width="0.8"/>
<rect x="120.05" y="980.84" width="4.4" height="4.4" fill="#fff" stroke="#C5CCD2" stroke-width="0.8"/>
<rect x="136.5" y="997.02" width="4.4" height="4.4" fill="#fff" stroke="#C5CCD2" stroke-width="0.8"/>
<rect x="152.95" y="1002.42" width="4.4" height="4.4" fill="#fff" stroke="#C5CCD2" stroke-width="0.8"/>
<rect x="169.4" y="1007.82" width="4.4" height="4.4" fill="#fff" stroke="#C5CCD2" stroke-width="0.8"/>
<rect x="185.85" y="1013.21" width="4.4" height="4.4" fill="#fff" stroke="#C5CCD2" stroke-width="0.8"/>
<rect x="202.3" y="991.63" width="4.4" height="4.4" fill="#fff" stroke="#C5CCD2" stroke-width="0.8"/>
<rect x="218.75" y="980.84" width="4.4" height="4.4" fill="#fff" stroke="#C5CCD2" stroke-width="0.8"/>
<rect x="235.2" y="935.29" width="4.4" height="4.4" fill="#fff" stroke="#C5CCD2" stroke-width="0.8"/>
<rect x="251.65" y="986.23" width="4.4" height="4.4" fill="#fff" stroke="#C5CCD2" stroke-width="0.8"/>
<rect x="268.1" y="952.02" width="4.4" height="4.4" fill="#fff" stroke="#C5CCD2" stroke-width="0.8"/>
<rect x="284.55" y="975.44" width="4.4" height="4.4" fill="#fff" stroke="#C5CCD2" stroke-width="0.8"/>
<rect x="301" y="997.02" width="4.4" height="4.4" fill="#fff" stroke="#C5CCD2" stroke-width="0.8"/>
<circle cx="105.8" cy="983.04" r="2.2" fill="#C5CCD2"/>
<circle cx="122.25" cy="988.43" r="2.2" fill="#C5CCD2"/>
<circle cx="138.7" cy="943.11" r="2.2" fill="#C5CCD2"/>
<circle cx="155.15" cy="954.22" r="2.2" fill="#C5CCD2"/>
<circle cx="171.6" cy="988.43" r="2.2" fill="#C5CCD2"/>
<circle cx="188.05" cy="977.64" r="2.2" fill="#C5CCD2"/>
<circle cx="204.5" cy="966.85" r="2.2" fill="#C5CCD2"/>
<circle cx="220.95" cy="972.24" r="2.2" fill="#C5CCD2"/>
<circle cx="237.4" cy="988.43" r="2.2" fill="#C5CCD2"/>
<circle cx="253.85" cy="999.22" r="2.2" fill="#C5CCD2"/>
<circle cx="270.3" cy="983.04" r="2.2" fill="#C5CCD2"/>
<circle cx="286.75" cy="945.26" r="2.2" fill="#C5CCD2"/>
<circle cx="303.2" cy="1004.62" r="2.2" fill="#C5CCD2"/>
<polygon points="105.8,1011.69 108.33,1016.09 103.27,1016.09" fill="#C5CCD2"/>
<polygon points="122.25,1011.69 124.78,1016.09 119.72,1016.09" fill="#C5CCD2"/>
<polygon points="138.7,996.58 141.23,1000.98 136.17,1000.98" fill="#C5CCD2"/>
<polygon points="155.15,1007.38 157.68,1011.78 152.62,1011.78" fill="#C5CCD2"/>
<polygon points="171.6,996.58 174.13,1000.98 169.07,1000.98" fill="#C5CCD2"/>
<polygon points="188.05,991.19 190.58,995.59 185.52,995.59" fill="#C5CCD2"/>
<polygon points="204.5,985.79 207.03,990.19 201.97,990.19" fill="#C5CCD2"/>
<polygon points="220.95,996.58 223.48,1000.98 218.42,1000.98" fill="#C5CCD2"/>
<polygon points="237.4,1016.01 239.93,1020.41 234.87,1020.41" fill="#C5CCD2"/>
<polygon points="253.85,958.81 256.38,963.21 251.32,963.21" fill="#C5CCD2"/>
<polygon points="270.3,996.58 272.83,1000.98 267.77,1000.98" fill="#C5CCD2"/>
<polygon points="286.75,991.19 289.28,995.59 284.22,995.59" fill="#C5CCD2"/>
<polygon points="303.2,1007.38 305.73,1011.78 300.67,1011.78" fill="#C5CCD2"/>
<polygon points="105.8,958.81 108.33,963.21 103.27,963.21" fill="#fff" stroke="#C5CCD2" stroke-width="0.8"/>
<polygon points="122.25,975 124.78,979.4 119.72,979.4" fill="#fff" stroke="#C5CCD2" stroke-width="0.8"/>
<polygon points="138.7,980.4 141.23,984.8 136.17,984.8" fill="#fff" stroke="#C5CCD2" stroke-width="0.8"/>
<polygon points="155.15,985.79 157.68,990.19 152.62,990.19" fill="#fff" stroke="#C5CCD2" stroke-width="0.8"/>
<polygon points="171.6,996.58 174.13,1000.98 169.07,1000.98" fill="#fff" stroke="#C5CCD2" stroke-width="0.8"/>
<polygon points="188.05,1001.98 190.58,1006.38 185.52,1006.38" fill="#fff" stroke="#C5CCD2" stroke-width="0.8"/>
<polygon points="204.5,991.19 207.03,995.59 201.97,995.59" fill="#fff" stroke="#C5CCD2" stroke-width="0.8"/>
<polygon points="220.95,985.79 223.48,990.19 218.42,990.19" fill="#fff" stroke="#C5CCD2" stroke-width="0.8"/>
<polygon points="237.4,964.21 239.93,968.61 234.87,968.61" fill="#fff" stroke="#C5CCD2" stroke-width="0.8"/>
<polygon points="253.85,980.4 256.38,984.8 251.32,984.8" fill="#fff" stroke="#C5CCD2" stroke-width="0.8"/>
<polygon points="270.3,991.19 272.83,995.59 267.77,995.59" fill="#fff" stroke="#C5CCD2" stroke-width="0.8"/>
<polygon points="286.75,996.58 289.28,1000.98 284.22,1000.98" fill="#fff" stroke="#C5CCD2" stroke-width="0.8"/>
<polygon points="303.2,985.79 305.73,990.19 300.67,990.19" fill="#fff" stroke="#C5CCD2" stroke-width="0.8"/>
<circle cx="105.8" cy="1006.78" r="1.87" fill="#C5CCD2"/>
<circle cx="122.25" cy="999.22" r="1.87" fill="#C5CCD2"/>
<circle cx="138.7" cy="1021.89" r="1.87" fill="#C5CCD2"/>
<circle cx="155.15" cy="1021.89" r="1.87" fill="#C5CCD2"/>
<circle cx="171.6" cy="988.43" r="1.87" fill="#C5CCD2"/>
<circle cx="188.05" cy="983.04" r="1.87" fill="#C5CCD2"/>
<circle cx="204.5" cy="956.06" r="1.87" fill="#C5CCD2"/>
<circle cx="220.95" cy="956.06" r="1.87" fill="#C5CCD2"/>
<circle cx="237.4" cy="977.64" r="1.87" fill="#C5CCD2"/>
<circle cx="253.85" cy="999.22" r="1.87" fill="#C5CCD2"/>
<circle cx="270.3" cy="1010.02" r="1.87" fill="#C5CCD2"/>
<circle cx="286.75" cy="1004.62" r="1.87" fill="#C5CCD2"/>
<circle cx="303.2" cy="1015.41" r="1.87" fill="#C5CCD2"/>
<polygon points="105.8,991.08 108.55,993.83 105.8,996.58 103.05,993.83" fill="#fff" stroke="#C5CCD2" stroke-width="0.8"/>
<polygon points="122.25,996.47 125,999.22 122.25,1001.97 119.5,999.22" fill="#fff" stroke="#C5CCD2" stroke-width="0.8"/>
<polygon points="138.7,985.68 141.45,988.43 138.7,991.18 135.95,988.43" fill="#fff" stroke="#C5CCD2" stroke-width="0.8"/>
<polygon points="155.15,996.47 157.9,999.22 155.15,1001.97 152.4,999.22" fill="#fff" stroke="#C5CCD2" stroke-width="0.8"/>
<polygon points="171.6,1007.27 174.35,1010.02 171.6,1012.77 168.85,1010.02" fill="#fff" stroke="#C5CCD2" stroke-width="0.8"/>
<polygon points="188.05,953.31 190.8,956.06 188.05,958.81 185.3,956.06" fill="#fff" stroke="#C5CCD2" stroke-width="0.8"/>
<polygon points="204.5,996.47 207.25,999.22 204.5,1001.97 201.75,999.22" fill="#fff" stroke="#C5CCD2" stroke-width="0.8"/>
<polygon points="220.95,1018.06 223.7,1020.81 220.95,1023.56 218.2,1020.81" fill="#fff" stroke="#C5CCD2" stroke-width="0.8"/>
<polygon points="237.4,991.08 240.15,993.83 237.4,996.58 234.65,993.83" fill="#fff" stroke="#C5CCD2" stroke-width="0.8"/>
<polygon points="253.85,1014.82 256.6,1017.57 253.85,1020.32 251.1,1017.57" fill="#fff" stroke="#C5CCD2" stroke-width="0.8"/>
<polygon points="270.3,1007.27 273.05,1010.02 270.3,1012.77 267.55,1010.02" fill="#fff" stroke="#C5CCD2" stroke-width="0.8"/>
<polygon points="286.75,985.68 289.5,988.43 286.75,991.18 284,988.43" fill="#fff" stroke="#C5CCD2" stroke-width="0.8"/>
<polygon points="303.2,996.47 305.95,999.22 303.2,1001.97 300.45,999.22" fill="#fff" stroke="#C5CCD2" stroke-width="0.8"/>
<circle cx="105.8" cy="1001.38" r="2.2" fill="#fff" stroke="#C5CCD2" stroke-width="0.8"/>
<circle cx="122.25" cy="997.07" r="2.2" fill="#fff" stroke="#C5CCD2" stroke-width="0.8"/>
<circle cx="138.7" cy="1004.62" r="2.2" fill="#fff" stroke="#C5CCD2" stroke-width="0.8"/>
<circle cx="155.15" cy="977.64" r="2.2" fill="#fff" stroke="#C5CCD2" stroke-width="0.8"/>
<circle cx="171.6" cy="969.01" r="2.2" fill="#fff" stroke="#C5CCD2" stroke-width="0.8"/>
<circle cx="188.05" cy="999.22" r="2.2" fill="#fff" stroke="#C5CCD2" stroke-width="0.8"/>
<circle cx="204.5" cy="988.43" r="2.2" fill="#fff" stroke="#C5CCD2" stroke-width="0.8"/>
<circle cx="220.95" cy="993.83" r="2.2" fill="#fff" stroke="#C5CCD2" stroke-width="0.8"/>
<circle cx="237.4" cy="999.22" r="2.2" fill="#fff" stroke="#C5CCD2" stroke-width="0.8"/>
<circle cx="253.85" cy="988.43" r="2.2" fill="#fff" stroke="#C5CCD2" stroke-width="0.8"/>
<circle cx="270.3" cy="977.64" r="2.2" fill="#fff" stroke="#C5CCD2" stroke-width="0.8"/>
<circle cx="286.75" cy="988.43" r="2.2" fill="#fff" stroke="#C5CCD2" stroke-width="0.8"/>
<circle cx="303.2" cy="993.83" r="2.2" fill="#fff" stroke="#C5CCD2" stroke-width="0.8"/>
<line x1="105.8" y1="975.05" x2="105.8" y2="1000.84" stroke="#108E4E" stroke-width="1.5"/>
<line x1="102.8" y1="975.05" x2="108.8" y2="975.05" stroke="#108E4E" stroke-width="1.5"/>
<line x1="102.8" y1="1000.84" x2="108.8" y2="1000.84" stroke="#108E4E" stroke-width="1.5"/>
<line x1="122.25" y1="979.26" x2="122.25" y2="1003.54" stroke="#108E4E" stroke-width="1.5"/>
<line x1="119.25" y1="979.26" x2="125.25" y2="979.26" stroke="#108E4E" stroke-width="1.5"/>
<line x1="119.25" y1="1003.54" x2="125.25" y2="1003.54" stroke="#108E4E" stroke-width="1.5"/>
<line x1="138.7" y1="979.8" x2="138.7" y2="1006.78" stroke="#108E4E" stroke-width="1.5"/>
<line x1="135.7" y1="979.8" x2="141.7" y2="979.8" stroke="#108E4E" stroke-width="1.5"/>
<line x1="135.7" y1="1006.78" x2="141.7" y2="1006.78" stroke="#108E4E" stroke-width="1.5"/>
<line x1="155.15" y1="997.07" x2="155.15" y2="1015.95" stroke="#108E4E" stroke-width="1.5"/>
<line x1="152.15" y1="997.07" x2="158.15" y2="997.07" stroke="#108E4E" stroke-width="1.5"/>
<line x1="152.15" y1="1015.95" x2="158.15" y2="1015.95" stroke="#108E4E" stroke-width="1.5"/>
<line x1="171.6" y1="990.59" x2="171.6" y2="1021.02" stroke="#108E4E" stroke-width="1.5"/>
<line x1="168.6" y1="990.59" x2="174.6" y2="990.59" stroke="#108E4E" stroke-width="1.5"/>
<line x1="168.6" y1="1021.02" x2="174.6" y2="1021.02" stroke="#108E4E" stroke-width="1.5"/>
<line x1="188.05" y1="988.43" x2="188.05" y2="1012.17" stroke="#108E4E" stroke-width="1.5"/>
<line x1="185.05" y1="988.43" x2="191.05" y2="988.43" stroke="#108E4E" stroke-width="1.5"/>
<line x1="185.05" y1="1012.17" x2="191.05" y2="1012.17" stroke="#108E4E" stroke-width="1.5"/>
<line x1="204.5" y1="981.96" x2="204.5" y2="995.99" stroke="#108E4E" stroke-width="1.5"/>
<line x1="201.5" y1="981.96" x2="207.5" y2="981.96" stroke="#108E4E" stroke-width="1.5"/>
<line x1="201.5" y1="995.99" x2="207.5" y2="995.99" stroke="#108E4E" stroke-width="1.5"/>
<line x1="220.95" y1="985.19" x2="220.95" y2="997.17" stroke="#108E4E" stroke-width="1.5"/>
<line x1="217.95" y1="985.19" x2="223.95" y2="985.19" stroke="#108E4E" stroke-width="1.5"/>
<line x1="217.95" y1="997.17" x2="223.95" y2="997.17" stroke="#108E4E" stroke-width="1.5"/>
<line x1="237.4" y1="941.16" x2="237.4" y2="1012.07" stroke="#108E4E" stroke-width="1.5"/>
<line x1="234.4" y1="941.16" x2="240.4" y2="941.16" stroke="#108E4E" stroke-width="1.5"/>
<line x1="234.4" y1="1012.07" x2="240.4" y2="1012.07" stroke="#108E4E" stroke-width="1.5"/>
<line x1="253.85" y1="984.98" x2="253.85" y2="1005.16" stroke="#108E4E" stroke-width="1.5"/>
<line x1="250.85" y1="984.98" x2="256.85" y2="984.98" stroke="#108E4E" stroke-width="1.5"/>
<line x1="250.85" y1="1005.16" x2="256.85" y2="1005.16" stroke="#108E4E" stroke-width="1.5"/>
<line x1="270.3" y1="959.62" x2="270.3" y2="1020.92" stroke="#108E4E" stroke-width="1.5"/>
<line x1="267.3" y1="959.62" x2="273.3" y2="959.62" stroke="#108E4E" stroke-width="1.5"/>
<line x1="267.3" y1="1020.92" x2="273.3" y2="1020.92" stroke="#108E4E" stroke-width="1.5"/>
<line x1="286.75" y1="960.37" x2="286.75" y2="1004.62" stroke="#108E4E" stroke-width="1.5"/>
<line x1="283.75" y1="960.37" x2="289.75" y2="960.37" stroke="#108E4E" stroke-width="1.5"/>
<line x1="283.75" y1="1004.62" x2="289.75" y2="1004.62" stroke="#108E4E" stroke-width="1.5"/>
<line x1="303.2" y1="989.73" x2="303.2" y2="1020.05" stroke="#108E4E" stroke-width="1.5"/>
<line x1="300.2" y1="989.73" x2="306.2" y2="989.73" stroke="#108E4E" stroke-width="1.5"/>
<line x1="300.2" y1="1020.05" x2="306.2" y2="1020.05" stroke="#108E4E" stroke-width="1.5"/>
<polyline points="105.8,988 122.25,991.24 138.7,992.21 155.15,1007.21 171.6,1003.97 188.05,1000.84 204.5,989.3 220.95,991.13 237.4,978.83 253.85,991.13 270.3,991.99 286.75,984.98 303.2,999.98" fill="none" stroke="#108E4E" stroke-width="1.55" stroke-linejoin="round" stroke-dasharray="4.5,2.5"/>
<circle cx="105.8" cy="988" r="1.0" fill="#108E4E"/>
<circle cx="122.25" cy="991.24" r="1.0" fill="#108E4E"/>
<circle cx="138.7" cy="992.21" r="1.0" fill="#108E4E"/>
<circle cx="155.15" cy="1007.21" r="1.0" fill="#108E4E"/>
<circle cx="171.6" cy="1003.97" r="1.0" fill="#108E4E"/>
<circle cx="188.05" cy="1000.84" r="1.0" fill="#108E4E"/>
<circle cx="204.5" cy="989.3" r="1.0" fill="#108E4E"/>
<circle cx="220.95" cy="991.13" r="1.0" fill="#108E4E"/>
<circle cx="237.4" cy="978.83" r="1.0" fill="#108E4E"/>
<circle cx="253.85" cy="991.13" r="1.0" fill="#108E4E"/>
<circle cx="270.3" cy="991.99" r="1.0" fill="#108E4E"/>
<circle cx="286.75" cy="984.98" r="1.0" fill="#108E4E"/>
<circle cx="303.2" cy="999.98" r="1.0" fill="#108E4E"/>
<line x1="105.8" y1="981.53" x2="105.8" y2="1000.84" stroke="#246A85" stroke-width="1.5"/>
<line x1="102.8" y1="981.53" x2="108.8" y2="981.53" stroke="#246A85" stroke-width="1.5"/>
<line x1="102.8" y1="1000.84" x2="108.8" y2="1000.84" stroke="#246A85" stroke-width="1.5"/>
<line x1="122.25" y1="985.19" x2="122.25" y2="1003.54" stroke="#246A85" stroke-width="1.5"/>
<line x1="119.25" y1="985.19" x2="125.25" y2="985.19" stroke="#246A85" stroke-width="1.5"/>
<line x1="119.25" y1="1003.54" x2="125.25" y2="1003.54" stroke="#246A85" stroke-width="1.5"/>
<line x1="138.7" y1="984.12" x2="138.7" y2="1005.7" stroke="#246A85" stroke-width="1.5"/>
<line x1="135.7" y1="984.12" x2="141.7" y2="984.12" stroke="#246A85" stroke-width="1.5"/>
<line x1="135.7" y1="1005.7" x2="141.7" y2="1005.7" stroke="#246A85" stroke-width="1.5"/>
<line x1="155.15" y1="988.86" x2="155.15" y2="1010.34" stroke="#246A85" stroke-width="1.5"/>
<line x1="152.15" y1="988.86" x2="158.15" y2="988.86" stroke="#246A85" stroke-width="1.5"/>
<line x1="152.15" y1="1010.34" x2="158.15" y2="1010.34" stroke="#246A85" stroke-width="1.5"/>
<line x1="171.6" y1="992.75" x2="171.6" y2="1016.49" stroke="#246A85" stroke-width="1.5"/>
<line x1="168.6" y1="992.75" x2="174.6" y2="992.75" stroke="#246A85" stroke-width="1.5"/>
<line x1="168.6" y1="1016.49" x2="174.6" y2="1016.49" stroke="#246A85" stroke-width="1.5"/>
<line x1="188.05" y1="980.55" x2="188.05" y2="1010.02" stroke="#246A85" stroke-width="1.5"/>
<line x1="185.05" y1="980.55" x2="191.05" y2="980.55" stroke="#246A85" stroke-width="1.5"/>
<line x1="185.05" y1="1010.02" x2="191.05" y2="1010.02" stroke="#246A85" stroke-width="1.5"/>
<line x1="204.5" y1="964.8" x2="204.5" y2="995.55" stroke="#246A85" stroke-width="1.5"/>
<line x1="201.5" y1="964.8" x2="207.5" y2="964.8" stroke="#246A85" stroke-width="1.5"/>
<line x1="201.5" y1="995.55" x2="207.5" y2="995.55" stroke="#246A85" stroke-width="1.5"/>
<line x1="220.95" y1="971.81" x2="220.95" y2="1003.43" stroke="#246A85" stroke-width="1.5"/>
<line x1="217.95" y1="971.81" x2="223.95" y2="971.81" stroke="#246A85" stroke-width="1.5"/>
<line x1="217.95" y1="1003.43" x2="223.95" y2="1003.43" stroke="#246A85" stroke-width="1.5"/>
<line x1="237.4" y1="977.1" x2="237.4" y2="1003.43" stroke="#246A85" stroke-width="1.5"/>
<line x1="234.4" y1="977.1" x2="240.4" y2="977.1" stroke="#246A85" stroke-width="1.5"/>
<line x1="234.4" y1="1003.43" x2="240.4" y2="1003.43" stroke="#246A85" stroke-width="1.5"/>
<line x1="253.85" y1="981.53" x2="253.85" y2="999.87" stroke="#246A85" stroke-width="1.5"/>
<line x1="250.85" y1="981.53" x2="256.85" y2="981.53" stroke="#246A85" stroke-width="1.5"/>
<line x1="250.85" y1="999.87" x2="256.85" y2="999.87" stroke="#246A85" stroke-width="1.5"/>
<line x1="270.3" y1="988.54" x2="270.3" y2="1007.75" stroke="#246A85" stroke-width="1.5"/>
<line x1="267.3" y1="988.54" x2="273.3" y2="988.54" stroke="#246A85" stroke-width="1.5"/>
<line x1="267.3" y1="1007.75" x2="273.3" y2="1007.75" stroke="#246A85" stroke-width="1.5"/>
<line x1="286.75" y1="978.83" x2="286.75" y2="1008.61" stroke="#246A85" stroke-width="1.5"/>
<line x1="283.75" y1="978.83" x2="289.75" y2="978.83" stroke="#246A85" stroke-width="1.5"/>
<line x1="283.75" y1="1008.61" x2="289.75" y2="1008.61" stroke="#246A85" stroke-width="1.5"/>
<line x1="303.2" y1="995.99" x2="303.2" y2="1010.02" stroke="#246A85" stroke-width="1.5"/>
<line x1="300.2" y1="995.99" x2="306.2" y2="995.99" stroke="#246A85" stroke-width="1.5"/>
<line x1="300.2" y1="1010.02" x2="306.2" y2="1010.02" stroke="#246A85" stroke-width="1.5"/>
<polyline points="105.8,991.24 122.25,994.37 138.7,995.34 155.15,999.76 171.6,1003.97 188.05,996.63 204.5,980.55 220.95,987.57 237.4,990.16 253.85,991.13 270.3,998.14 286.75,992.53 303.2,1003" fill="none" stroke="#246A85" stroke-width="1.55" stroke-linejoin="round"/>
<circle cx="105.8" cy="991.24" r="2.7" fill="#246A85"/>
<circle cx="122.25" cy="994.37" r="2.7" fill="#246A85"/>
<circle cx="138.7" cy="995.34" r="2.7" fill="#246A85"/>
<circle cx="155.15" cy="999.76" r="2.7" fill="#246A85"/>
<circle cx="171.6" cy="1003.97" r="2.7" fill="#246A85"/>
<circle cx="188.05" cy="996.63" r="2.7" fill="#246A85"/>
<circle cx="204.5" cy="980.55" r="2.7" fill="#246A85"/>
<circle cx="220.95" cy="987.57" r="2.7" fill="#246A85"/>
<circle cx="237.4" cy="990.16" r="2.7" fill="#246A85"/>
<circle cx="253.85" cy="991.13" r="2.7" fill="#246A85"/>
<circle cx="270.3" cy="998.14" r="2.7" fill="#246A85"/>
<circle cx="286.75" cy="992.53" r="2.7" fill="#246A85"/>
<circle cx="303.2" cy="1003" r="2.7" fill="#246A85"/>
<line x1="75.9" y1="895.95" x2="75.9" y2="1032.35" stroke="#000" stroke-width="1.6"/>
<line x1="69.4" y1="1031.6" x2="75.9" y2="1031.6" stroke="#000" stroke-width="1.5"/>
<text x="65.4" y="1035.5" font-size="9.8" text-anchor="end" fill="#000" stroke="#000" stroke-width="0.12">0</text>
<line x1="69.4" y1="1004.62" x2="75.9" y2="1004.62" stroke="#000" stroke-width="1.5"/>
<text x="65.4" y="1008.52" font-size="9.8" text-anchor="end" fill="#000" stroke="#000" stroke-width="0.12">25</text>
<line x1="69.4" y1="977.64" x2="75.9" y2="977.64" stroke="#000" stroke-width="1.5"/>
<text x="65.4" y="981.54" font-size="9.8" text-anchor="end" fill="#000" stroke="#000" stroke-width="0.12">50</text>
<line x1="69.4" y1="950.66" x2="75.9" y2="950.66" stroke="#000" stroke-width="1.5"/>
<text x="65.4" y="954.56" font-size="9.8" text-anchor="end" fill="#000" stroke="#000" stroke-width="0.12">75</text>
<line x1="69.4" y1="923.68" x2="75.9" y2="923.68" stroke="#000" stroke-width="1.5"/>
<text x="65.4" y="927.58" font-size="9.8" text-anchor="end" fill="#000" stroke="#000" stroke-width="0.12">100</text>
<line x1="69.4" y1="896.7" x2="75.9" y2="896.7" stroke="#000" stroke-width="1.5"/>
<text x="65.4" y="900.6" font-size="9.8" text-anchor="end" fill="#000" stroke="#000" stroke-width="0.12">125</text>
<line x1="72.6" y1="1018.11" x2="75.9" y2="1018.11" stroke="#000" stroke-width="1.4"/>
<line x1="72.6" y1="991.13" x2="75.9" y2="991.13" stroke="#000" stroke-width="1.4"/>
<line x1="72.6" y1="964.15" x2="75.9" y2="964.15" stroke="#000" stroke-width="1.4"/>
<line x1="72.6" y1="937.17" x2="75.9" y2="937.17" stroke="#000" stroke-width="1.4"/>
<line x1="72.6" y1="910.19" x2="75.9" y2="910.19" stroke="#000" stroke-width="1.4"/>
<line x1="98" y1="1056.5" x2="311.6" y2="1056.5" stroke="#000" stroke-width="1.6"/>
<line x1="105.8" y1="1056.5" x2="105.8" y2="1062.4" stroke="#000" stroke-width="1.4"/>
<text x="104.1" y="1075.9" font-size="9.8" text-anchor="middle" fill="#000" stroke="#000" stroke-width="0.12">-7</text>
<line x1="122.25" y1="1056.5" x2="122.25" y2="1062.4" stroke="#000" stroke-width="1.4"/>
<text x="122.05" y="1075.9" font-size="9.8" text-anchor="middle" fill="#000" stroke="#000" stroke-width="0.12">0</text>
<line x1="138.7" y1="1056.5" x2="138.7" y2="1062.4" stroke="#000" stroke-width="1.4"/>
<text x="138.5" y="1075.9" font-size="9.8" text-anchor="middle" fill="#000" stroke="#000" stroke-width="0.12">1</text>
<line x1="155.15" y1="1056.5" x2="155.15" y2="1062.4" stroke="#000" stroke-width="1.4"/>
<text x="154.95" y="1075.9" font-size="9.8" text-anchor="middle" fill="#000" stroke="#000" stroke-width="0.12">3</text>
<line x1="171.6" y1="1056.5" x2="171.6" y2="1062.4" stroke="#000" stroke-width="1.4"/>
<text x="171.4" y="1075.9" font-size="9.8" text-anchor="middle" fill="#000" stroke="#000" stroke-width="0.12">6</text>
<line x1="188.05" y1="1056.5" x2="188.05" y2="1062.4" stroke="#000" stroke-width="1.4"/>
<text x="187.85" y="1075.9" font-size="9.8" text-anchor="middle" fill="#000" stroke="#000" stroke-width="0.12">12</text>
<line x1="204.5" y1="1056.5" x2="204.5" y2="1062.4" stroke="#000" stroke-width="1.4"/>
<text x="204.3" y="1075.9" font-size="9.8" text-anchor="middle" fill="#000" stroke="#000" stroke-width="0.12">18</text>
<line x1="220.95" y1="1056.5" x2="220.95" y2="1062.4" stroke="#000" stroke-width="1.4"/>
<text x="220.75" y="1075.9" font-size="9.8" text-anchor="middle" fill="#000" stroke="#000" stroke-width="0.12">24</text>
<line x1="237.4" y1="1056.5" x2="237.4" y2="1062.4" stroke="#000" stroke-width="1.4"/>
<text x="237.2" y="1075.9" font-size="9.8" text-anchor="middle" fill="#000" stroke="#000" stroke-width="0.12">30</text>
<line x1="253.85" y1="1056.5" x2="253.85" y2="1062.4" stroke="#000" stroke-width="1.4"/>
<text x="253.65" y="1075.9" font-size="9.8" text-anchor="middle" fill="#000" stroke="#000" stroke-width="0.12">36</text>
<line x1="270.3" y1="1056.5" x2="270.3" y2="1062.4" stroke="#000" stroke-width="1.4"/>
<text x="270.1" y="1075.9" font-size="9.8" text-anchor="middle" fill="#000" stroke="#000" stroke-width="0.12">42</text>
<line x1="286.75" y1="1056.5" x2="286.75" y2="1062.4" stroke="#000" stroke-width="1.4"/>
<text x="286.55" y="1075.9" font-size="9.8" text-anchor="middle" fill="#000" stroke="#000" stroke-width="0.12">48</text>
<line x1="303.2" y1="1056.5" x2="303.2" y2="1062.4" stroke="#000" stroke-width="1.4"/>
<text x="303" y="1075.9" font-size="9.8" text-anchor="middle" fill="#000" stroke="#000" stroke-width="0.12">54</text>
<line x1="105.8" y1="1043" x2="105.8" y2="1048.5" stroke="#000" stroke-width="1.2"/>
<polygon points="102.6,1047.1 109,1047.1 105.8,1052.5" fill="#000" stroke="#000" stroke-width="0.3" stroke-linejoin="miter"/>
<line x1="122.25" y1="1043" x2="122.25" y2="1048.5" stroke="#000" stroke-width="1.2"/>
<polygon points="119.05,1047.1 125.45,1047.1 122.25,1052.5" fill="#000" stroke="#000" stroke-width="0.3" stroke-linejoin="miter"/>
<line x1="144.17" y1="1060.15" x2="149.67" y2="1052.85" stroke="#000" stroke-width="1.4"/>
<line x1="158.62" y1="1060.15" x2="164.12" y2="1052.85" stroke="#000" stroke-width="1.4"/>
<line x1="162.62" y1="1060.15" x2="168.12" y2="1052.85" stroke="#000" stroke-width="1.4"/>
<polyline points="105.8,1085 105.8,1088.3 122.25,1088.3 122.25,1085" fill="none" stroke="#000" stroke-width="1.5"/>
<polyline points="138.7,1085 138.7,1088.3 303.2,1088.3 303.2,1085" fill="none" stroke="#000" stroke-width="1.5"/>
<text x="114" y="1101.6" font-size="9.8" text-anchor="middle" fill="#000" stroke="#000" stroke-width="0.12">Day</text>
<text x="221" y="1101.6" font-size="9.8" text-anchor="middle" fill="#000" stroke="#000" stroke-width="0.12">Month</text>
<line x1="450" y1="1024.74" x2="685" y2="1024.74" stroke="#555" stroke-width="0.8" stroke-dasharray="1,1.1"/>
<polyline points="478,1022.02 494.49,1026.56 510.98,903.6 527.47,969.08 543.96,987.06 560.45,1003.86 576.94,978.07 593.43,999.32 609.92,991.6 626.41,1003.86 642.9,994.78 659.39,990.33 675.88,1008.4" fill="none" stroke="#C8CFD5" stroke-width="0.8" stroke-linejoin="round"/>
<polyline points="478,1025.65 494.49,1023.84 510.98,1003.86 527.47,1012.94 543.96,1022.02 560.45,969.08 576.94,945.38 593.43,977.53 609.92,957.28 626.41,997.96 642.9,966.9 659.39,969.08 675.88,976.53" fill="none" stroke="#C8CFD5" stroke-width="0.8" stroke-linejoin="round"/>
<polyline points="478,992.6 494.49,1017.48 510.98,904.18 527.47,998.68 543.96,994.6 560.45,1012.94 576.94,1022.02 593.43,1017.48 609.92,1012.94 626.41,1022.02 642.9,1017.48 659.39,1020.2 675.88,1022.02" fill="none" stroke="#C8CFD5" stroke-width="0.8" stroke-linejoin="round"/>
<polyline points="478,1026.56 494.49,1001.32 510.98,1012.94 527.47,1017.48 543.96,998.5 560.45,1017.48 576.94,1012.94 593.43,1022.02 609.92,1017.48 626.41,1003.86 642.9,980.71 659.39,1012.94 675.88,1017.48" fill="none" stroke="#C8CFD5" stroke-width="0.8" stroke-linejoin="round"/>
<polyline points="478,1012.94 494.49,1022.02 510.98,1003.86 527.47,1026.56 543.96,1028.38 560.45,1027.47 576.94,1025.65 593.43,1026.56 609.92,1027.47 626.41,1026.56 642.9,1025.65 659.39,1024.74 675.88,1006.58" fill="none" stroke="#C8CFD5" stroke-width="0.8" stroke-linejoin="round"/>
<polyline points="478,1017.48 494.49,1012.94 510.98,1012.94 527.47,1012.94 543.96,1017.48 560.45,1022.02 576.94,1017.48 593.43,1012.94 609.92,1008.4 626.41,1022.02 642.9,1017.48 659.39,1022.02 675.88,1020.2" fill="none" stroke="#C8CFD5" stroke-width="0.8" stroke-linejoin="round"/>
<polyline points="478,1028.38 494.49,1027.47 510.98,1026.56 527.47,1027.47 543.96,1027.47 560.45,1028.38 576.94,1028.38 593.43,1027.47 609.92,1028.38 626.41,1028.38 642.9,1028.38 659.39,1028.38 675.88,1028.38" fill="none" stroke="#C8CFD5" stroke-width="0.8" stroke-linejoin="round"/>
<polyline points="478,1023.84 494.49,1022.93 510.98,1017.48 527.47,1003.86 543.96,994.78 560.45,1010.22 576.94,1017.48 593.43,1022.02 609.92,1020.2 626.41,1012.94 642.9,1017.48 659.39,1012.94 675.88,1014.76" fill="none" stroke="#C8CFD5" stroke-width="0.8" stroke-linejoin="round"/>
<polyline points="478,1026.56 494.49,1025.65 510.98,1022.02 527.47,1023.84 543.96,1025.65 560.45,1026.56 576.94,1025.65 593.43,1023.84 609.92,1026.56 626.41,1027.47 642.9,1026.56 659.39,1025.65 675.88,1026.56" fill="none" stroke="#C8CFD5" stroke-width="0.8" stroke-linejoin="round"/>
<circle cx="478" cy="1022.02" r="2.2" fill="#C5CCD2"/>
<circle cx="494.49" cy="1026.56" r="2.2" fill="#C5CCD2"/>
<circle cx="510.98" cy="903.6" r="2.2" fill="#C5CCD2"/>
<circle cx="527.47" cy="969.08" r="2.2" fill="#C5CCD2"/>
<circle cx="543.96" cy="987.06" r="2.2" fill="#C5CCD2"/>
<circle cx="560.45" cy="1003.86" r="2.2" fill="#C5CCD2"/>
<circle cx="576.94" cy="978.07" r="2.2" fill="#C5CCD2"/>
<circle cx="593.43" cy="999.32" r="2.2" fill="#C5CCD2"/>
<circle cx="609.92" cy="991.6" r="2.2" fill="#C5CCD2"/>
<circle cx="626.41" cy="1003.86" r="2.2" fill="#C5CCD2"/>
<circle cx="642.9" cy="994.78" r="2.2" fill="#C5CCD2"/>
<circle cx="659.39" cy="990.33" r="2.2" fill="#C5CCD2"/>
<circle cx="675.88" cy="1008.4" r="2.2" fill="#C5CCD2"/>
<circle cx="478" cy="1025.65" r="2.2" fill="#fff" stroke="#C5CCD2" stroke-width="0.8"/>
<circle cx="494.49" cy="1023.84" r="2.2" fill="#fff" stroke="#C5CCD2" stroke-width="0.8"/>
<circle cx="510.98" cy="1003.86" r="2.2" fill="#fff" stroke="#C5CCD2" stroke-width="0.8"/>
<circle cx="527.47" cy="1012.94" r="2.2" fill="#fff" stroke="#C5CCD2" stroke-width="0.8"/>
<circle cx="543.96" cy="1022.02" r="2.2" fill="#fff" stroke="#C5CCD2" stroke-width="0.8"/>
<circle cx="560.45" cy="969.08" r="2.2" fill="#fff" stroke="#C5CCD2" stroke-width="0.8"/>
<circle cx="576.94" cy="945.38" r="2.2" fill="#fff" stroke="#C5CCD2" stroke-width="0.8"/>
<circle cx="593.43" cy="977.53" r="2.2" fill="#fff" stroke="#C5CCD2" stroke-width="0.8"/>
<circle cx="609.92" cy="957.28" r="2.2" fill="#fff" stroke="#C5CCD2" stroke-width="0.8"/>
<circle cx="626.41" cy="997.96" r="2.2" fill="#fff" stroke="#C5CCD2" stroke-width="0.8"/>
<circle cx="642.9" cy="966.9" r="2.2" fill="#fff" stroke="#C5CCD2" stroke-width="0.8"/>
<circle cx="659.39" cy="969.08" r="2.2" fill="#fff" stroke="#C5CCD2" stroke-width="0.8"/>
<circle cx="675.88" cy="976.53" r="2.2" fill="#fff" stroke="#C5CCD2" stroke-width="0.8"/>
<polygon points="478,989.85 480.75,992.6 478,995.35 475.25,992.6" fill="#fff" stroke="#C5CCD2" stroke-width="0.8"/>
<polygon points="494.49,1014.73 497.24,1017.48 494.49,1020.23 491.74,1017.48" fill="#fff" stroke="#C5CCD2" stroke-width="0.8"/>
<polygon points="510.98,901.43 513.73,904.18 510.98,906.93 508.23,904.18" fill="#fff" stroke="#C5CCD2" stroke-width="0.8"/>
<polygon points="527.47,995.93 530.22,998.68 527.47,1001.43 524.72,998.68" fill="#fff" stroke="#C5CCD2" stroke-width="0.8"/>
<polygon points="543.96,991.85 546.71,994.6 543.96,997.35 541.21,994.6" fill="#fff" stroke="#C5CCD2" stroke-width="0.8"/>
<polygon points="560.45,1010.19 563.2,1012.94 560.45,1015.69 557.7,1012.94" fill="#fff" stroke="#C5CCD2" stroke-width="0.8"/>
<polygon points="576.94,1019.27 579.69,1022.02 576.94,1024.77 574.19,1022.02" fill="#fff" stroke="#C5CCD2" stroke-width="0.8"/>
<polygon points="593.43,1014.73 596.18,1017.48 593.43,1020.23 590.68,1017.48" fill="#fff" stroke="#C5CCD2" stroke-width="0.8"/>
<polygon points="609.92,1010.19 612.67,1012.94 609.92,1015.69 607.17,1012.94" fill="#fff" stroke="#C5CCD2" stroke-width="0.8"/>
<polygon points="626.41,1019.27 629.16,1022.02 626.41,1024.77 623.66,1022.02" fill="#fff" stroke="#C5CCD2" stroke-width="0.8"/>
<polygon points="642.9,1014.73 645.65,1017.48 642.9,1020.23 640.15,1017.48" fill="#fff" stroke="#C5CCD2" stroke-width="0.8"/>
<polygon points="659.39,1017.45 662.14,1020.2 659.39,1022.95 656.64,1020.2" fill="#fff" stroke="#C5CCD2" stroke-width="0.8"/>
<polygon points="675.88,1019.27 678.63,1022.02 675.88,1024.77 673.13,1022.02" fill="#fff" stroke="#C5CCD2" stroke-width="0.8"/>
<polygon points="478,1023.92 480.53,1028.32 475.47,1028.32" fill="#C5CCD2"/>
<polygon points="494.49,998.68 497.02,1003.08 491.96,1003.08" fill="#C5CCD2"/>
<polygon points="510.98,1010.3 513.51,1014.7 508.45,1014.7" fill="#C5CCD2"/>
<polygon points="527.47,1014.84 530,1019.24 524.94,1019.24" fill="#C5CCD2"/>
<polygon points="543.96,995.86 546.49,1000.26 541.43,1000.26" fill="#C5CCD2"/>
<polygon points="560.45,1014.84 562.98,1019.24 557.92,1019.24" fill="#C5CCD2"/>
<polygon points="576.94,1010.3 579.47,1014.7 574.41,1014.7" fill="#C5CCD2"/>
<polygon points="593.43,1019.38 595.96,1023.78 590.9,1023.78" fill="#C5CCD2"/>
<polygon points="609.92,1014.84 612.45,1019.24 607.39,1019.24" fill="#C5CCD2"/>
<polygon points="626.41,1001.22 628.94,1005.62 623.88,1005.62" fill="#C5CCD2"/>
<polygon points="642.9,978.07 645.43,982.47 640.37,982.47" fill="#C5CCD2"/>
<polygon points="659.39,1010.3 661.92,1014.7 656.86,1014.7" fill="#C5CCD2"/>
<polygon points="675.88,1014.84 678.41,1019.24 673.35,1019.24" fill="#C5CCD2"/>
<rect x="475.8" y="1010.74" width="4.4" height="4.4" fill="#C5CCD2"/>
<rect x="492.29" y="1019.82" width="4.4" height="4.4" fill="#C5CCD2"/>
<rect x="508.78" y="1001.66" width="4.4" height="4.4" fill="#C5CCD2"/>
<rect x="525.27" y="1024.36" width="4.4" height="4.4" fill="#C5CCD2"/>
<rect x="541.76" y="1026.18" width="4.4" height="4.4" fill="#C5CCD2"/>
<rect x="558.25" y="1025.27" width="4.4" height="4.4" fill="#C5CCD2"/>
<rect x="574.74" y="1023.45" width="4.4" height="4.4" fill="#C5CCD2"/>
<rect x="591.23" y="1024.36" width="4.4" height="4.4" fill="#C5CCD2"/>
<rect x="607.72" y="1025.27" width="4.4" height="4.4" fill="#C5CCD2"/>
<rect x="624.21" y="1024.36" width="4.4" height="4.4" fill="#C5CCD2"/>
<rect x="640.7" y="1023.45" width="4.4" height="4.4" fill="#C5CCD2"/>
<rect x="657.19" y="1022.54" width="4.4" height="4.4" fill="#C5CCD2"/>
<rect x="673.68" y="1004.38" width="4.4" height="4.4" fill="#C5CCD2"/>
<circle cx="478" cy="1017.48" r="2.2" fill="#fff" stroke="#C5CCD2" stroke-width="0.8"/>
<path d="M475.8,1017.48 A2.2,2.2 0 0 1 480.2,1017.48 Z" fill="#C5CCD2"/>
<circle cx="494.49" cy="1012.94" r="2.2" fill="#fff" stroke="#C5CCD2" stroke-width="0.8"/>
<path d="M492.29,1012.94 A2.2,2.2 0 0 1 496.69,1012.94 Z" fill="#C5CCD2"/>
<circle cx="510.98" cy="1012.94" r="2.2" fill="#fff" stroke="#C5CCD2" stroke-width="0.8"/>
<path d="M508.78,1012.94 A2.2,2.2 0 0 1 513.18,1012.94 Z" fill="#C5CCD2"/>
<circle cx="527.47" cy="1012.94" r="2.2" fill="#fff" stroke="#C5CCD2" stroke-width="0.8"/>
<path d="M525.27,1012.94 A2.2,2.2 0 0 1 529.67,1012.94 Z" fill="#C5CCD2"/>
<circle cx="543.96" cy="1017.48" r="2.2" fill="#fff" stroke="#C5CCD2" stroke-width="0.8"/>
<path d="M541.76,1017.48 A2.2,2.2 0 0 1 546.16,1017.48 Z" fill="#C5CCD2"/>
<circle cx="560.45" cy="1022.02" r="2.2" fill="#fff" stroke="#C5CCD2" stroke-width="0.8"/>
<path d="M558.25,1022.02 A2.2,2.2 0 0 1 562.65,1022.02 Z" fill="#C5CCD2"/>
<circle cx="576.94" cy="1017.48" r="2.2" fill="#fff" stroke="#C5CCD2" stroke-width="0.8"/>
<path d="M574.74,1017.48 A2.2,2.2 0 0 1 579.14,1017.48 Z" fill="#C5CCD2"/>
<circle cx="593.43" cy="1012.94" r="2.2" fill="#fff" stroke="#C5CCD2" stroke-width="0.8"/>
<path d="M591.23,1012.94 A2.2,2.2 0 0 1 595.63,1012.94 Z" fill="#C5CCD2"/>
<circle cx="609.92" cy="1008.4" r="2.2" fill="#fff" stroke="#C5CCD2" stroke-width="0.8"/>
<path d="M607.72,1008.4 A2.2,2.2 0 0 1 612.12,1008.4 Z" fill="#C5CCD2"/>
<circle cx="626.41" cy="1022.02" r="2.2" fill="#fff" stroke="#C5CCD2" stroke-width="0.8"/>
<path d="M624.21,1022.02 A2.2,2.2 0 0 1 628.61,1022.02 Z" fill="#C5CCD2"/>
<circle cx="642.9" cy="1017.48" r="2.2" fill="#fff" stroke="#C5CCD2" stroke-width="0.8"/>
<path d="M640.7,1017.48 A2.2,2.2 0 0 1 645.1,1017.48 Z" fill="#C5CCD2"/>
<circle cx="659.39" cy="1022.02" r="2.2" fill="#fff" stroke="#C5CCD2" stroke-width="0.8"/>
<path d="M657.19,1022.02 A2.2,2.2 0 0 1 661.59,1022.02 Z" fill="#C5CCD2"/>
<circle cx="675.88" cy="1020.2" r="2.2" fill="#fff" stroke="#C5CCD2" stroke-width="0.8"/>
<path d="M673.68,1020.2 A2.2,2.2 0 0 1 678.08,1020.2 Z" fill="#C5CCD2"/>
<rect x="475.8" y="1026.18" width="4.4" height="4.4" fill="#fff" stroke="#C5CCD2" stroke-width="0.8"/>
<rect x="492.29" y="1025.27" width="4.4" height="4.4" fill="#fff" stroke="#C5CCD2" stroke-width="0.8"/>
<rect x="508.78" y="1024.36" width="4.4" height="4.4" fill="#fff" stroke="#C5CCD2" stroke-width="0.8"/>
<rect x="525.27" y="1025.27" width="4.4" height="4.4" fill="#fff" stroke="#C5CCD2" stroke-width="0.8"/>
<rect x="541.76" y="1025.27" width="4.4" height="4.4" fill="#fff" stroke="#C5CCD2" stroke-width="0.8"/>
<rect x="558.25" y="1026.18" width="4.4" height="4.4" fill="#fff" stroke="#C5CCD2" stroke-width="0.8"/>
<rect x="574.74" y="1026.18" width="4.4" height="4.4" fill="#fff" stroke="#C5CCD2" stroke-width="0.8"/>
<rect x="591.23" y="1025.27" width="4.4" height="4.4" fill="#fff" stroke="#C5CCD2" stroke-width="0.8"/>
<rect x="607.72" y="1026.18" width="4.4" height="4.4" fill="#fff" stroke="#C5CCD2" stroke-width="0.8"/>
<rect x="624.21" y="1026.18" width="4.4" height="4.4" fill="#fff" stroke="#C5CCD2" stroke-width="0.8"/>
<rect x="640.7" y="1026.18" width="4.4" height="4.4" fill="#fff" stroke="#C5CCD2" stroke-width="0.8"/>
<rect x="657.19" y="1026.18" width="4.4" height="4.4" fill="#fff" stroke="#C5CCD2" stroke-width="0.8"/>
<rect x="673.68" y="1026.18" width="4.4" height="4.4" fill="#fff" stroke="#C5CCD2" stroke-width="0.8"/>
<polygon points="478,1021.2 480.53,1025.6 475.47,1025.6" fill="#fff" stroke="#C5CCD2" stroke-width="0.8"/>
<polygon points="494.49,1020.29 497.02,1024.69 491.96,1024.69" fill="#fff" stroke="#C5CCD2" stroke-width="0.8"/>
<polygon points="510.98,1014.84 513.51,1019.24 508.45,1019.24" fill="#fff" stroke="#C5CCD2" stroke-width="0.8"/>
<polygon points="527.47,1001.22 530,1005.62 524.94,1005.62" fill="#fff" stroke="#C5CCD2" stroke-width="0.8"/>
<polygon points="543.96,992.14 546.49,996.54 541.43,996.54" fill="#fff" stroke="#C5CCD2" stroke-width="0.8"/>
<polygon points="560.45,1007.58 562.98,1011.98 557.92,1011.98" fill="#fff" stroke="#C5CCD2" stroke-width="0.8"/>
<polygon points="576.94,1014.84 579.47,1019.24 574.41,1019.24" fill="#fff" stroke="#C5CCD2" stroke-width="0.8"/>
<polygon points="593.43,1019.38 595.96,1023.78 590.9,1023.78" fill="#fff" stroke="#C5CCD2" stroke-width="0.8"/>
<polygon points="609.92,1017.56 612.45,1021.96 607.39,1021.96" fill="#fff" stroke="#C5CCD2" stroke-width="0.8"/>
<polygon points="626.41,1010.3 628.94,1014.7 623.88,1014.7" fill="#fff" stroke="#C5CCD2" stroke-width="0.8"/>
<polygon points="642.9,1014.84 645.43,1019.24 640.37,1019.24" fill="#fff" stroke="#C5CCD2" stroke-width="0.8"/>
<polygon points="659.39,1010.3 661.92,1014.7 656.86,1014.7" fill="#fff" stroke="#C5CCD2" stroke-width="0.8"/>
<polygon points="675.88,1012.12 678.41,1016.52 673.35,1016.52" fill="#fff" stroke="#C5CCD2" stroke-width="0.8"/>
<circle cx="478" cy="1026.56" r="1.87" fill="#C5CCD2"/>
<circle cx="494.49" cy="1025.65" r="1.87" fill="#C5CCD2"/>
<circle cx="510.98" cy="1022.02" r="1.87" fill="#C5CCD2"/>
<circle cx="527.47" cy="1023.84" r="1.87" fill="#C5CCD2"/>
<circle cx="543.96" cy="1025.65" r="1.87" fill="#C5CCD2"/>
<circle cx="560.45" cy="1026.56" r="1.87" fill="#C5CCD2"/>
<circle cx="576.94" cy="1025.65" r="1.87" fill="#C5CCD2"/>
<circle cx="593.43" cy="1023.84" r="1.87" fill="#C5CCD2"/>
<circle cx="609.92" cy="1026.56" r="1.87" fill="#C5CCD2"/>
<circle cx="626.41" cy="1027.47" r="1.87" fill="#C5CCD2"/>
<circle cx="642.9" cy="1026.56" r="1.87" fill="#C5CCD2"/>
<circle cx="659.39" cy="1025.65" r="1.87" fill="#C5CCD2"/>
<circle cx="675.88" cy="1026.56" r="1.87" fill="#C5CCD2"/>
<line x1="478" y1="1022.02" x2="478" y2="1028.38" stroke="#108E4E" stroke-width="1.5"/>
<line x1="475" y1="1022.02" x2="481" y2="1022.02" stroke="#108E4E" stroke-width="1.5"/>
<line x1="475" y1="1028.38" x2="481" y2="1028.38" stroke="#108E4E" stroke-width="1.5"/>
<line x1="494.49" y1="1022.02" x2="494.49" y2="1028.38" stroke="#108E4E" stroke-width="1.5"/>
<line x1="491.49" y1="1022.02" x2="497.49" y2="1022.02" stroke="#108E4E" stroke-width="1.5"/>
<line x1="491.49" y1="1028.38" x2="497.49" y2="1028.38" stroke="#108E4E" stroke-width="1.5"/>
<line x1="510.98" y1="1007.04" x2="510.98" y2="1028.38" stroke="#108E4E" stroke-width="1.5"/>
<line x1="507.98" y1="1007.04" x2="513.98" y2="1007.04" stroke="#108E4E" stroke-width="1.5"/>
<line x1="507.98" y1="1028.38" x2="513.98" y2="1028.38" stroke="#108E4E" stroke-width="1.5"/>
<line x1="527.47" y1="1017.48" x2="527.47" y2="1029.28" stroke="#108E4E" stroke-width="1.5"/>
<line x1="524.47" y1="1017.48" x2="530.47" y2="1017.48" stroke="#108E4E" stroke-width="1.5"/>
<line x1="524.47" y1="1029.28" x2="530.47" y2="1029.28" stroke="#108E4E" stroke-width="1.5"/>
<line x1="543.96" y1="1020.2" x2="543.96" y2="1029.28" stroke="#108E4E" stroke-width="1.5"/>
<line x1="540.96" y1="1020.2" x2="546.96" y2="1020.2" stroke="#108E4E" stroke-width="1.5"/>
<line x1="540.96" y1="1029.28" x2="546.96" y2="1029.28" stroke="#108E4E" stroke-width="1.5"/>
<line x1="560.45" y1="1019.3" x2="560.45" y2="1029.28" stroke="#108E4E" stroke-width="1.5"/>
<line x1="557.45" y1="1019.3" x2="563.45" y2="1019.3" stroke="#108E4E" stroke-width="1.5"/>
<line x1="557.45" y1="1029.28" x2="563.45" y2="1029.28" stroke="#108E4E" stroke-width="1.5"/>
<line x1="576.94" y1="1017.48" x2="576.94" y2="1029.28" stroke="#108E4E" stroke-width="1.5"/>
<line x1="573.94" y1="1017.48" x2="579.94" y2="1017.48" stroke="#108E4E" stroke-width="1.5"/>
<line x1="573.94" y1="1029.28" x2="579.94" y2="1029.28" stroke="#108E4E" stroke-width="1.5"/>
<line x1="593.43" y1="1018.39" x2="593.43" y2="1029.28" stroke="#108E4E" stroke-width="1.5"/>
<line x1="590.43" y1="1018.39" x2="596.43" y2="1018.39" stroke="#108E4E" stroke-width="1.5"/>
<line x1="590.43" y1="1029.28" x2="596.43" y2="1029.28" stroke="#108E4E" stroke-width="1.5"/>
<line x1="609.92" y1="1001.32" x2="609.92" y2="1029.28" stroke="#108E4E" stroke-width="1.5"/>
<line x1="606.92" y1="1001.32" x2="612.92" y2="1001.32" stroke="#108E4E" stroke-width="1.5"/>
<line x1="606.92" y1="1029.28" x2="612.92" y2="1029.28" stroke="#108E4E" stroke-width="1.5"/>
<line x1="626.41" y1="1017.48" x2="626.41" y2="1029.28" stroke="#108E4E" stroke-width="1.5"/>
<line x1="623.41" y1="1017.48" x2="629.41" y2="1017.48" stroke="#108E4E" stroke-width="1.5"/>
<line x1="623.41" y1="1029.28" x2="629.41" y2="1029.28" stroke="#108E4E" stroke-width="1.5"/>
<line x1="642.9" y1="1008.85" x2="642.9" y2="1030.19" stroke="#108E4E" stroke-width="1.5"/>
<line x1="639.9" y1="1008.85" x2="645.9" y2="1008.85" stroke="#108E4E" stroke-width="1.5"/>
<line x1="639.9" y1="1030.19" x2="645.9" y2="1030.19" stroke="#108E4E" stroke-width="1.5"/>
<line x1="659.39" y1="1015.66" x2="659.39" y2="1029.28" stroke="#108E4E" stroke-width="1.5"/>
<line x1="656.39" y1="1015.66" x2="662.39" y2="1015.66" stroke="#108E4E" stroke-width="1.5"/>
<line x1="656.39" y1="1029.28" x2="662.39" y2="1029.28" stroke="#108E4E" stroke-width="1.5"/>
<line x1="675.88" y1="1007.04" x2="675.88" y2="1029.28" stroke="#108E4E" stroke-width="1.5"/>
<line x1="672.88" y1="1007.04" x2="678.88" y2="1007.04" stroke="#108E4E" stroke-width="1.5"/>
<line x1="672.88" y1="1029.28" x2="678.88" y2="1029.28" stroke="#108E4E" stroke-width="1.5"/>
<polyline points="478,1025.65 494.49,1025.65 510.98,1017.3 527.47,1023.02 543.96,1025.65 560.45,1024.74 576.94,1023.84 593.43,1023.84 609.92,1016.66 626.41,1023.84 642.9,1020.66 659.39,1022.47 675.88,1020.66" fill="none" stroke="#108E4E" stroke-width="1.55" stroke-linejoin="round" stroke-dasharray="4.5,2.5"/>
<circle cx="478" cy="1025.65" r="1.0" fill="#108E4E"/>
<circle cx="494.49" cy="1025.65" r="1.0" fill="#108E4E"/>
<circle cx="510.98" cy="1017.3" r="1.0" fill="#108E4E"/>
<circle cx="527.47" cy="1023.02" r="1.0" fill="#108E4E"/>
<circle cx="543.96" cy="1025.65" r="1.0" fill="#108E4E"/>
<circle cx="560.45" cy="1024.74" r="1.0" fill="#108E4E"/>
<circle cx="576.94" cy="1023.84" r="1.0" fill="#108E4E"/>
<circle cx="593.43" cy="1023.84" r="1.0" fill="#108E4E"/>
<circle cx="609.92" cy="1016.66" r="1.0" fill="#108E4E"/>
<circle cx="626.41" cy="1023.84" r="1.0" fill="#108E4E"/>
<circle cx="642.9" cy="1020.66" r="1.0" fill="#108E4E"/>
<circle cx="659.39" cy="1022.47" r="1.0" fill="#108E4E"/>
<circle cx="675.88" cy="1020.66" r="1.0" fill="#108E4E"/>
<line x1="478" y1="1016.66" x2="478" y2="1028.92" stroke="#246A85" stroke-width="1.5"/>
<line x1="475" y1="1016.66" x2="481" y2="1016.66" stroke="#246A85" stroke-width="1.5"/>
<line x1="475" y1="1028.92" x2="481" y2="1028.92" stroke="#246A85" stroke-width="1.5"/>
<line x1="494.49" y1="1019.3" x2="494.49" y2="1028.38" stroke="#246A85" stroke-width="1.5"/>
<line x1="491.49" y1="1019.3" x2="497.49" y2="1019.3" stroke="#246A85" stroke-width="1.5"/>
<line x1="491.49" y1="1028.38" x2="497.49" y2="1028.38" stroke="#246A85" stroke-width="1.5"/>
<line x1="510.98" y1="911.3" x2="510.98" y2="1031.1" stroke="#246A85" stroke-width="1.5"/>
<line x1="507.98" y1="911.3" x2="513.98" y2="911.3" stroke="#246A85" stroke-width="1.5"/>
<line x1="507.98" y1="1031.1" x2="513.98" y2="1031.1" stroke="#246A85" stroke-width="1.5"/>
<line x1="527.47" y1="1007.04" x2="527.47" y2="1029.28" stroke="#246A85" stroke-width="1.5"/>
<line x1="524.47" y1="1007.04" x2="530.47" y2="1007.04" stroke="#246A85" stroke-width="1.5"/>
<line x1="524.47" y1="1029.28" x2="530.47" y2="1029.28" stroke="#246A85" stroke-width="1.5"/>
<line x1="543.96" y1="1008.67" x2="543.96" y2="1029.28" stroke="#246A85" stroke-width="1.5"/>
<line x1="540.96" y1="1008.67" x2="546.96" y2="1008.67" stroke="#246A85" stroke-width="1.5"/>
<line x1="540.96" y1="1029.28" x2="546.96" y2="1029.28" stroke="#246A85" stroke-width="1.5"/>
<line x1="560.45" y1="1008.67" x2="560.45" y2="1031.1" stroke="#246A85" stroke-width="1.5"/>
<line x1="557.45" y1="1008.67" x2="563.45" y2="1008.67" stroke="#246A85" stroke-width="1.5"/>
<line x1="557.45" y1="1031.1" x2="563.45" y2="1031.1" stroke="#246A85" stroke-width="1.5"/>
<line x1="576.94" y1="997.96" x2="576.94" y2="1029.28" stroke="#246A85" stroke-width="1.5"/>
<line x1="573.94" y1="997.96" x2="579.94" y2="997.96" stroke="#246A85" stroke-width="1.5"/>
<line x1="573.94" y1="1029.28" x2="579.94" y2="1029.28" stroke="#246A85" stroke-width="1.5"/>
<line x1="593.43" y1="1009.31" x2="593.43" y2="1028.38" stroke="#246A85" stroke-width="1.5"/>
<line x1="590.43" y1="1009.31" x2="596.43" y2="1009.31" stroke="#246A85" stroke-width="1.5"/>
<line x1="590.43" y1="1028.38" x2="596.43" y2="1028.38" stroke="#246A85" stroke-width="1.5"/>
<line x1="609.92" y1="1001.32" x2="609.92" y2="1029.28" stroke="#246A85" stroke-width="1.5"/>
<line x1="606.92" y1="1001.32" x2="612.92" y2="1001.32" stroke="#246A85" stroke-width="1.5"/>
<line x1="606.92" y1="1029.28" x2="612.92" y2="1029.28" stroke="#246A85" stroke-width="1.5"/>
<line x1="626.41" y1="1008.67" x2="626.41" y2="1028.38" stroke="#246A85" stroke-width="1.5"/>
<line x1="623.41" y1="1008.67" x2="629.41" y2="1008.67" stroke="#246A85" stroke-width="1.5"/>
<line x1="623.41" y1="1028.38" x2="629.41" y2="1028.38" stroke="#246A85" stroke-width="1.5"/>
<line x1="642.9" y1="1002.23" x2="642.9" y2="1028.38" stroke="#246A85" stroke-width="1.5"/>
<line x1="639.9" y1="1002.23" x2="645.9" y2="1002.23" stroke="#246A85" stroke-width="1.5"/>
<line x1="639.9" y1="1028.38" x2="645.9" y2="1028.38" stroke="#246A85" stroke-width="1.5"/>
<line x1="659.39" y1="1006.4" x2="659.39" y2="1030.19" stroke="#246A85" stroke-width="1.5"/>
<line x1="656.39" y1="1006.4" x2="662.39" y2="1006.4" stroke="#246A85" stroke-width="1.5"/>
<line x1="656.39" y1="1030.19" x2="662.39" y2="1030.19" stroke="#246A85" stroke-width="1.5"/>
<line x1="675.88" y1="1006.4" x2="675.88" y2="1030.19" stroke="#246A85" stroke-width="1.5"/>
<line x1="672.88" y1="1006.4" x2="678.88" y2="1006.4" stroke="#246A85" stroke-width="1.5"/>
<line x1="672.88" y1="1030.19" x2="678.88" y2="1030.19" stroke="#246A85" stroke-width="1.5"/>
<polyline points="478,1022.47 494.49,1023.75 510.98,982.98 527.47,1017.3 543.96,1018.3 560.45,1019.21 576.94,1012.85 593.43,1019.21 609.92,1014.39 626.41,1016.66 642.9,1015.48 659.39,1017.48 675.88,1018.3" fill="none" stroke="#246A85" stroke-width="1.55" stroke-linejoin="round"/>
<circle cx="478" cy="1022.47" r="2.7" fill="#246A85"/>
<circle cx="494.49" cy="1023.75" r="2.7" fill="#246A85"/>
<circle cx="510.98" cy="982.98" r="2.7" fill="#246A85"/>
<circle cx="527.47" cy="1017.3" r="2.7" fill="#246A85"/>
<circle cx="543.96" cy="1018.3" r="2.7" fill="#246A85"/>
<circle cx="560.45" cy="1019.21" r="2.7" fill="#246A85"/>
<circle cx="576.94" cy="1012.85" r="2.7" fill="#246A85"/>
<circle cx="593.43" cy="1019.21" r="2.7" fill="#246A85"/>
<circle cx="609.92" cy="1014.39" r="2.7" fill="#246A85"/>
<circle cx="626.41" cy="1016.66" r="2.7" fill="#246A85"/>
<circle cx="642.9" cy="1015.48" r="2.7" fill="#246A85"/>
<circle cx="659.39" cy="1017.48" r="2.7" fill="#246A85"/>
<circle cx="675.88" cy="1018.3" r="2.7" fill="#246A85"/>
<line x1="448.5" y1="1031.85" x2="448.5" y2="939.8" stroke="#000" stroke-width="1.6"/>
<line x1="448.5" y1="894.55" x2="448.5" y2="927" stroke="#000" stroke-width="1.6"/>
<line x1="442" y1="1031.1" x2="448.5" y2="1031.1" stroke="#000" stroke-width="1.5"/>
<text x="435.8" y="1034.5" font-size="9.8" text-anchor="end" fill="#000" stroke="#000" stroke-width="0.12">0</text>
<line x1="442" y1="1012.94" x2="448.5" y2="1012.94" stroke="#000" stroke-width="1.5"/>
<text x="435.8" y="1016.34" font-size="9.8" text-anchor="end" fill="#000" stroke="#000" stroke-width="0.12">200</text>
<line x1="442" y1="994.78" x2="448.5" y2="994.78" stroke="#000" stroke-width="1.5"/>
<text x="435.8" y="998.18" font-size="9.8" text-anchor="end" fill="#000" stroke="#000" stroke-width="0.12">400</text>
<line x1="442" y1="976.62" x2="448.5" y2="976.62" stroke="#000" stroke-width="1.5"/>
<text x="435.8" y="980.02" font-size="9.8" text-anchor="end" fill="#000" stroke="#000" stroke-width="0.12">600</text>
<line x1="442" y1="958.46" x2="448.5" y2="958.46" stroke="#000" stroke-width="1.5"/>
<text x="435.8" y="961.86" font-size="9.8" text-anchor="end" fill="#000" stroke="#000" stroke-width="0.12">800</text>
<line x1="442" y1="940.3" x2="448.5" y2="940.3" stroke="#000" stroke-width="1.5"/>
<text x="435.8" y="943.7" font-size="9.8" text-anchor="end" fill="#000" stroke="#000" stroke-width="0.12">1000</text>
<line x1="445.2" y1="1022.02" x2="448.5" y2="1022.02" stroke="#000" stroke-width="1.4"/>
<line x1="445.2" y1="1003.86" x2="448.5" y2="1003.86" stroke="#000" stroke-width="1.4"/>
<line x1="445.2" y1="985.7" x2="448.5" y2="985.7" stroke="#000" stroke-width="1.4"/>
<line x1="445.2" y1="967.54" x2="448.5" y2="967.54" stroke="#000" stroke-width="1.4"/>
<line x1="445.2" y1="949.38" x2="448.5" y2="949.38" stroke="#000" stroke-width="1.4"/>
<line x1="442" y1="914.6" x2="448.5" y2="914.6" stroke="#000" stroke-width="1.5"/>
<text x="435.8" y="918" font-size="9.8" text-anchor="end" fill="#000" stroke="#000" stroke-width="0.12">2000</text>
<line x1="442" y1="904.95" x2="448.5" y2="904.95" stroke="#000" stroke-width="1.5"/>
<text x="435.8" y="908.35" font-size="9.8" text-anchor="end" fill="#000" stroke="#000" stroke-width="0.12">2500</text>
<line x1="442" y1="895.3" x2="448.5" y2="895.3" stroke="#000" stroke-width="1.5"/>
<text x="435.8" y="898.7" font-size="9.8" text-anchor="end" fill="#000" stroke="#000" stroke-width="0.12">3000</text>
<line x1="445.2" y1="921.02" x2="448.5" y2="921.02" stroke="#000" stroke-width="1.4"/>
<line x1="445.2" y1="909.77" x2="448.5" y2="909.77" stroke="#000" stroke-width="1.4"/>
<line x1="445.2" y1="900.12" x2="448.5" y2="900.12" stroke="#000" stroke-width="1.4"/>
<line x1="443.7" y1="931.1" x2="452.9" y2="922.3" stroke="#000" stroke-width="1.5"/>
<line x1="443.7" y1="943.8" x2="452.9" y2="935.5" stroke="#000" stroke-width="1.5"/>
<line x1="469.9" y1="1056.6" x2="685" y2="1056.6" stroke="#000" stroke-width="1.6"/>
<line x1="478" y1="1056.6" x2="478" y2="1062.4" stroke="#000" stroke-width="1.4"/>
<text x="476.3" y="1076.6" font-size="9.8" text-anchor="middle" fill="#000" stroke="#000" stroke-width="0.12">-7</text>
<line x1="494.49" y1="1056.6" x2="494.49" y2="1062.4" stroke="#000" stroke-width="1.4"/>
<text x="494.29" y="1076.6" font-size="9.8" text-anchor="middle" fill="#000" stroke="#000" stroke-width="0.12">0</text>
<line x1="510.98" y1="1056.6" x2="510.98" y2="1062.4" stroke="#000" stroke-width="1.4"/>
<text x="510.78" y="1076.6" font-size="9.8" text-anchor="middle" fill="#000" stroke="#000" stroke-width="0.12">1</text>
<line x1="527.47" y1="1056.6" x2="527.47" y2="1062.4" stroke="#000" stroke-width="1.4"/>
<text x="527.27" y="1076.6" font-size="9.8" text-anchor="middle" fill="#000" stroke="#000" stroke-width="0.12">3</text>
<line x1="543.96" y1="1056.6" x2="543.96" y2="1062.4" stroke="#000" stroke-width="1.4"/>
<text x="543.76" y="1076.6" font-size="9.8" text-anchor="middle" fill="#000" stroke="#000" stroke-width="0.12">6</text>
<line x1="560.45" y1="1056.6" x2="560.45" y2="1062.4" stroke="#000" stroke-width="1.4"/>
<text x="560.25" y="1076.6" font-size="9.8" text-anchor="middle" fill="#000" stroke="#000" stroke-width="0.12">12</text>
<line x1="576.94" y1="1056.6" x2="576.94" y2="1062.4" stroke="#000" stroke-width="1.4"/>
<text x="576.74" y="1076.6" font-size="9.8" text-anchor="middle" fill="#000" stroke="#000" stroke-width="0.12">18</text>
<line x1="593.43" y1="1056.6" x2="593.43" y2="1062.4" stroke="#000" stroke-width="1.4"/>
<text x="593.23" y="1076.6" font-size="9.8" text-anchor="middle" fill="#000" stroke="#000" stroke-width="0.12">24</text>
<line x1="609.92" y1="1056.6" x2="609.92" y2="1062.4" stroke="#000" stroke-width="1.4"/>
<text x="609.72" y="1076.6" font-size="9.8" text-anchor="middle" fill="#000" stroke="#000" stroke-width="0.12">30</text>
<line x1="626.41" y1="1056.6" x2="626.41" y2="1062.4" stroke="#000" stroke-width="1.4"/>
<text x="626.21" y="1076.6" font-size="9.8" text-anchor="middle" fill="#000" stroke="#000" stroke-width="0.12">36</text>
<line x1="642.9" y1="1056.6" x2="642.9" y2="1062.4" stroke="#000" stroke-width="1.4"/>
<text x="642.7" y="1076.6" font-size="9.8" text-anchor="middle" fill="#000" stroke="#000" stroke-width="0.12">42</text>
<line x1="659.39" y1="1056.6" x2="659.39" y2="1062.4" stroke="#000" stroke-width="1.4"/>
<text x="659.19" y="1076.6" font-size="9.8" text-anchor="middle" fill="#000" stroke="#000" stroke-width="0.12">48</text>
<line x1="675.88" y1="1056.6" x2="675.88" y2="1062.4" stroke="#000" stroke-width="1.4"/>
<text x="675.68" y="1076.6" font-size="9.8" text-anchor="middle" fill="#000" stroke="#000" stroke-width="0.12">54</text>
<line x1="478" y1="1043" x2="478" y2="1048.5" stroke="#000" stroke-width="1.2"/>
<polygon points="474.8,1047.1 481.2,1047.1 478,1052.5" fill="#000" stroke="#000" stroke-width="0.3" stroke-linejoin="miter"/>
<line x1="494.49" y1="1043" x2="494.49" y2="1048.5" stroke="#000" stroke-width="1.2"/>
<polygon points="491.29,1047.1 497.69,1047.1 494.49,1052.5" fill="#000" stroke="#000" stroke-width="0.3" stroke-linejoin="miter"/>
<line x1="516.48" y1="1060.25" x2="521.98" y2="1052.95" stroke="#000" stroke-width="1.4"/>
<line x1="530.97" y1="1060.25" x2="536.47" y2="1052.95" stroke="#000" stroke-width="1.4"/>
<line x1="534.97" y1="1060.25" x2="540.47" y2="1052.95" stroke="#000" stroke-width="1.4"/>
<polyline points="478,1084.8 478,1087.8 494.49,1087.8 494.49,1084.8" fill="none" stroke="#000" stroke-width="1.5"/>
<polyline points="510.98,1084.8 510.98,1087.8 675.88,1087.8 675.88,1084.8" fill="none" stroke="#000" stroke-width="1.5"/>
<text x="486.3" y="1101.6" font-size="9.8" text-anchor="middle" fill="#000" stroke="#000" stroke-width="0.12">Day</text>
<text x="594" y="1101.6" font-size="9.8" text-anchor="middle" fill="#000" stroke="#000" stroke-width="0.12">Month</text>
</svg></div></body></html>
